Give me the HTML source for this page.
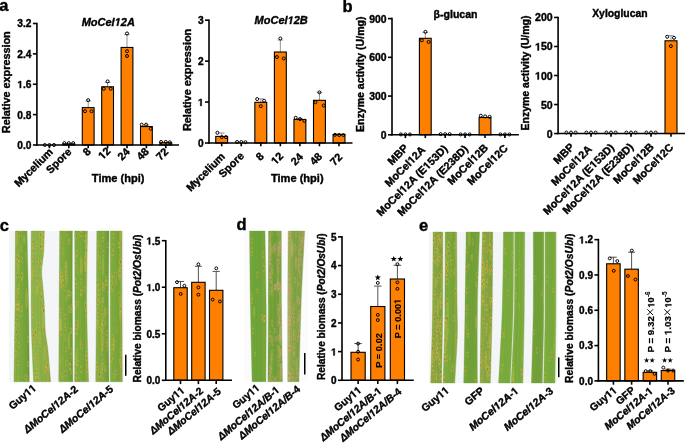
<!DOCTYPE html>
<html><head><meta charset="utf-8"><style>
html,body{margin:0;padding:0;background:#fff;}
svg{display:block;font-family:"Liberation Sans", sans-serif;filter:blur(0.45px);}
text{stroke:#000;stroke-width:0.38px;}
</style></head><body>
<svg width="685" height="443" viewBox="0 0 685 443">
<defs><filter id="pblur" x="-5%" y="-5%" width="110%" height="110%"><feGaussianBlur stdDeviation="0.55"/></filter><linearGradient id="lg1" x1="0" y1="0" x2="1" y2="0"><stop offset="0" stop-color="#a1a949"/><stop offset="0.15" stop-color="#86ad42"/><stop offset="0.5" stop-color="#7eab3f"/><stop offset="0.85" stop-color="#75a13a"/><stop offset="1" stop-color="#658d33"/></linearGradient><clipPath id="clg1"><path d="M15.40,231.10 C15.37,237.58 15.27,257.18 15.20,270.00 C15.13,282.82 15.12,295.50 15.00,308.00 C14.88,320.50 14.67,332.70 14.50,345.00 C14.33,357.30 14.08,375.67 14.00,381.80 L29.30,381.80 C29.25,375.67 29.12,357.30 29.00,345.00 C28.88,332.70 28.80,320.50 28.60,308.00 C28.40,295.50 28.07,282.82 27.80,270.00 C27.53,257.18 27.13,237.58 27.00,231.10 Z"/></clipPath><linearGradient id="lg2" x1="0" y1="0" x2="1" y2="0"><stop offset="0" stop-color="#8fb249"/><stop offset="0.3" stop-color="#96b64f"/><stop offset="0.7" stop-color="#8bae45"/><stop offset="0.9" stop-color="#9aa949"/><stop offset="1" stop-color="#7e8d3e"/></linearGradient><clipPath id="clg2"><path d="M31.30,231.10 C31.28,234.25 31.22,244.85 31.20,250.00 C31.18,255.15 31.20,258.33 31.20,262.00 C31.20,265.67 31.20,268.33 31.20,272.00 C31.20,275.67 31.20,278.50 31.20,284.00 C31.20,289.50 31.15,297.33 31.20,305.00 C31.25,312.67 31.33,322.50 31.50,330.00 C31.67,337.50 31.85,341.37 32.20,350.00 C32.55,358.63 33.37,376.50 33.60,381.80 L50.60,381.80 C50.15,376.50 48.80,358.63 47.90,350.00 C47.00,341.37 45.80,337.50 45.20,330.00 C44.60,322.50 44.73,312.67 44.30,305.00 C43.87,297.33 43.05,289.50 42.60,284.00 C42.15,278.50 41.60,275.67 41.60,272.00 C41.60,268.33 42.23,265.67 42.60,262.00 C42.97,258.33 43.52,255.15 43.80,250.00 C44.08,244.85 44.22,234.25 44.30,231.10 Z"/></clipPath><linearGradient id="lg3" x1="0" y1="0" x2="1" y2="0"><stop offset="0" stop-color="#a1a949"/><stop offset="0.15" stop-color="#86ad42"/><stop offset="0.5" stop-color="#7eab3f"/><stop offset="0.85" stop-color="#75a13a"/><stop offset="1" stop-color="#658d33"/></linearGradient><clipPath id="clg3"><path d="M59.70,231.10 C59.62,243.92 59.35,282.88 59.20,308.00 C59.05,333.12 58.87,369.50 58.80,381.80 L72.90,381.80 C72.82,369.50 72.48,333.12 72.40,308.00 C72.32,282.88 72.40,243.92 72.40,231.10 Z"/></clipPath><linearGradient id="lg4" x1="0" y1="0" x2="1" y2="0"><stop offset="0" stop-color="#80ab3e"/><stop offset="0.3" stop-color="#80ac3f"/><stop offset="0.7" stop-color="#79a63a"/><stop offset="0.9" stop-color="#95a944"/><stop offset="1" stop-color="#8d8f42"/></linearGradient><clipPath id="clg4"><path d="M74.70,231.10 C74.75,243.92 75.00,282.88 75.00,308.00 C75.00,333.12 74.75,369.50 74.70,381.80 L88.60,381.80 C88.30,369.50 87.00,333.12 86.80,308.00 C86.60,282.88 87.30,243.92 87.40,231.10 Z"/></clipPath><linearGradient id="lg5" x1="0" y1="0" x2="1" y2="0"><stop offset="0" stop-color="#a1a949"/><stop offset="0.15" stop-color="#86ad42"/><stop offset="0.5" stop-color="#7eab3f"/><stop offset="0.85" stop-color="#75a13a"/><stop offset="1" stop-color="#658d33"/></linearGradient><clipPath id="clg5"><path d="M96.80,231.10 C96.73,243.92 96.57,282.88 96.40,308.00 C96.23,333.12 95.90,369.50 95.80,381.80 L109.00,381.80 C108.92,369.50 108.50,333.12 108.50,308.00 C108.50,282.88 108.92,243.92 109.00,231.10 Z"/></clipPath><linearGradient id="lg6" x1="0" y1="0" x2="1" y2="0"><stop offset="0" stop-color="#80ab3e"/><stop offset="0.3" stop-color="#80ac3f"/><stop offset="0.7" stop-color="#79a63a"/><stop offset="0.9" stop-color="#95a944"/><stop offset="1" stop-color="#8d8f42"/></linearGradient><clipPath id="clg6"><path d="M110.30,231.10 C110.30,243.92 110.30,282.88 110.30,308.00 C110.30,333.12 110.30,369.50 110.30,381.80 L122.40,381.80 C122.33,369.50 122.07,333.12 122.00,308.00 C121.93,282.88 122.00,243.92 122.00,231.10 Z"/></clipPath><linearGradient id="lg7" x1="0" y1="0" x2="1" y2="0"><stop offset="0" stop-color="#74a83c"/><stop offset="0.5" stop-color="#6ea438"/><stop offset="1" stop-color="#7aa63e"/></linearGradient><clipPath id="clg7"><path d="M249.60,231.10 C249.75,243.75 250.07,281.90 250.50,307.00 C250.93,332.10 251.92,369.25 252.20,381.70 L266.00,381.70 C266.03,369.25 266.37,332.10 266.20,307.00 C266.03,281.90 265.20,243.75 265.00,231.10 Z"/></clipPath><linearGradient id="lg8" x1="0" y1="0" x2="1" y2="0"><stop offset="0" stop-color="#75a53a"/><stop offset="0.5" stop-color="#72a139"/><stop offset="1" stop-color="#79a33c"/></linearGradient><clipPath id="clg8"><path d="M268.60,231.10 C268.55,243.75 268.40,281.90 268.30,307.00 C268.20,332.10 268.05,369.25 268.00,381.70 L282.50,381.70 C282.33,369.25 281.70,332.10 281.50,307.00 C281.30,281.90 281.33,243.75 281.30,231.10 Z"/></clipPath><linearGradient id="lg9" x1="0" y1="0" x2="1" y2="0"><stop offset="0" stop-color="#b8b067"/><stop offset="0.12" stop-color="#9aae52"/><stop offset="0.4" stop-color="#80a544"/><stop offset="1" stop-color="#88a147"/></linearGradient><clipPath id="clg9"><path d="M288.20,231.10 C288.13,243.75 287.87,281.90 287.80,307.00 C287.73,332.10 287.80,369.25 287.80,381.70 L299.00,381.70 C299.33,369.25 300.07,332.10 301.00,307.00 C301.93,281.90 304.00,243.75 304.60,231.10 Z"/></clipPath><linearGradient id="lg10" x1="0" y1="0" x2="1" y2="0"><stop offset="0" stop-color="#9ca949"/><stop offset="0.3" stop-color="#8ba944"/><stop offset="0.7" stop-color="#88a542"/><stop offset="1" stop-color="#7d9a3e"/></linearGradient><clipPath id="clg10"><path d="M433.10,232.00 C433.02,244.67 432.98,282.83 432.60,308.00 C432.22,333.17 431.10,370.50 430.80,383.00 L441.60,383.00 C441.78,370.50 442.52,333.17 442.70,308.00 C442.88,282.83 442.70,244.67 442.70,232.00 Z"/></clipPath><linearGradient id="lg11" x1="0" y1="0" x2="1" y2="0"><stop offset="0" stop-color="#80ab3e"/><stop offset="0.3" stop-color="#80ac3f"/><stop offset="0.7" stop-color="#79a63a"/><stop offset="0.9" stop-color="#95a944"/><stop offset="1" stop-color="#8d8f42"/></linearGradient><clipPath id="clg11"><path d="M445.20,232.00 C445.15,244.67 445.02,290.83 444.90,308.00 C444.78,325.17 444.80,322.50 444.50,335.00 C444.20,347.50 443.33,375.00 443.10,383.00 L454.80,383.00 C455.22,375.00 456.92,347.50 457.30,335.00 C457.68,322.50 457.22,325.17 457.10,308.00 C456.98,290.83 456.68,244.67 456.60,232.00 Z"/></clipPath><linearGradient id="lg12" x1="0" y1="0" x2="1" y2="0"><stop offset="0" stop-color="#75a53a"/><stop offset="0.5" stop-color="#72a139"/><stop offset="1" stop-color="#79a33c"/></linearGradient><clipPath id="clg12"><path d="M466.20,232.00 C466.02,244.67 465.50,282.83 465.10,308.00 C464.70,333.17 464.02,370.50 463.80,383.00 L477.40,383.00 C477.40,370.50 477.05,333.17 477.40,308.00 C477.75,282.83 479.15,244.67 479.50,232.00 Z"/></clipPath><linearGradient id="lg13" x1="0" y1="0" x2="1" y2="0"><stop offset="0" stop-color="#9ca949"/><stop offset="0.3" stop-color="#8ba944"/><stop offset="0.7" stop-color="#88a542"/><stop offset="1" stop-color="#7d9a3e"/></linearGradient><clipPath id="clg13"><path d="M482.40,232.00 C482.17,244.67 481.38,282.83 481.00,308.00 C480.62,333.17 480.25,370.50 480.10,383.00 L490.40,383.00 C490.70,370.50 491.82,333.17 492.20,308.00 C492.58,282.83 492.62,244.67 492.70,232.00 Z"/></clipPath><linearGradient id="lg14" x1="0" y1="0" x2="1" y2="0"><stop offset="0" stop-color="#80b040"/><stop offset="0.5" stop-color="#7bac3c"/><stop offset="1" stop-color="#82ac42"/></linearGradient><clipPath id="clg14"><path d="M503.50,232.00 C503.30,244.67 503.10,282.83 502.30,308.00 C501.50,333.17 499.30,370.50 498.70,383.00 L510.20,383.00 C510.68,370.50 512.55,333.17 513.10,308.00 C513.65,282.83 513.43,244.67 513.50,232.00 Z"/></clipPath><linearGradient id="lg15" x1="0" y1="0" x2="1" y2="0"><stop offset="0" stop-color="#80b040"/><stop offset="0.5" stop-color="#7bac3c"/><stop offset="1" stop-color="#82ac42"/></linearGradient><clipPath id="clg15"><path d="M514.70,232.00 C514.65,244.67 514.97,282.83 514.40,308.00 C513.83,333.17 511.82,370.50 511.30,383.00 L522.90,383.00 C523.13,370.50 524.00,333.17 524.30,308.00 C524.60,282.83 524.63,244.67 524.70,232.00 Z"/></clipPath><linearGradient id="lg16" x1="0" y1="0" x2="1" y2="0"><stop offset="0" stop-color="#75a53a"/><stop offset="0.5" stop-color="#72a139"/><stop offset="1" stop-color="#79a33c"/></linearGradient><clipPath id="clg16"><path d="M533.30,232.00 C533.30,244.67 533.60,282.83 533.30,308.00 C533.00,333.17 531.80,370.50 531.50,383.00 L542.40,383.00 C542.63,370.50 543.57,333.17 543.80,308.00 C544.03,282.83 543.80,244.67 543.80,232.00 Z"/></clipPath><linearGradient id="lg17" x1="0" y1="0" x2="1" y2="0"><stop offset="0" stop-color="#80b040"/><stop offset="0.5" stop-color="#7bac3c"/><stop offset="1" stop-color="#82ac42"/></linearGradient><clipPath id="clg17"><path d="M545.10,232.00 C545.10,244.67 545.32,282.83 545.10,308.00 C544.88,333.17 544.02,370.50 543.80,383.00 L555.00,383.00 C555.15,370.50 555.75,333.17 555.90,308.00 C556.05,282.83 555.90,244.67 555.90,232.00 Z"/></clipPath></defs>
<g filter="url(#pblur)">
<rect x="9.1" y="231.1" width="114.5" height="150.7" fill="#f4f5f6"/>
<path d="M15.40,231.10 C15.37,237.58 15.27,257.18 15.20,270.00 C15.13,282.82 15.12,295.50 15.00,308.00 C14.88,320.50 14.67,332.70 14.50,345.00 C14.33,357.30 14.08,375.67 14.00,381.80 L29.30,381.80 C29.25,375.67 29.12,357.30 29.00,345.00 C28.88,332.70 28.80,320.50 28.60,308.00 C28.40,295.50 28.07,282.82 27.80,270.00 C27.53,257.18 27.13,237.58 27.00,231.10 Z" fill="url(#lg1)" stroke="#6e9c3c" stroke-width="0.6" stroke-opacity="0.6"/>
<g clip-path="url(#clg1)">
<path d="M17.53,231.10 L17.51,270.00 L17.49,308.00 L17.16,345.00 L16.81,381.80" fill="none" stroke="#5e8e2c" stroke-width="1.0" opacity="0.18"/>
<path d="M20.44,231.10 L20.68,270.00 L20.91,308.00 L20.80,345.00 L20.65,381.80" fill="none" stroke="#5e8e2c" stroke-width="1.0" opacity="0.18"/>
<path d="M22.43,231.10 L22.84,270.00 L23.25,308.00 L23.29,345.00 L23.28,381.80" fill="none" stroke="#5e8e2c" stroke-width="1.0" opacity="0.18"/>
<path d="M23.93,231.10 L24.47,270.00 L25.00,308.00 L25.16,345.00 L25.25,381.80" fill="none" stroke="#5e8e2c" stroke-width="1.0" opacity="0.18"/>
<ellipse cx="18.55" cy="305.80" rx="1.37" ry="5.56" fill="#cbbd48" opacity="0.35"/>
<ellipse cx="24.15" cy="239.15" rx="1.36" ry="5.01" fill="#cbbd48" opacity="0.35"/>
<ellipse cx="26.53" cy="298.66" rx="1.47" ry="10.41" fill="#cbbd48" opacity="0.35"/>
<ellipse cx="16.82" cy="239.47" rx="1.46" ry="7.29" fill="#cbbd48" opacity="0.35"/>
<ellipse cx="17.87" cy="266.01" rx="1.03" ry="7.63" fill="#cbbd48" opacity="0.35"/>
<ellipse cx="16.26" cy="305.83" rx="1.00" ry="3.26" fill="#cbbd48" opacity="0.38"/>
<ellipse cx="16.26" cy="305.83" rx="0.30" ry="1.26" fill="#7a582a" opacity="0.55"/>
<ellipse cx="17.17" cy="275.19" rx="1.09" ry="3.44" fill="#cbbd48" opacity="0.38"/>
<ellipse cx="17.17" cy="275.19" rx="0.39" ry="1.44" fill="#7a582a" opacity="0.55"/>
<ellipse cx="21.92" cy="259.74" rx="0.98" ry="3.13" fill="#cbbd48" opacity="0.38"/>
<ellipse cx="21.92" cy="259.74" rx="0.28" ry="1.13" fill="#7a582a" opacity="0.55"/>
<ellipse cx="27.83" cy="339.38" rx="1.06" ry="3.63" fill="#cbbd48" opacity="0.38"/>
<ellipse cx="27.83" cy="339.38" rx="0.36" ry="1.63" fill="#7a582a" opacity="0.55"/>
<ellipse cx="16.50" cy="331.77" rx="1.17" ry="3.65" fill="#cbbd48" opacity="0.38"/>
<ellipse cx="16.50" cy="331.77" rx="0.47" ry="1.65" fill="#7a582a" opacity="0.55"/>
<ellipse cx="17.75" cy="307.24" rx="1.01" ry="3.60" fill="#cbbd48" opacity="0.38"/>
<ellipse cx="17.75" cy="307.24" rx="0.31" ry="1.60" fill="#7a582a" opacity="0.55"/>
<ellipse cx="16.73" cy="293.71" rx="1.13" ry="3.47" fill="#cbbd48" opacity="0.38"/>
<ellipse cx="16.73" cy="293.71" rx="0.43" ry="1.47" fill="#7a582a" opacity="0.55"/>
<ellipse cx="18.39" cy="287.82" rx="1.14" ry="3.32" fill="#cbbd48" opacity="0.38"/>
<ellipse cx="18.39" cy="287.82" rx="0.44" ry="1.32" fill="#7a582a" opacity="0.55"/>
<ellipse cx="17.72" cy="290.58" rx="0.96" ry="3.50" fill="#cbbd48" opacity="0.38"/>
<ellipse cx="17.72" cy="290.58" rx="0.26" ry="1.50" fill="#7a582a" opacity="0.55"/>
<ellipse cx="17.70" cy="378.30" rx="0.99" ry="3.30" fill="#cbbd48" opacity="0.38"/>
<ellipse cx="17.70" cy="378.30" rx="0.29" ry="1.30" fill="#7a582a" opacity="0.55"/>
<ellipse cx="27.50" cy="378.13" rx="1.17" ry="3.03" fill="#cbbd48" opacity="0.38"/>
<ellipse cx="27.50" cy="378.13" rx="0.47" ry="1.03" fill="#7a582a" opacity="0.55"/>
<ellipse cx="21.91" cy="308.50" rx="1.06" ry="3.07" fill="#cbbd48" opacity="0.38"/>
<ellipse cx="21.91" cy="308.50" rx="0.36" ry="1.07" fill="#7a582a" opacity="0.55"/>
<ellipse cx="21.10" cy="313.59" rx="1.15" ry="3.62" fill="#cbbd48" opacity="0.38"/>
<ellipse cx="21.10" cy="313.59" rx="0.45" ry="1.62" fill="#7a582a" opacity="0.55"/>
<ellipse cx="27.80" cy="363.87" rx="1.08" ry="3.36" fill="#cbbd48" opacity="0.38"/>
<ellipse cx="27.80" cy="363.87" rx="0.38" ry="1.36" fill="#7a582a" opacity="0.55"/>
<ellipse cx="17.18" cy="295.46" rx="1.09" ry="3.00" fill="#cbbd48" opacity="0.38"/>
<ellipse cx="17.18" cy="295.46" rx="0.39" ry="1.00" fill="#7a582a" opacity="0.55"/>
<ellipse cx="18.20" cy="307.15" rx="1.04" ry="3.34" fill="#cbbd48" opacity="0.38"/>
<ellipse cx="18.20" cy="307.15" rx="0.34" ry="1.34" fill="#7a582a" opacity="0.55"/>
<ellipse cx="18.22" cy="324.81" rx="0.96" ry="3.03" fill="#cbbd48" opacity="0.38"/>
<ellipse cx="18.22" cy="324.81" rx="0.26" ry="1.03" fill="#7a582a" opacity="0.55"/>
<ellipse cx="18.84" cy="258.45" rx="1.15" ry="3.60" fill="#cbbd48" opacity="0.38"/>
<ellipse cx="18.84" cy="258.45" rx="0.45" ry="1.60" fill="#7a582a" opacity="0.55"/>
<ellipse cx="16.63" cy="353.50" rx="1.12" ry="2.88" fill="#cbbd48" opacity="0.38"/>
<ellipse cx="16.63" cy="353.50" rx="0.42" ry="0.88" fill="#7a582a" opacity="0.55"/>
<ellipse cx="17.14" cy="234.58" rx="1.01" ry="2.91" fill="#cbbd48" opacity="0.38"/>
<ellipse cx="17.14" cy="234.58" rx="0.31" ry="0.91" fill="#7a582a" opacity="0.55"/>
<ellipse cx="15.85" cy="325.01" rx="0.99" ry="3.33" fill="#cbbd48" opacity="0.38"/>
<ellipse cx="15.85" cy="325.01" rx="0.29" ry="1.33" fill="#7a582a" opacity="0.55"/>
<ellipse cx="17.03" cy="257.10" rx="1.06" ry="3.12" fill="#cbbd48" opacity="0.38"/>
<ellipse cx="17.03" cy="257.10" rx="0.36" ry="1.12" fill="#7a582a" opacity="0.55"/>
<ellipse cx="16.48" cy="302.55" rx="1.06" ry="2.99" fill="#cbbd48" opacity="0.38"/>
<ellipse cx="16.48" cy="302.55" rx="0.36" ry="0.99" fill="#7a582a" opacity="0.55"/>
<ellipse cx="21.35" cy="248.27" rx="1.00" ry="3.41" fill="#cbbd48" opacity="0.38"/>
<ellipse cx="21.35" cy="248.27" rx="0.30" ry="1.41" fill="#7a582a" opacity="0.55"/>
<ellipse cx="15.47" cy="353.59" rx="0.99" ry="3.52" fill="#cbbd48" opacity="0.38"/>
<ellipse cx="15.47" cy="353.59" rx="0.29" ry="1.52" fill="#7a582a" opacity="0.55"/>
<ellipse cx="26.29" cy="255.93" rx="1.09" ry="3.02" fill="#cbbd48" opacity="0.38"/>
<ellipse cx="26.29" cy="255.93" rx="0.39" ry="1.02" fill="#7a582a" opacity="0.55"/>
<ellipse cx="25.49" cy="377.17" rx="1.01" ry="3.45" fill="#cbbd48" opacity="0.38"/>
<ellipse cx="25.49" cy="377.17" rx="0.31" ry="1.45" fill="#7a582a" opacity="0.55"/>
<ellipse cx="18.13" cy="290.82" rx="1.11" ry="2.86" fill="#cbbd48" opacity="0.38"/>
<ellipse cx="18.13" cy="290.82" rx="0.41" ry="0.86" fill="#7a582a" opacity="0.55"/>
<ellipse cx="22.08" cy="276.50" rx="1.03" ry="3.66" fill="#cbbd48" opacity="0.38"/>
<ellipse cx="22.08" cy="276.50" rx="0.33" ry="1.66" fill="#7a582a" opacity="0.55"/>
<ellipse cx="21.91" cy="278.25" rx="1.05" ry="3.05" fill="#cbbd48" opacity="0.38"/>
<ellipse cx="21.91" cy="278.25" rx="0.35" ry="1.05" fill="#7a582a" opacity="0.55"/>
<ellipse cx="20.57" cy="233.36" rx="1.15" ry="3.76" fill="#cbbd48" opacity="0.38"/>
<ellipse cx="20.57" cy="233.36" rx="0.45" ry="1.76" fill="#7a582a" opacity="0.55"/>
<ellipse cx="17.05" cy="316.90" rx="1.19" ry="3.50" fill="#cbbd48" opacity="0.38"/>
<ellipse cx="17.05" cy="316.90" rx="0.49" ry="1.50" fill="#7a582a" opacity="0.55"/>
<ellipse cx="16.42" cy="307.77" rx="1.00" ry="3.47" fill="#cbbd48" opacity="0.38"/>
<ellipse cx="16.42" cy="307.77" rx="0.30" ry="1.47" fill="#7a582a" opacity="0.55"/>
<ellipse cx="16.10" cy="296.48" rx="1.12" ry="3.10" fill="#cbbd48" opacity="0.38"/>
<ellipse cx="16.10" cy="296.48" rx="0.42" ry="1.10" fill="#7a582a" opacity="0.55"/>
<ellipse cx="17.16" cy="306.42" rx="1.17" ry="2.82" fill="#cbbd48" opacity="0.38"/>
<ellipse cx="17.16" cy="306.42" rx="0.47" ry="0.82" fill="#7a582a" opacity="0.55"/>
<ellipse cx="17.41" cy="261.97" rx="1.15" ry="3.14" fill="#cbbd48" opacity="0.38"/>
<ellipse cx="17.41" cy="261.97" rx="0.45" ry="1.14" fill="#7a582a" opacity="0.55"/>
<ellipse cx="18.81" cy="263.78" rx="1.18" ry="3.14" fill="#cbbd48" opacity="0.38"/>
<ellipse cx="18.81" cy="263.78" rx="0.48" ry="1.14" fill="#7a582a" opacity="0.55"/>
<ellipse cx="17.95" cy="363.31" rx="1.20" ry="3.03" fill="#cbbd48" opacity="0.38"/>
<ellipse cx="17.95" cy="363.31" rx="0.50" ry="1.03" fill="#7a582a" opacity="0.55"/>
<ellipse cx="15.83" cy="339.98" rx="1.18" ry="3.01" fill="#cbbd48" opacity="0.38"/>
<ellipse cx="15.83" cy="339.98" rx="0.48" ry="1.01" fill="#7a582a" opacity="0.55"/>
<ellipse cx="18.60" cy="344.98" rx="1.04" ry="3.14" fill="#cbbd48" opacity="0.38"/>
<ellipse cx="18.60" cy="344.98" rx="0.34" ry="1.14" fill="#7a582a" opacity="0.55"/>
<ellipse cx="21.69" cy="275.40" rx="1.19" ry="3.69" fill="#cbbd48" opacity="0.38"/>
<ellipse cx="21.69" cy="275.40" rx="0.49" ry="1.69" fill="#7a582a" opacity="0.55"/>
<ellipse cx="17.77" cy="252.23" rx="0.96" ry="2.87" fill="#cbbd48" opacity="0.38"/>
<ellipse cx="17.77" cy="252.23" rx="0.26" ry="0.87" fill="#7a582a" opacity="0.55"/>
</g>
<path d="M31.30,231.10 C31.28,234.25 31.22,244.85 31.20,250.00 C31.18,255.15 31.20,258.33 31.20,262.00 C31.20,265.67 31.20,268.33 31.20,272.00 C31.20,275.67 31.20,278.50 31.20,284.00 C31.20,289.50 31.15,297.33 31.20,305.00 C31.25,312.67 31.33,322.50 31.50,330.00 C31.67,337.50 31.85,341.37 32.20,350.00 C32.55,358.63 33.37,376.50 33.60,381.80 L50.60,381.80 C50.15,376.50 48.80,358.63 47.90,350.00 C47.00,341.37 45.80,337.50 45.20,330.00 C44.60,322.50 44.73,312.67 44.30,305.00 C43.87,297.33 43.05,289.50 42.60,284.00 C42.15,278.50 41.60,275.67 41.60,272.00 C41.60,268.33 42.23,265.67 42.60,262.00 C42.97,258.33 43.52,255.15 43.80,250.00 C44.08,244.85 44.22,234.25 44.30,231.10 Z" fill="url(#lg2)" stroke="#6e9c3c" stroke-width="0.6" stroke-opacity="0.6"/>
<g clip-path="url(#clg2)">
<path d="M34.75,231.10 L34.55,250.00 L34.23,262.00 L33.96,272.00 L34.23,284.00 L34.68,305.00 L35.14,330.00 L36.37,350.00 L38.12,381.80" fill="none" stroke="#5e8e2c" stroke-width="1.0" opacity="0.18"/>
<path d="M37.08,231.10 L36.80,250.00 L36.27,262.00 L35.83,272.00 L36.27,284.00 L37.03,305.00 L37.59,330.00 L39.18,350.00 L41.16,381.80" fill="none" stroke="#5e8e2c" stroke-width="1.0" opacity="0.18"/>
<path d="M38.26,231.10 L37.95,250.00 L37.31,262.00 L36.77,272.00 L37.31,284.00 L38.22,305.00 L38.84,330.00 L40.61,350.00 L42.71,381.80" fill="none" stroke="#5e8e2c" stroke-width="1.0" opacity="0.18"/>
<path d="M40.64,231.10 L40.25,250.00 L39.39,262.00 L38.67,272.00 L39.39,284.00 L40.61,305.00 L41.34,330.00 L43.48,350.00 L45.81,381.80" fill="none" stroke="#5e8e2c" stroke-width="1.0" opacity="0.18"/>
<ellipse cx="44.47" cy="354.33" rx="1.08" ry="8.64" fill="#cbbd48" opacity="0.35"/>
<ellipse cx="42.94" cy="321.69" rx="1.16" ry="7.36" fill="#cbbd48" opacity="0.35"/>
<ellipse cx="39.50" cy="338.27" rx="1.23" ry="7.67" fill="#cbbd48" opacity="0.35"/>
<ellipse cx="31.99" cy="273.38" rx="1.18" ry="6.91" fill="#cbbd48" opacity="0.35"/>
<ellipse cx="37.14" cy="289.33" rx="1.24" ry="6.42" fill="#cbbd48" opacity="0.35"/>
<ellipse cx="42.20" cy="238.50" rx="1.21" ry="10.99" fill="#cbbd48" opacity="0.35"/>
<ellipse cx="35.62" cy="332.40" rx="1.15" ry="3.53" fill="#cbbd48" opacity="0.38"/>
<ellipse cx="35.62" cy="332.40" rx="0.45" ry="1.53" fill="#7a582a" opacity="0.55"/>
<ellipse cx="45.64" cy="366.91" rx="1.04" ry="3.78" fill="#cbbd48" opacity="0.38"/>
<ellipse cx="45.64" cy="366.91" rx="0.34" ry="1.78" fill="#7a582a" opacity="0.55"/>
<ellipse cx="35.67" cy="375.13" rx="1.13" ry="3.26" fill="#cbbd48" opacity="0.38"/>
<ellipse cx="35.67" cy="375.13" rx="0.43" ry="1.26" fill="#7a582a" opacity="0.55"/>
<ellipse cx="43.52" cy="310.96" rx="1.08" ry="3.63" fill="#cbbd48" opacity="0.38"/>
<ellipse cx="43.52" cy="310.96" rx="0.38" ry="1.63" fill="#7a582a" opacity="0.55"/>
<ellipse cx="37.49" cy="284.73" rx="1.07" ry="3.37" fill="#cbbd48" opacity="0.38"/>
<ellipse cx="37.49" cy="284.73" rx="0.37" ry="1.37" fill="#7a582a" opacity="0.55"/>
<ellipse cx="45.37" cy="368.95" rx="1.01" ry="3.12" fill="#cbbd48" opacity="0.38"/>
<ellipse cx="45.37" cy="368.95" rx="0.31" ry="1.12" fill="#7a582a" opacity="0.55"/>
<ellipse cx="34.00" cy="336.13" rx="1.02" ry="3.71" fill="#cbbd48" opacity="0.38"/>
<ellipse cx="34.00" cy="336.13" rx="0.32" ry="1.71" fill="#7a582a" opacity="0.55"/>
<ellipse cx="36.94" cy="278.13" rx="1.08" ry="3.32" fill="#cbbd48" opacity="0.38"/>
<ellipse cx="36.94" cy="278.13" rx="0.38" ry="1.32" fill="#7a582a" opacity="0.55"/>
<ellipse cx="43.26" cy="328.97" rx="1.00" ry="3.31" fill="#cbbd48" opacity="0.38"/>
<ellipse cx="43.26" cy="328.97" rx="0.30" ry="1.31" fill="#7a582a" opacity="0.55"/>
<ellipse cx="44.95" cy="371.01" rx="1.16" ry="3.53" fill="#cbbd48" opacity="0.38"/>
<ellipse cx="44.95" cy="371.01" rx="0.46" ry="1.53" fill="#7a582a" opacity="0.55"/>
<ellipse cx="37.39" cy="367.07" rx="0.96" ry="3.45" fill="#cbbd48" opacity="0.38"/>
<ellipse cx="37.39" cy="367.07" rx="0.26" ry="1.45" fill="#7a582a" opacity="0.55"/>
<ellipse cx="34.34" cy="272.71" rx="0.98" ry="3.32" fill="#cbbd48" opacity="0.38"/>
<ellipse cx="34.34" cy="272.71" rx="0.28" ry="1.32" fill="#7a582a" opacity="0.55"/>
<ellipse cx="36.21" cy="359.08" rx="1.17" ry="3.22" fill="#cbbd48" opacity="0.38"/>
<ellipse cx="36.21" cy="359.08" rx="0.47" ry="1.22" fill="#7a582a" opacity="0.55"/>
<ellipse cx="33.36" cy="338.71" rx="0.99" ry="3.47" fill="#cbbd48" opacity="0.38"/>
<ellipse cx="33.36" cy="338.71" rx="0.29" ry="1.47" fill="#7a582a" opacity="0.55"/>
<ellipse cx="36.92" cy="244.43" rx="1.13" ry="2.82" fill="#cbbd48" opacity="0.38"/>
<ellipse cx="36.92" cy="244.43" rx="0.43" ry="0.82" fill="#7a582a" opacity="0.55"/>
<ellipse cx="36.01" cy="270.12" rx="1.00" ry="3.49" fill="#cbbd48" opacity="0.38"/>
<ellipse cx="36.01" cy="270.12" rx="0.30" ry="1.49" fill="#7a582a" opacity="0.55"/>
<ellipse cx="33.31" cy="289.43" rx="0.99" ry="2.84" fill="#cbbd48" opacity="0.38"/>
<ellipse cx="33.31" cy="289.43" rx="0.29" ry="0.84" fill="#7a582a" opacity="0.55"/>
<ellipse cx="40.04" cy="283.28" rx="0.98" ry="3.14" fill="#cbbd48" opacity="0.38"/>
<ellipse cx="40.04" cy="283.28" rx="0.28" ry="1.14" fill="#7a582a" opacity="0.55"/>
<ellipse cx="42.98" cy="236.68" rx="1.13" ry="3.70" fill="#cbbd48" opacity="0.38"/>
<ellipse cx="42.98" cy="236.68" rx="0.43" ry="1.70" fill="#7a582a" opacity="0.55"/>
<ellipse cx="39.87" cy="344.47" rx="1.07" ry="3.03" fill="#cbbd48" opacity="0.38"/>
<ellipse cx="39.87" cy="344.47" rx="0.37" ry="1.03" fill="#7a582a" opacity="0.55"/>
<ellipse cx="43.04" cy="330.37" rx="1.06" ry="3.67" fill="#cbbd48" opacity="0.38"/>
<ellipse cx="43.04" cy="330.37" rx="0.36" ry="1.67" fill="#7a582a" opacity="0.55"/>
<ellipse cx="42.04" cy="251.06" rx="1.08" ry="2.94" fill="#cbbd48" opacity="0.38"/>
<ellipse cx="42.04" cy="251.06" rx="0.38" ry="0.94" fill="#7a582a" opacity="0.55"/>
<ellipse cx="37.62" cy="374.81" rx="1.05" ry="2.82" fill="#cbbd48" opacity="0.38"/>
<ellipse cx="37.62" cy="374.81" rx="0.35" ry="0.82" fill="#7a582a" opacity="0.55"/>
<ellipse cx="32.30" cy="315.07" rx="0.96" ry="2.96" fill="#cbbd48" opacity="0.38"/>
<ellipse cx="32.30" cy="315.07" rx="0.26" ry="0.96" fill="#7a582a" opacity="0.55"/>
<ellipse cx="40.74" cy="246.36" rx="1.20" ry="3.73" fill="#cbbd48" opacity="0.38"/>
<ellipse cx="40.74" cy="246.36" rx="0.50" ry="1.73" fill="#7a582a" opacity="0.55"/>
<ellipse cx="37.67" cy="379.99" rx="1.01" ry="3.39" fill="#cbbd48" opacity="0.38"/>
<ellipse cx="37.67" cy="379.99" rx="0.31" ry="1.39" fill="#7a582a" opacity="0.55"/>
<ellipse cx="38.52" cy="324.91" rx="1.01" ry="3.22" fill="#cbbd48" opacity="0.38"/>
<ellipse cx="38.52" cy="324.91" rx="0.31" ry="1.22" fill="#7a582a" opacity="0.55"/>
<ellipse cx="32.20" cy="310.34" rx="1.05" ry="2.91" fill="#cbbd48" opacity="0.38"/>
<ellipse cx="32.20" cy="310.34" rx="0.35" ry="0.91" fill="#7a582a" opacity="0.55"/>
<ellipse cx="34.95" cy="339.72" rx="1.00" ry="3.03" fill="#cbbd48" opacity="0.38"/>
<ellipse cx="34.95" cy="339.72" rx="0.30" ry="1.03" fill="#7a582a" opacity="0.55"/>
<ellipse cx="40.97" cy="264.42" rx="1.03" ry="3.44" fill="#cbbd48" opacity="0.38"/>
<ellipse cx="40.97" cy="264.42" rx="0.33" ry="1.44" fill="#7a582a" opacity="0.55"/>
<ellipse cx="37.46" cy="263.69" rx="1.13" ry="3.23" fill="#cbbd48" opacity="0.38"/>
<ellipse cx="37.46" cy="263.69" rx="0.43" ry="1.23" fill="#7a582a" opacity="0.55"/>
<ellipse cx="42.20" cy="308.16" rx="1.05" ry="3.33" fill="#cbbd48" opacity="0.38"/>
<ellipse cx="42.20" cy="308.16" rx="0.35" ry="1.33" fill="#7a582a" opacity="0.55"/>
<ellipse cx="33.03" cy="259.05" rx="1.04" ry="3.32" fill="#cbbd48" opacity="0.38"/>
<ellipse cx="33.03" cy="259.05" rx="0.34" ry="1.32" fill="#7a582a" opacity="0.55"/>
<ellipse cx="45.11" cy="369.12" rx="1.20" ry="3.17" fill="#cbbd48" opacity="0.38"/>
<ellipse cx="45.11" cy="369.12" rx="0.50" ry="1.17" fill="#7a582a" opacity="0.55"/>
<ellipse cx="40.41" cy="234.93" rx="1.03" ry="3.64" fill="#cbbd48" opacity="0.38"/>
<ellipse cx="40.41" cy="234.93" rx="0.33" ry="1.64" fill="#7a582a" opacity="0.55"/>
<ellipse cx="33.18" cy="332.11" rx="1.05" ry="3.29" fill="#cbbd48" opacity="0.38"/>
<ellipse cx="33.18" cy="332.11" rx="0.35" ry="1.29" fill="#7a582a" opacity="0.55"/>
<ellipse cx="40.54" cy="263.07" rx="1.02" ry="3.17" fill="#cbbd48" opacity="0.38"/>
<ellipse cx="40.54" cy="263.07" rx="0.32" ry="1.17" fill="#7a582a" opacity="0.55"/>
<ellipse cx="35.48" cy="371.17" rx="1.00" ry="3.37" fill="#cbbd48" opacity="0.38"/>
<ellipse cx="35.48" cy="371.17" rx="0.30" ry="1.37" fill="#7a582a" opacity="0.55"/>
<ellipse cx="42.04" cy="290.36" rx="1.05" ry="2.92" fill="#cbbd48" opacity="0.38"/>
<ellipse cx="42.04" cy="290.36" rx="0.35" ry="0.92" fill="#7a582a" opacity="0.55"/>
<ellipse cx="33.20" cy="250.21" rx="1.11" ry="3.76" fill="#cbbd48" opacity="0.38"/>
<ellipse cx="33.20" cy="250.21" rx="0.41" ry="1.76" fill="#7a582a" opacity="0.55"/>
<ellipse cx="33.61" cy="335.10" rx="1.14" ry="3.52" fill="#cbbd48" opacity="0.38"/>
<ellipse cx="33.61" cy="335.10" rx="0.44" ry="1.52" fill="#7a582a" opacity="0.55"/>
<ellipse cx="42.71" cy="306.15" rx="1.15" ry="3.07" fill="#cbbd48" opacity="0.38"/>
<ellipse cx="42.71" cy="306.15" rx="0.45" ry="1.07" fill="#7a582a" opacity="0.55"/>
<ellipse cx="43.54" cy="310.36" rx="1.15" ry="3.73" fill="#cbbd48" opacity="0.38"/>
<ellipse cx="43.54" cy="310.36" rx="0.45" ry="1.73" fill="#7a582a" opacity="0.55"/>
<ellipse cx="36.10" cy="356.41" rx="1.07" ry="3.06" fill="#cbbd48" opacity="0.38"/>
<ellipse cx="36.10" cy="356.41" rx="0.37" ry="1.06" fill="#7a582a" opacity="0.55"/>
<ellipse cx="41.05" cy="295.69" rx="1.10" ry="3.62" fill="#cbbd48" opacity="0.38"/>
<ellipse cx="41.05" cy="295.69" rx="0.40" ry="1.62" fill="#7a582a" opacity="0.55"/>
<ellipse cx="43.07" cy="246.37" rx="0.99" ry="3.22" fill="#cbbd48" opacity="0.38"/>
<ellipse cx="43.07" cy="246.37" rx="0.29" ry="1.22" fill="#7a582a" opacity="0.55"/>
<ellipse cx="33.33" cy="242.04" rx="1.20" ry="3.45" fill="#cbbd48" opacity="0.38"/>
<ellipse cx="33.33" cy="242.04" rx="0.50" ry="1.45" fill="#7a582a" opacity="0.55"/>
<ellipse cx="33.94" cy="251.21" rx="1.12" ry="3.48" fill="#cbbd48" opacity="0.38"/>
<ellipse cx="33.94" cy="251.21" rx="0.42" ry="1.48" fill="#7a582a" opacity="0.55"/>
<ellipse cx="41.64" cy="297.36" rx="1.09" ry="3.75" fill="#cbbd48" opacity="0.38"/>
<ellipse cx="41.64" cy="297.36" rx="0.39" ry="1.75" fill="#7a582a" opacity="0.55"/>
<ellipse cx="33.85" cy="344.48" rx="1.13" ry="3.06" fill="#cbbd48" opacity="0.38"/>
<ellipse cx="33.85" cy="344.48" rx="0.43" ry="1.06" fill="#7a582a" opacity="0.55"/>
<ellipse cx="47.51" cy="365.17" rx="1.05" ry="3.80" fill="#cbbd48" opacity="0.38"/>
<ellipse cx="47.51" cy="365.17" rx="0.35" ry="1.80" fill="#7a582a" opacity="0.55"/>
<ellipse cx="45.33" cy="348.50" rx="1.06" ry="2.83" fill="#cbbd48" opacity="0.38"/>
<ellipse cx="45.33" cy="348.50" rx="0.36" ry="0.83" fill="#7a582a" opacity="0.55"/>
</g>
<path d="M59.70,231.10 C59.62,243.92 59.35,282.88 59.20,308.00 C59.05,333.12 58.87,369.50 58.80,381.80 L72.90,381.80 C72.82,369.50 72.48,333.12 72.40,308.00 C72.32,282.88 72.40,243.92 72.40,231.10 Z" fill="url(#lg3)" stroke="#6e9c3c" stroke-width="0.6" stroke-opacity="0.6"/>
<g clip-path="url(#clg3)">
<path d="M62.16,231.10 L61.76,308.00 L61.53,381.80" fill="none" stroke="#5e8e2c" stroke-width="1.0" opacity="0.18"/>
<path d="M64.84,231.10 L64.54,308.00 L64.50,381.80" fill="none" stroke="#5e8e2c" stroke-width="1.0" opacity="0.18"/>
<path d="M66.90,231.10 L66.68,308.00 L66.79,381.80" fill="none" stroke="#5e8e2c" stroke-width="1.0" opacity="0.18"/>
<path d="M69.48,231.10 L69.37,308.00 L69.66,381.80" fill="none" stroke="#5e8e2c" stroke-width="1.0" opacity="0.18"/>
<ellipse cx="60.23" cy="324.39" rx="1.40" ry="6.56" fill="#cbbd48" opacity="0.35"/>
<ellipse cx="65.90" cy="268.54" rx="1.40" ry="7.86" fill="#cbbd48" opacity="0.35"/>
<ellipse cx="60.85" cy="326.30" rx="1.42" ry="8.14" fill="#cbbd48" opacity="0.35"/>
<ellipse cx="68.79" cy="340.88" rx="1.35" ry="8.55" fill="#cbbd48" opacity="0.35"/>
<ellipse cx="61.32" cy="278.09" rx="1.18" ry="9.31" fill="#cbbd48" opacity="0.35"/>
<ellipse cx="66.43" cy="362.78" rx="1.05" ry="3.60" fill="#cbbd48" opacity="0.38"/>
<ellipse cx="66.43" cy="362.78" rx="0.35" ry="1.60" fill="#7a582a" opacity="0.55"/>
<ellipse cx="66.36" cy="298.22" rx="0.97" ry="2.94" fill="#cbbd48" opacity="0.38"/>
<ellipse cx="66.36" cy="298.22" rx="0.27" ry="0.94" fill="#7a582a" opacity="0.55"/>
<ellipse cx="65.85" cy="264.37" rx="1.11" ry="3.10" fill="#cbbd48" opacity="0.38"/>
<ellipse cx="65.85" cy="264.37" rx="0.41" ry="1.10" fill="#7a582a" opacity="0.55"/>
<ellipse cx="70.61" cy="307.53" rx="1.10" ry="3.38" fill="#cbbd48" opacity="0.38"/>
<ellipse cx="70.61" cy="307.53" rx="0.40" ry="1.38" fill="#7a582a" opacity="0.55"/>
<ellipse cx="69.92" cy="366.55" rx="1.16" ry="3.79" fill="#cbbd48" opacity="0.38"/>
<ellipse cx="69.92" cy="366.55" rx="0.46" ry="1.79" fill="#7a582a" opacity="0.55"/>
<ellipse cx="61.19" cy="331.92" rx="1.19" ry="3.70" fill="#cbbd48" opacity="0.38"/>
<ellipse cx="61.19" cy="331.92" rx="0.49" ry="1.70" fill="#7a582a" opacity="0.55"/>
<ellipse cx="65.40" cy="316.73" rx="1.16" ry="3.37" fill="#cbbd48" opacity="0.38"/>
<ellipse cx="65.40" cy="316.73" rx="0.46" ry="1.37" fill="#7a582a" opacity="0.55"/>
<ellipse cx="61.47" cy="274.47" rx="1.20" ry="2.89" fill="#cbbd48" opacity="0.38"/>
<ellipse cx="61.47" cy="274.47" rx="0.50" ry="0.89" fill="#7a582a" opacity="0.55"/>
<ellipse cx="70.56" cy="351.15" rx="1.02" ry="3.57" fill="#cbbd48" opacity="0.38"/>
<ellipse cx="70.56" cy="351.15" rx="0.32" ry="1.57" fill="#7a582a" opacity="0.55"/>
<ellipse cx="60.73" cy="361.88" rx="0.96" ry="3.52" fill="#cbbd48" opacity="0.38"/>
<ellipse cx="60.73" cy="361.88" rx="0.26" ry="1.52" fill="#7a582a" opacity="0.55"/>
<ellipse cx="66.56" cy="281.31" rx="1.08" ry="3.80" fill="#cbbd48" opacity="0.38"/>
<ellipse cx="66.56" cy="281.31" rx="0.38" ry="1.80" fill="#7a582a" opacity="0.55"/>
<ellipse cx="61.09" cy="278.15" rx="0.96" ry="3.00" fill="#cbbd48" opacity="0.38"/>
<ellipse cx="61.09" cy="278.15" rx="0.26" ry="1.00" fill="#7a582a" opacity="0.55"/>
<ellipse cx="68.64" cy="292.76" rx="0.96" ry="3.67" fill="#cbbd48" opacity="0.38"/>
<ellipse cx="68.64" cy="292.76" rx="0.26" ry="1.67" fill="#7a582a" opacity="0.55"/>
<ellipse cx="66.45" cy="278.77" rx="1.04" ry="3.26" fill="#cbbd48" opacity="0.38"/>
<ellipse cx="66.45" cy="278.77" rx="0.34" ry="1.26" fill="#7a582a" opacity="0.55"/>
<ellipse cx="69.24" cy="309.43" rx="1.09" ry="3.42" fill="#cbbd48" opacity="0.38"/>
<ellipse cx="69.24" cy="309.43" rx="0.39" ry="1.42" fill="#7a582a" opacity="0.55"/>
<ellipse cx="71.06" cy="371.97" rx="1.13" ry="3.04" fill="#cbbd48" opacity="0.38"/>
<ellipse cx="71.06" cy="371.97" rx="0.43" ry="1.04" fill="#7a582a" opacity="0.55"/>
<ellipse cx="65.93" cy="276.87" rx="1.09" ry="2.81" fill="#cbbd48" opacity="0.38"/>
<ellipse cx="65.93" cy="276.87" rx="0.39" ry="0.81" fill="#7a582a" opacity="0.55"/>
<ellipse cx="68.45" cy="293.84" rx="1.10" ry="3.43" fill="#cbbd48" opacity="0.38"/>
<ellipse cx="68.45" cy="293.84" rx="0.40" ry="1.43" fill="#7a582a" opacity="0.55"/>
<ellipse cx="69.16" cy="241.03" rx="1.12" ry="3.15" fill="#cbbd48" opacity="0.38"/>
<ellipse cx="69.16" cy="241.03" rx="0.42" ry="1.15" fill="#7a582a" opacity="0.55"/>
<ellipse cx="65.15" cy="337.22" rx="0.97" ry="3.48" fill="#cbbd48" opacity="0.38"/>
<ellipse cx="65.15" cy="337.22" rx="0.27" ry="1.48" fill="#7a582a" opacity="0.55"/>
<ellipse cx="62.28" cy="375.34" rx="1.10" ry="3.12" fill="#cbbd48" opacity="0.38"/>
<ellipse cx="62.28" cy="375.34" rx="0.40" ry="1.12" fill="#7a582a" opacity="0.55"/>
<ellipse cx="62.42" cy="286.22" rx="1.10" ry="3.10" fill="#cbbd48" opacity="0.38"/>
<ellipse cx="62.42" cy="286.22" rx="0.40" ry="1.10" fill="#7a582a" opacity="0.55"/>
<ellipse cx="65.20" cy="288.18" rx="1.09" ry="3.54" fill="#cbbd48" opacity="0.38"/>
<ellipse cx="65.20" cy="288.18" rx="0.39" ry="1.54" fill="#7a582a" opacity="0.55"/>
<ellipse cx="63.07" cy="278.20" rx="1.01" ry="2.99" fill="#cbbd48" opacity="0.38"/>
<ellipse cx="63.07" cy="278.20" rx="0.31" ry="0.99" fill="#7a582a" opacity="0.55"/>
<ellipse cx="68.56" cy="296.82" rx="1.03" ry="3.13" fill="#cbbd48" opacity="0.38"/>
<ellipse cx="68.56" cy="296.82" rx="0.33" ry="1.13" fill="#7a582a" opacity="0.55"/>
<ellipse cx="71.57" cy="356.05" rx="0.99" ry="3.14" fill="#cbbd48" opacity="0.38"/>
<ellipse cx="71.57" cy="356.05" rx="0.29" ry="1.14" fill="#7a582a" opacity="0.55"/>
<ellipse cx="65.75" cy="328.79" rx="1.01" ry="2.92" fill="#cbbd48" opacity="0.38"/>
<ellipse cx="65.75" cy="328.79" rx="0.31" ry="0.92" fill="#7a582a" opacity="0.55"/>
<ellipse cx="61.20" cy="310.86" rx="1.16" ry="2.98" fill="#cbbd48" opacity="0.38"/>
<ellipse cx="61.20" cy="310.86" rx="0.46" ry="0.98" fill="#7a582a" opacity="0.55"/>
<ellipse cx="66.11" cy="273.53" rx="1.15" ry="3.15" fill="#cbbd48" opacity="0.38"/>
<ellipse cx="66.11" cy="273.53" rx="0.45" ry="1.15" fill="#7a582a" opacity="0.55"/>
<ellipse cx="63.19" cy="251.38" rx="1.02" ry="3.15" fill="#cbbd48" opacity="0.38"/>
<ellipse cx="63.19" cy="251.38" rx="0.32" ry="1.15" fill="#7a582a" opacity="0.55"/>
<ellipse cx="70.70" cy="294.09" rx="1.18" ry="2.96" fill="#cbbd48" opacity="0.38"/>
<ellipse cx="70.70" cy="294.09" rx="0.48" ry="0.96" fill="#7a582a" opacity="0.55"/>
<ellipse cx="66.58" cy="232.79" rx="1.20" ry="3.23" fill="#cbbd48" opacity="0.38"/>
<ellipse cx="66.58" cy="232.79" rx="0.50" ry="1.23" fill="#7a582a" opacity="0.55"/>
<ellipse cx="65.46" cy="373.39" rx="1.14" ry="3.64" fill="#cbbd48" opacity="0.38"/>
<ellipse cx="65.46" cy="373.39" rx="0.44" ry="1.64" fill="#7a582a" opacity="0.55"/>
<ellipse cx="70.64" cy="330.69" rx="1.04" ry="3.03" fill="#cbbd48" opacity="0.38"/>
<ellipse cx="70.64" cy="330.69" rx="0.34" ry="1.03" fill="#7a582a" opacity="0.55"/>
<ellipse cx="68.91" cy="242.22" rx="1.15" ry="2.85" fill="#cbbd48" opacity="0.38"/>
<ellipse cx="68.91" cy="242.22" rx="0.45" ry="0.85" fill="#7a582a" opacity="0.55"/>
<ellipse cx="69.91" cy="366.47" rx="1.17" ry="3.70" fill="#cbbd48" opacity="0.38"/>
<ellipse cx="69.91" cy="366.47" rx="0.47" ry="1.70" fill="#7a582a" opacity="0.55"/>
<ellipse cx="61.09" cy="317.89" rx="0.99" ry="3.10" fill="#cbbd48" opacity="0.38"/>
<ellipse cx="61.09" cy="317.89" rx="0.29" ry="1.10" fill="#7a582a" opacity="0.55"/>
<ellipse cx="70.82" cy="330.67" rx="1.18" ry="3.41" fill="#cbbd48" opacity="0.38"/>
<ellipse cx="70.82" cy="330.67" rx="0.48" ry="1.41" fill="#7a582a" opacity="0.55"/>
<ellipse cx="63.13" cy="282.86" rx="1.07" ry="3.58" fill="#cbbd48" opacity="0.38"/>
<ellipse cx="63.13" cy="282.86" rx="0.37" ry="1.58" fill="#7a582a" opacity="0.55"/>
<ellipse cx="60.97" cy="284.42" rx="1.15" ry="2.97" fill="#cbbd48" opacity="0.38"/>
<ellipse cx="60.97" cy="284.42" rx="0.45" ry="0.97" fill="#7a582a" opacity="0.55"/>
<ellipse cx="66.26" cy="349.82" rx="1.16" ry="2.81" fill="#cbbd48" opacity="0.38"/>
<ellipse cx="66.26" cy="349.82" rx="0.46" ry="0.81" fill="#7a582a" opacity="0.55"/>
<ellipse cx="65.18" cy="325.57" rx="1.02" ry="3.07" fill="#cbbd48" opacity="0.38"/>
<ellipse cx="65.18" cy="325.57" rx="0.32" ry="1.07" fill="#7a582a" opacity="0.55"/>
<ellipse cx="70.79" cy="310.50" rx="1.14" ry="2.80" fill="#cbbd48" opacity="0.38"/>
<ellipse cx="70.79" cy="310.50" rx="0.44" ry="0.80" fill="#7a582a" opacity="0.55"/>
<ellipse cx="60.65" cy="240.25" rx="0.97" ry="3.77" fill="#cbbd48" opacity="0.38"/>
<ellipse cx="60.65" cy="240.25" rx="0.27" ry="1.77" fill="#7a582a" opacity="0.55"/>
<ellipse cx="60.58" cy="359.16" rx="1.03" ry="3.11" fill="#cbbd48" opacity="0.38"/>
<ellipse cx="60.58" cy="359.16" rx="0.33" ry="1.11" fill="#7a582a" opacity="0.55"/>
</g>
<path d="M74.70,231.10 C74.75,243.92 75.00,282.88 75.00,308.00 C75.00,333.12 74.75,369.50 74.70,381.80 L88.60,381.80 C88.30,369.50 87.00,333.12 86.80,308.00 C86.60,282.88 87.30,243.92 87.40,231.10 Z" fill="url(#lg4)" stroke="#6e9c3c" stroke-width="0.6" stroke-opacity="0.6"/>
<g clip-path="url(#clg4)">
<path d="M77.16,231.10 L77.28,308.00 L77.39,381.80" fill="none" stroke="#5e8e2c" stroke-width="1.0" opacity="0.18"/>
<path d="M79.28,231.10 L79.25,308.00 L79.71,381.80" fill="none" stroke="#5e8e2c" stroke-width="1.0" opacity="0.18"/>
<path d="M81.93,231.10 L81.72,308.00 L82.62,381.80" fill="none" stroke="#5e8e2c" stroke-width="1.0" opacity="0.18"/>
<path d="M83.91,231.10 L83.56,308.00 L84.78,381.80" fill="none" stroke="#5e8e2c" stroke-width="1.0" opacity="0.18"/>
<ellipse cx="86.21" cy="244.59" rx="1.38" ry="9.59" fill="#cbbd48" opacity="0.35"/>
<ellipse cx="85.42" cy="266.77" rx="1.00" ry="5.64" fill="#cbbd48" opacity="0.35"/>
<ellipse cx="81.31" cy="265.69" rx="1.38" ry="9.80" fill="#cbbd48" opacity="0.35"/>
<ellipse cx="85.80" cy="262.70" rx="1.34" ry="10.13" fill="#cbbd48" opacity="0.35"/>
<ellipse cx="76.49" cy="360.68" rx="1.30" ry="8.04" fill="#cbbd48" opacity="0.35"/>
<ellipse cx="85.13" cy="258.54" rx="1.18" ry="3.67" fill="#cbbd48" opacity="0.38"/>
<ellipse cx="85.13" cy="258.54" rx="0.48" ry="1.67" fill="#7a582a" opacity="0.55"/>
<ellipse cx="86.07" cy="313.53" rx="1.09" ry="3.68" fill="#cbbd48" opacity="0.38"/>
<ellipse cx="86.07" cy="313.53" rx="0.39" ry="1.68" fill="#7a582a" opacity="0.55"/>
<ellipse cx="86.32" cy="358.20" rx="1.10" ry="3.23" fill="#cbbd48" opacity="0.38"/>
<ellipse cx="86.32" cy="358.20" rx="0.40" ry="1.23" fill="#7a582a" opacity="0.55"/>
<ellipse cx="86.15" cy="256.09" rx="0.96" ry="2.85" fill="#cbbd48" opacity="0.38"/>
<ellipse cx="86.15" cy="256.09" rx="0.26" ry="0.85" fill="#7a582a" opacity="0.55"/>
<ellipse cx="78.05" cy="325.24" rx="1.07" ry="3.14" fill="#cbbd48" opacity="0.38"/>
<ellipse cx="78.05" cy="325.24" rx="0.37" ry="1.14" fill="#7a582a" opacity="0.55"/>
<ellipse cx="78.05" cy="380.40" rx="1.00" ry="3.43" fill="#cbbd48" opacity="0.38"/>
<ellipse cx="78.05" cy="380.40" rx="0.30" ry="1.43" fill="#7a582a" opacity="0.55"/>
<ellipse cx="85.95" cy="273.19" rx="1.03" ry="3.36" fill="#cbbd48" opacity="0.38"/>
<ellipse cx="85.95" cy="273.19" rx="0.33" ry="1.36" fill="#7a582a" opacity="0.55"/>
<ellipse cx="75.76" cy="366.57" rx="1.01" ry="3.57" fill="#cbbd48" opacity="0.38"/>
<ellipse cx="75.76" cy="366.57" rx="0.31" ry="1.57" fill="#7a582a" opacity="0.55"/>
<ellipse cx="77.76" cy="323.61" rx="0.99" ry="3.26" fill="#cbbd48" opacity="0.38"/>
<ellipse cx="77.76" cy="323.61" rx="0.29" ry="1.26" fill="#7a582a" opacity="0.55"/>
<ellipse cx="84.74" cy="238.47" rx="1.19" ry="3.53" fill="#cbbd48" opacity="0.38"/>
<ellipse cx="84.74" cy="238.47" rx="0.49" ry="1.53" fill="#7a582a" opacity="0.55"/>
<ellipse cx="76.08" cy="374.83" rx="1.19" ry="3.58" fill="#cbbd48" opacity="0.38"/>
<ellipse cx="76.08" cy="374.83" rx="0.49" ry="1.58" fill="#7a582a" opacity="0.55"/>
<ellipse cx="81.10" cy="293.13" rx="1.15" ry="3.09" fill="#cbbd48" opacity="0.38"/>
<ellipse cx="81.10" cy="293.13" rx="0.45" ry="1.09" fill="#7a582a" opacity="0.55"/>
<ellipse cx="85.18" cy="260.56" rx="1.05" ry="3.76" fill="#cbbd48" opacity="0.38"/>
<ellipse cx="85.18" cy="260.56" rx="0.35" ry="1.76" fill="#7a582a" opacity="0.55"/>
<ellipse cx="75.71" cy="281.37" rx="0.99" ry="3.58" fill="#cbbd48" opacity="0.38"/>
<ellipse cx="75.71" cy="281.37" rx="0.29" ry="1.58" fill="#7a582a" opacity="0.55"/>
<ellipse cx="77.36" cy="286.04" rx="1.20" ry="3.22" fill="#cbbd48" opacity="0.38"/>
<ellipse cx="77.36" cy="286.04" rx="0.50" ry="1.22" fill="#7a582a" opacity="0.55"/>
<ellipse cx="75.68" cy="263.02" rx="0.99" ry="3.48" fill="#cbbd48" opacity="0.38"/>
<ellipse cx="75.68" cy="263.02" rx="0.29" ry="1.48" fill="#7a582a" opacity="0.55"/>
<ellipse cx="76.27" cy="254.35" rx="1.01" ry="3.80" fill="#cbbd48" opacity="0.38"/>
<ellipse cx="76.27" cy="254.35" rx="0.31" ry="1.80" fill="#7a582a" opacity="0.55"/>
<ellipse cx="86.14" cy="250.28" rx="1.05" ry="3.79" fill="#cbbd48" opacity="0.38"/>
<ellipse cx="86.14" cy="250.28" rx="0.35" ry="1.79" fill="#7a582a" opacity="0.55"/>
<ellipse cx="77.82" cy="303.14" rx="0.96" ry="3.22" fill="#cbbd48" opacity="0.38"/>
<ellipse cx="77.82" cy="303.14" rx="0.26" ry="1.22" fill="#7a582a" opacity="0.55"/>
<ellipse cx="81.44" cy="269.06" rx="1.07" ry="2.83" fill="#cbbd48" opacity="0.38"/>
<ellipse cx="81.44" cy="269.06" rx="0.37" ry="0.83" fill="#7a582a" opacity="0.55"/>
<ellipse cx="77.50" cy="269.93" rx="1.01" ry="3.67" fill="#cbbd48" opacity="0.38"/>
<ellipse cx="77.50" cy="269.93" rx="0.31" ry="1.67" fill="#7a582a" opacity="0.55"/>
<ellipse cx="76.88" cy="253.17" rx="1.09" ry="3.79" fill="#cbbd48" opacity="0.38"/>
<ellipse cx="76.88" cy="253.17" rx="0.39" ry="1.79" fill="#7a582a" opacity="0.55"/>
<ellipse cx="81.15" cy="292.02" rx="1.15" ry="3.54" fill="#cbbd48" opacity="0.38"/>
<ellipse cx="81.15" cy="292.02" rx="0.45" ry="1.54" fill="#7a582a" opacity="0.55"/>
<ellipse cx="76.01" cy="305.60" rx="1.17" ry="3.70" fill="#cbbd48" opacity="0.38"/>
<ellipse cx="76.01" cy="305.60" rx="0.47" ry="1.70" fill="#7a582a" opacity="0.55"/>
<ellipse cx="86.90" cy="369.58" rx="1.15" ry="3.44" fill="#cbbd48" opacity="0.38"/>
<ellipse cx="86.90" cy="369.58" rx="0.45" ry="1.44" fill="#7a582a" opacity="0.55"/>
<ellipse cx="86.55" cy="353.26" rx="1.12" ry="3.07" fill="#cbbd48" opacity="0.38"/>
<ellipse cx="86.55" cy="353.26" rx="0.42" ry="1.07" fill="#7a582a" opacity="0.55"/>
<ellipse cx="80.93" cy="369.32" rx="1.19" ry="3.76" fill="#cbbd48" opacity="0.38"/>
<ellipse cx="80.93" cy="369.32" rx="0.49" ry="1.76" fill="#7a582a" opacity="0.55"/>
<ellipse cx="76.96" cy="331.48" rx="0.98" ry="3.77" fill="#cbbd48" opacity="0.38"/>
<ellipse cx="76.96" cy="331.48" rx="0.28" ry="1.77" fill="#7a582a" opacity="0.55"/>
<ellipse cx="75.94" cy="331.31" rx="1.11" ry="3.37" fill="#cbbd48" opacity="0.38"/>
<ellipse cx="75.94" cy="331.31" rx="0.41" ry="1.37" fill="#7a582a" opacity="0.55"/>
<ellipse cx="80.86" cy="343.10" rx="0.95" ry="3.72" fill="#cbbd48" opacity="0.38"/>
<ellipse cx="80.86" cy="343.10" rx="0.25" ry="1.72" fill="#7a582a" opacity="0.55"/>
<ellipse cx="80.51" cy="234.05" rx="1.15" ry="3.58" fill="#cbbd48" opacity="0.38"/>
<ellipse cx="80.51" cy="234.05" rx="0.45" ry="1.58" fill="#7a582a" opacity="0.55"/>
<ellipse cx="87.06" cy="362.64" rx="1.00" ry="3.47" fill="#cbbd48" opacity="0.38"/>
<ellipse cx="87.06" cy="362.64" rx="0.30" ry="1.47" fill="#7a582a" opacity="0.55"/>
<ellipse cx="81.34" cy="281.27" rx="1.07" ry="3.33" fill="#cbbd48" opacity="0.38"/>
<ellipse cx="81.34" cy="281.27" rx="0.37" ry="1.33" fill="#7a582a" opacity="0.55"/>
<ellipse cx="76.37" cy="236.02" rx="1.07" ry="3.66" fill="#cbbd48" opacity="0.38"/>
<ellipse cx="76.37" cy="236.02" rx="0.37" ry="1.66" fill="#7a582a" opacity="0.55"/>
<ellipse cx="76.21" cy="322.53" rx="1.14" ry="3.32" fill="#cbbd48" opacity="0.38"/>
<ellipse cx="76.21" cy="322.53" rx="0.44" ry="1.32" fill="#7a582a" opacity="0.55"/>
<ellipse cx="81.50" cy="233.67" rx="0.97" ry="3.34" fill="#cbbd48" opacity="0.38"/>
<ellipse cx="81.50" cy="233.67" rx="0.27" ry="1.34" fill="#7a582a" opacity="0.55"/>
<ellipse cx="83.68" cy="288.78" rx="1.01" ry="3.29" fill="#cbbd48" opacity="0.38"/>
<ellipse cx="83.68" cy="288.78" rx="0.31" ry="1.29" fill="#7a582a" opacity="0.55"/>
<ellipse cx="75.83" cy="375.79" rx="1.11" ry="3.69" fill="#cbbd48" opacity="0.38"/>
<ellipse cx="75.83" cy="375.79" rx="0.41" ry="1.69" fill="#7a582a" opacity="0.55"/>
<ellipse cx="85.89" cy="308.30" rx="1.14" ry="2.87" fill="#cbbd48" opacity="0.38"/>
<ellipse cx="85.89" cy="308.30" rx="0.44" ry="0.87" fill="#7a582a" opacity="0.55"/>
<ellipse cx="77.84" cy="363.15" rx="1.16" ry="3.22" fill="#cbbd48" opacity="0.38"/>
<ellipse cx="77.84" cy="363.15" rx="0.46" ry="1.22" fill="#7a582a" opacity="0.55"/>
<ellipse cx="76.91" cy="350.81" rx="0.99" ry="2.95" fill="#cbbd48" opacity="0.38"/>
<ellipse cx="76.91" cy="350.81" rx="0.29" ry="0.95" fill="#7a582a" opacity="0.55"/>
<ellipse cx="85.46" cy="305.60" rx="1.18" ry="3.51" fill="#cbbd48" opacity="0.38"/>
<ellipse cx="85.46" cy="305.60" rx="0.48" ry="1.51" fill="#7a582a" opacity="0.55"/>
<ellipse cx="85.93" cy="232.93" rx="1.07" ry="3.52" fill="#cbbd48" opacity="0.38"/>
<ellipse cx="85.93" cy="232.93" rx="0.37" ry="1.52" fill="#7a582a" opacity="0.55"/>
<ellipse cx="76.05" cy="304.11" rx="1.16" ry="3.16" fill="#cbbd48" opacity="0.38"/>
<ellipse cx="76.05" cy="304.11" rx="0.46" ry="1.16" fill="#7a582a" opacity="0.55"/>
<ellipse cx="81.46" cy="346.10" rx="1.12" ry="3.41" fill="#cbbd48" opacity="0.38"/>
<ellipse cx="81.46" cy="346.10" rx="0.42" ry="1.41" fill="#7a582a" opacity="0.55"/>
</g>
<path d="M96.80,231.10 C96.73,243.92 96.57,282.88 96.40,308.00 C96.23,333.12 95.90,369.50 95.80,381.80 L109.00,381.80 C108.92,369.50 108.50,333.12 108.50,308.00 C108.50,282.88 108.92,243.92 109.00,231.10 Z" fill="url(#lg5)" stroke="#6e9c3c" stroke-width="0.6" stroke-opacity="0.6"/>
<g clip-path="url(#clg5)">
<path d="M99.63,231.10 L99.21,308.00 L98.87,381.80" fill="none" stroke="#5e8e2c" stroke-width="1.0" opacity="0.18"/>
<path d="M101.97,231.10 L101.53,308.00 L101.40,381.80" fill="none" stroke="#5e8e2c" stroke-width="1.0" opacity="0.18"/>
<path d="M104.24,231.10 L103.78,308.00 L103.85,381.80" fill="none" stroke="#5e8e2c" stroke-width="1.0" opacity="0.18"/>
<path d="M106.61,231.10 L106.13,308.00 L106.42,381.80" fill="none" stroke="#5e8e2c" stroke-width="1.0" opacity="0.18"/>
<ellipse cx="101.96" cy="340.68" rx="1.18" ry="10.66" fill="#cbbd48" opacity="0.35"/>
<ellipse cx="102.05" cy="327.71" rx="1.18" ry="6.48" fill="#cbbd48" opacity="0.35"/>
<ellipse cx="105.00" cy="312.69" rx="1.03" ry="6.68" fill="#cbbd48" opacity="0.35"/>
<ellipse cx="102.07" cy="365.86" rx="1.38" ry="5.83" fill="#cbbd48" opacity="0.35"/>
<ellipse cx="97.26" cy="323.21" rx="1.42" ry="6.26" fill="#cbbd48" opacity="0.35"/>
<ellipse cx="103.07" cy="265.85" rx="1.07" ry="10.77" fill="#cbbd48" opacity="0.35"/>
<ellipse cx="102.03" cy="312.28" rx="1.19" ry="3.49" fill="#cbbd48" opacity="0.38"/>
<ellipse cx="102.03" cy="312.28" rx="0.49" ry="1.49" fill="#7a582a" opacity="0.55"/>
<ellipse cx="102.12" cy="375.83" rx="1.04" ry="2.97" fill="#cbbd48" opacity="0.38"/>
<ellipse cx="102.12" cy="375.83" rx="0.34" ry="0.97" fill="#7a582a" opacity="0.55"/>
<ellipse cx="97.86" cy="253.77" rx="1.10" ry="2.80" fill="#cbbd48" opacity="0.38"/>
<ellipse cx="97.86" cy="253.77" rx="0.40" ry="0.80" fill="#7a582a" opacity="0.55"/>
<ellipse cx="106.91" cy="332.91" rx="1.15" ry="3.28" fill="#cbbd48" opacity="0.38"/>
<ellipse cx="106.91" cy="332.91" rx="0.45" ry="1.28" fill="#7a582a" opacity="0.55"/>
<ellipse cx="105.94" cy="279.06" rx="0.96" ry="3.78" fill="#cbbd48" opacity="0.38"/>
<ellipse cx="105.94" cy="279.06" rx="0.26" ry="1.78" fill="#7a582a" opacity="0.55"/>
<ellipse cx="103.36" cy="235.50" rx="0.95" ry="3.59" fill="#cbbd48" opacity="0.38"/>
<ellipse cx="103.36" cy="235.50" rx="0.25" ry="1.59" fill="#7a582a" opacity="0.55"/>
<ellipse cx="104.92" cy="286.55" rx="0.96" ry="2.98" fill="#cbbd48" opacity="0.38"/>
<ellipse cx="104.92" cy="286.55" rx="0.26" ry="0.98" fill="#7a582a" opacity="0.55"/>
<ellipse cx="99.49" cy="374.14" rx="1.18" ry="3.74" fill="#cbbd48" opacity="0.38"/>
<ellipse cx="99.49" cy="374.14" rx="0.48" ry="1.74" fill="#7a582a" opacity="0.55"/>
<ellipse cx="107.24" cy="283.31" rx="1.14" ry="2.91" fill="#cbbd48" opacity="0.38"/>
<ellipse cx="107.24" cy="283.31" rx="0.44" ry="0.91" fill="#7a582a" opacity="0.55"/>
<ellipse cx="102.93" cy="343.39" rx="0.96" ry="3.75" fill="#cbbd48" opacity="0.38"/>
<ellipse cx="102.93" cy="343.39" rx="0.26" ry="1.75" fill="#7a582a" opacity="0.55"/>
<ellipse cx="107.60" cy="245.66" rx="1.18" ry="3.14" fill="#cbbd48" opacity="0.38"/>
<ellipse cx="107.60" cy="245.66" rx="0.48" ry="1.14" fill="#7a582a" opacity="0.55"/>
<ellipse cx="105.40" cy="369.53" rx="1.03" ry="2.98" fill="#cbbd48" opacity="0.38"/>
<ellipse cx="105.40" cy="369.53" rx="0.33" ry="0.98" fill="#7a582a" opacity="0.55"/>
<ellipse cx="98.46" cy="243.73" rx="1.20" ry="2.96" fill="#cbbd48" opacity="0.38"/>
<ellipse cx="98.46" cy="243.73" rx="0.50" ry="0.96" fill="#7a582a" opacity="0.55"/>
<ellipse cx="102.90" cy="239.32" rx="1.05" ry="3.04" fill="#cbbd48" opacity="0.38"/>
<ellipse cx="102.90" cy="239.32" rx="0.35" ry="1.04" fill="#7a582a" opacity="0.55"/>
<ellipse cx="102.38" cy="320.42" rx="1.06" ry="2.86" fill="#cbbd48" opacity="0.38"/>
<ellipse cx="102.38" cy="320.42" rx="0.36" ry="0.86" fill="#7a582a" opacity="0.55"/>
<ellipse cx="97.46" cy="368.32" rx="1.16" ry="2.93" fill="#cbbd48" opacity="0.38"/>
<ellipse cx="97.46" cy="368.32" rx="0.46" ry="0.93" fill="#7a582a" opacity="0.55"/>
<ellipse cx="102.61" cy="340.90" rx="1.15" ry="2.91" fill="#cbbd48" opacity="0.38"/>
<ellipse cx="102.61" cy="340.90" rx="0.45" ry="0.91" fill="#7a582a" opacity="0.55"/>
<ellipse cx="98.40" cy="296.72" rx="1.02" ry="3.25" fill="#cbbd48" opacity="0.38"/>
<ellipse cx="98.40" cy="296.72" rx="0.32" ry="1.25" fill="#7a582a" opacity="0.55"/>
<ellipse cx="103.07" cy="380.70" rx="1.06" ry="3.29" fill="#cbbd48" opacity="0.38"/>
<ellipse cx="103.07" cy="380.70" rx="0.36" ry="1.29" fill="#7a582a" opacity="0.55"/>
<ellipse cx="106.92" cy="340.58" rx="1.05" ry="2.95" fill="#cbbd48" opacity="0.38"/>
<ellipse cx="106.92" cy="340.58" rx="0.35" ry="0.95" fill="#7a582a" opacity="0.55"/>
<ellipse cx="103.21" cy="288.16" rx="1.11" ry="3.30" fill="#cbbd48" opacity="0.38"/>
<ellipse cx="103.21" cy="288.16" rx="0.41" ry="1.30" fill="#7a582a" opacity="0.55"/>
<ellipse cx="97.67" cy="282.43" rx="1.15" ry="3.67" fill="#cbbd48" opacity="0.38"/>
<ellipse cx="97.67" cy="282.43" rx="0.45" ry="1.67" fill="#7a582a" opacity="0.55"/>
<ellipse cx="102.96" cy="285.83" rx="1.12" ry="3.46" fill="#cbbd48" opacity="0.38"/>
<ellipse cx="102.96" cy="285.83" rx="0.42" ry="1.46" fill="#7a582a" opacity="0.55"/>
<ellipse cx="107.52" cy="345.06" rx="1.02" ry="3.29" fill="#cbbd48" opacity="0.38"/>
<ellipse cx="107.52" cy="345.06" rx="0.32" ry="1.29" fill="#7a582a" opacity="0.55"/>
<ellipse cx="102.14" cy="346.56" rx="1.19" ry="3.45" fill="#cbbd48" opacity="0.38"/>
<ellipse cx="102.14" cy="346.56" rx="0.49" ry="1.45" fill="#7a582a" opacity="0.55"/>
<ellipse cx="97.85" cy="318.44" rx="1.01" ry="3.47" fill="#cbbd48" opacity="0.38"/>
<ellipse cx="97.85" cy="318.44" rx="0.31" ry="1.47" fill="#7a582a" opacity="0.55"/>
<ellipse cx="102.70" cy="300.94" rx="1.15" ry="3.15" fill="#cbbd48" opacity="0.38"/>
<ellipse cx="102.70" cy="300.94" rx="0.45" ry="1.15" fill="#7a582a" opacity="0.55"/>
<ellipse cx="102.90" cy="327.87" rx="1.04" ry="3.64" fill="#cbbd48" opacity="0.38"/>
<ellipse cx="102.90" cy="327.87" rx="0.34" ry="1.64" fill="#7a582a" opacity="0.55"/>
<ellipse cx="103.08" cy="361.46" rx="1.19" ry="3.32" fill="#cbbd48" opacity="0.38"/>
<ellipse cx="103.08" cy="361.46" rx="0.49" ry="1.32" fill="#7a582a" opacity="0.55"/>
<ellipse cx="98.31" cy="310.81" rx="1.18" ry="3.28" fill="#cbbd48" opacity="0.38"/>
<ellipse cx="98.31" cy="310.81" rx="0.48" ry="1.28" fill="#7a582a" opacity="0.55"/>
<ellipse cx="102.75" cy="334.91" rx="0.99" ry="3.58" fill="#cbbd48" opacity="0.38"/>
<ellipse cx="102.75" cy="334.91" rx="0.29" ry="1.58" fill="#7a582a" opacity="0.55"/>
<ellipse cx="102.33" cy="318.47" rx="1.11" ry="3.57" fill="#cbbd48" opacity="0.38"/>
<ellipse cx="102.33" cy="318.47" rx="0.41" ry="1.57" fill="#7a582a" opacity="0.55"/>
<ellipse cx="101.78" cy="326.80" rx="0.99" ry="3.24" fill="#cbbd48" opacity="0.38"/>
<ellipse cx="101.78" cy="326.80" rx="0.29" ry="1.24" fill="#7a582a" opacity="0.55"/>
<ellipse cx="99.59" cy="328.77" rx="1.11" ry="2.84" fill="#cbbd48" opacity="0.38"/>
<ellipse cx="99.59" cy="328.77" rx="0.41" ry="0.84" fill="#7a582a" opacity="0.55"/>
<ellipse cx="98.83" cy="302.22" rx="0.98" ry="3.12" fill="#cbbd48" opacity="0.38"/>
<ellipse cx="98.83" cy="302.22" rx="0.28" ry="1.12" fill="#7a582a" opacity="0.55"/>
<ellipse cx="99.05" cy="259.10" rx="1.07" ry="3.18" fill="#cbbd48" opacity="0.38"/>
<ellipse cx="99.05" cy="259.10" rx="0.37" ry="1.18" fill="#7a582a" opacity="0.55"/>
<ellipse cx="105.15" cy="323.07" rx="1.18" ry="2.80" fill="#cbbd48" opacity="0.38"/>
<ellipse cx="105.15" cy="323.07" rx="0.48" ry="0.80" fill="#7a582a" opacity="0.55"/>
<ellipse cx="99.39" cy="292.38" rx="0.98" ry="3.63" fill="#cbbd48" opacity="0.38"/>
<ellipse cx="99.39" cy="292.38" rx="0.28" ry="1.63" fill="#7a582a" opacity="0.55"/>
<ellipse cx="98.12" cy="287.70" rx="0.97" ry="3.35" fill="#cbbd48" opacity="0.38"/>
<ellipse cx="98.12" cy="287.70" rx="0.27" ry="1.35" fill="#7a582a" opacity="0.55"/>
<ellipse cx="106.27" cy="282.56" rx="1.15" ry="3.22" fill="#cbbd48" opacity="0.38"/>
<ellipse cx="106.27" cy="282.56" rx="0.45" ry="1.22" fill="#7a582a" opacity="0.55"/>
<ellipse cx="102.24" cy="352.99" rx="0.99" ry="3.40" fill="#cbbd48" opacity="0.38"/>
<ellipse cx="102.24" cy="352.99" rx="0.29" ry="1.40" fill="#7a582a" opacity="0.55"/>
<ellipse cx="103.10" cy="315.95" rx="1.10" ry="3.15" fill="#cbbd48" opacity="0.38"/>
<ellipse cx="103.10" cy="315.95" rx="0.40" ry="1.15" fill="#7a582a" opacity="0.55"/>
<ellipse cx="96.94" cy="364.96" rx="1.09" ry="3.42" fill="#cbbd48" opacity="0.38"/>
<ellipse cx="96.94" cy="364.96" rx="0.39" ry="1.42" fill="#7a582a" opacity="0.55"/>
<ellipse cx="103.32" cy="253.02" rx="1.04" ry="3.23" fill="#cbbd48" opacity="0.38"/>
<ellipse cx="103.32" cy="253.02" rx="0.34" ry="1.23" fill="#7a582a" opacity="0.55"/>
<ellipse cx="100.32" cy="265.76" rx="1.04" ry="3.76" fill="#cbbd48" opacity="0.38"/>
<ellipse cx="100.32" cy="265.76" rx="0.34" ry="1.76" fill="#7a582a" opacity="0.55"/>
<ellipse cx="105.32" cy="367.97" rx="1.20" ry="3.30" fill="#cbbd48" opacity="0.38"/>
<ellipse cx="105.32" cy="367.97" rx="0.50" ry="1.30" fill="#7a582a" opacity="0.55"/>
<ellipse cx="107.82" cy="293.88" rx="1.07" ry="3.09" fill="#cbbd48" opacity="0.38"/>
<ellipse cx="107.82" cy="293.88" rx="0.37" ry="1.09" fill="#7a582a" opacity="0.55"/>
<ellipse cx="98.05" cy="303.02" rx="1.06" ry="3.09" fill="#cbbd48" opacity="0.38"/>
<ellipse cx="98.05" cy="303.02" rx="0.36" ry="1.09" fill="#7a582a" opacity="0.55"/>
<ellipse cx="101.74" cy="348.34" rx="1.08" ry="3.07" fill="#cbbd48" opacity="0.38"/>
<ellipse cx="101.74" cy="348.34" rx="0.38" ry="1.07" fill="#7a582a" opacity="0.55"/>
<ellipse cx="102.05" cy="371.17" rx="1.02" ry="2.95" fill="#cbbd48" opacity="0.38"/>
<ellipse cx="102.05" cy="371.17" rx="0.32" ry="0.95" fill="#7a582a" opacity="0.55"/>
<ellipse cx="99.26" cy="379.14" rx="1.07" ry="3.44" fill="#cbbd48" opacity="0.38"/>
<ellipse cx="99.26" cy="379.14" rx="0.37" ry="1.44" fill="#7a582a" opacity="0.55"/>
<ellipse cx="101.91" cy="321.89" rx="1.14" ry="3.10" fill="#cbbd48" opacity="0.38"/>
<ellipse cx="101.91" cy="321.89" rx="0.44" ry="1.10" fill="#7a582a" opacity="0.55"/>
<ellipse cx="106.78" cy="311.43" rx="1.08" ry="3.26" fill="#cbbd48" opacity="0.38"/>
<ellipse cx="106.78" cy="311.43" rx="0.38" ry="1.26" fill="#7a582a" opacity="0.55"/>
<ellipse cx="102.71" cy="285.79" rx="0.96" ry="3.05" fill="#cbbd48" opacity="0.38"/>
<ellipse cx="102.71" cy="285.79" rx="0.26" ry="1.05" fill="#7a582a" opacity="0.55"/>
<ellipse cx="103.04" cy="299.85" rx="1.09" ry="2.81" fill="#cbbd48" opacity="0.38"/>
<ellipse cx="103.04" cy="299.85" rx="0.39" ry="0.81" fill="#7a582a" opacity="0.55"/>
<ellipse cx="107.35" cy="347.85" rx="1.13" ry="3.43" fill="#cbbd48" opacity="0.38"/>
<ellipse cx="107.35" cy="347.85" rx="0.43" ry="1.43" fill="#7a582a" opacity="0.55"/>
<ellipse cx="102.31" cy="303.76" rx="1.05" ry="3.65" fill="#cbbd48" opacity="0.38"/>
<ellipse cx="102.31" cy="303.76" rx="0.35" ry="1.65" fill="#7a582a" opacity="0.55"/>
</g>
<path d="M110.30,231.10 C110.30,243.92 110.30,282.88 110.30,308.00 C110.30,333.12 110.30,369.50 110.30,381.80 L122.40,381.80 C122.33,369.50 122.07,333.12 122.00,308.00 C121.93,282.88 122.00,243.92 122.00,231.10 Z" fill="url(#lg6)" stroke="#6e9c3c" stroke-width="0.6" stroke-opacity="0.6"/>
<g clip-path="url(#clg6)">
<path d="M113.22,231.10 L113.22,308.00 L113.32,381.80" fill="none" stroke="#5e8e2c" stroke-width="1.0" opacity="0.18"/>
<path d="M115.36,231.10 L115.36,308.00 L115.53,381.80" fill="none" stroke="#5e8e2c" stroke-width="1.0" opacity="0.18"/>
<path d="M117.07,231.10 L117.07,308.00 L117.30,381.80" fill="none" stroke="#5e8e2c" stroke-width="1.0" opacity="0.18"/>
<path d="M118.91,231.10 L118.91,308.00 L119.21,381.80" fill="none" stroke="#5e8e2c" stroke-width="1.0" opacity="0.18"/>
<ellipse cx="120.57" cy="235.16" rx="1.36" ry="7.24" fill="#cbbd48" opacity="0.35"/>
<ellipse cx="113.58" cy="345.00" rx="1.34" ry="7.48" fill="#cbbd48" opacity="0.35"/>
<ellipse cx="120.31" cy="311.92" rx="1.23" ry="9.83" fill="#cbbd48" opacity="0.35"/>
<ellipse cx="119.26" cy="272.99" rx="1.41" ry="7.01" fill="#cbbd48" opacity="0.35"/>
<ellipse cx="119.50" cy="245.95" rx="1.06" ry="2.89" fill="#cbbd48" opacity="0.38"/>
<ellipse cx="119.50" cy="245.95" rx="0.36" ry="0.89" fill="#7a582a" opacity="0.55"/>
<ellipse cx="120.30" cy="261.42" rx="1.19" ry="3.39" fill="#cbbd48" opacity="0.38"/>
<ellipse cx="120.30" cy="261.42" rx="0.49" ry="1.39" fill="#7a582a" opacity="0.55"/>
<ellipse cx="120.40" cy="261.97" rx="1.18" ry="3.71" fill="#cbbd48" opacity="0.38"/>
<ellipse cx="120.40" cy="261.97" rx="0.48" ry="1.71" fill="#7a582a" opacity="0.55"/>
<ellipse cx="120.88" cy="308.63" rx="1.15" ry="3.78" fill="#cbbd48" opacity="0.38"/>
<ellipse cx="120.88" cy="308.63" rx="0.45" ry="1.78" fill="#7a582a" opacity="0.55"/>
<ellipse cx="113.37" cy="236.33" rx="1.03" ry="3.39" fill="#cbbd48" opacity="0.38"/>
<ellipse cx="113.37" cy="236.33" rx="0.33" ry="1.39" fill="#7a582a" opacity="0.55"/>
<ellipse cx="119.11" cy="245.44" rx="0.98" ry="3.46" fill="#cbbd48" opacity="0.38"/>
<ellipse cx="119.11" cy="245.44" rx="0.28" ry="1.46" fill="#7a582a" opacity="0.55"/>
<ellipse cx="111.68" cy="278.54" rx="0.98" ry="3.01" fill="#cbbd48" opacity="0.38"/>
<ellipse cx="111.68" cy="278.54" rx="0.28" ry="1.01" fill="#7a582a" opacity="0.55"/>
<ellipse cx="120.17" cy="360.81" rx="1.14" ry="2.82" fill="#cbbd48" opacity="0.38"/>
<ellipse cx="120.17" cy="360.81" rx="0.44" ry="0.82" fill="#7a582a" opacity="0.55"/>
<ellipse cx="116.32" cy="281.60" rx="1.03" ry="3.18" fill="#cbbd48" opacity="0.38"/>
<ellipse cx="116.32" cy="281.60" rx="0.33" ry="1.18" fill="#7a582a" opacity="0.55"/>
<ellipse cx="112.40" cy="289.97" rx="0.96" ry="3.22" fill="#cbbd48" opacity="0.38"/>
<ellipse cx="112.40" cy="289.97" rx="0.26" ry="1.22" fill="#7a582a" opacity="0.55"/>
<ellipse cx="113.95" cy="343.08" rx="1.01" ry="3.78" fill="#cbbd48" opacity="0.38"/>
<ellipse cx="113.95" cy="343.08" rx="0.31" ry="1.78" fill="#7a582a" opacity="0.55"/>
<ellipse cx="121.41" cy="364.78" rx="1.06" ry="3.63" fill="#cbbd48" opacity="0.38"/>
<ellipse cx="121.41" cy="364.78" rx="0.36" ry="1.63" fill="#7a582a" opacity="0.55"/>
<ellipse cx="120.76" cy="350.48" rx="1.13" ry="3.21" fill="#cbbd48" opacity="0.38"/>
<ellipse cx="120.76" cy="350.48" rx="0.43" ry="1.21" fill="#7a582a" opacity="0.55"/>
<ellipse cx="118.75" cy="244.88" rx="1.07" ry="3.58" fill="#cbbd48" opacity="0.38"/>
<ellipse cx="118.75" cy="244.88" rx="0.37" ry="1.58" fill="#7a582a" opacity="0.55"/>
<ellipse cx="111.18" cy="257.70" rx="1.10" ry="3.16" fill="#cbbd48" opacity="0.38"/>
<ellipse cx="111.18" cy="257.70" rx="0.40" ry="1.16" fill="#7a582a" opacity="0.55"/>
<ellipse cx="121.19" cy="270.21" rx="1.01" ry="3.21" fill="#cbbd48" opacity="0.38"/>
<ellipse cx="121.19" cy="270.21" rx="0.31" ry="1.21" fill="#7a582a" opacity="0.55"/>
<ellipse cx="120.53" cy="362.85" rx="1.07" ry="3.28" fill="#cbbd48" opacity="0.38"/>
<ellipse cx="120.53" cy="362.85" rx="0.37" ry="1.28" fill="#7a582a" opacity="0.55"/>
<ellipse cx="112.95" cy="253.24" rx="1.15" ry="3.12" fill="#cbbd48" opacity="0.38"/>
<ellipse cx="112.95" cy="253.24" rx="0.45" ry="1.12" fill="#7a582a" opacity="0.55"/>
<ellipse cx="116.80" cy="330.13" rx="1.04" ry="3.40" fill="#cbbd48" opacity="0.38"/>
<ellipse cx="116.80" cy="330.13" rx="0.34" ry="1.40" fill="#7a582a" opacity="0.55"/>
<ellipse cx="113.21" cy="279.70" rx="1.15" ry="3.74" fill="#cbbd48" opacity="0.38"/>
<ellipse cx="113.21" cy="279.70" rx="0.45" ry="1.74" fill="#7a582a" opacity="0.55"/>
<ellipse cx="111.63" cy="275.34" rx="0.96" ry="2.83" fill="#cbbd48" opacity="0.38"/>
<ellipse cx="111.63" cy="275.34" rx="0.26" ry="0.83" fill="#7a582a" opacity="0.55"/>
<ellipse cx="112.04" cy="347.13" rx="1.04" ry="3.74" fill="#cbbd48" opacity="0.38"/>
<ellipse cx="112.04" cy="347.13" rx="0.34" ry="1.74" fill="#7a582a" opacity="0.55"/>
<ellipse cx="111.31" cy="359.01" rx="1.19" ry="3.41" fill="#cbbd48" opacity="0.38"/>
<ellipse cx="111.31" cy="359.01" rx="0.49" ry="1.41" fill="#7a582a" opacity="0.55"/>
<ellipse cx="119.51" cy="294.87" rx="1.07" ry="3.27" fill="#cbbd48" opacity="0.38"/>
<ellipse cx="119.51" cy="294.87" rx="0.37" ry="1.27" fill="#7a582a" opacity="0.55"/>
<ellipse cx="112.73" cy="246.99" rx="1.11" ry="3.41" fill="#cbbd48" opacity="0.38"/>
<ellipse cx="112.73" cy="246.99" rx="0.41" ry="1.41" fill="#7a582a" opacity="0.55"/>
<ellipse cx="120.03" cy="253.55" rx="0.98" ry="3.45" fill="#cbbd48" opacity="0.38"/>
<ellipse cx="120.03" cy="253.55" rx="0.28" ry="1.45" fill="#7a582a" opacity="0.55"/>
<ellipse cx="119.26" cy="300.91" rx="1.13" ry="2.93" fill="#cbbd48" opacity="0.38"/>
<ellipse cx="119.26" cy="300.91" rx="0.43" ry="0.93" fill="#7a582a" opacity="0.55"/>
<ellipse cx="111.90" cy="355.92" rx="1.18" ry="3.71" fill="#cbbd48" opacity="0.38"/>
<ellipse cx="111.90" cy="355.92" rx="0.48" ry="1.71" fill="#7a582a" opacity="0.55"/>
<ellipse cx="121.14" cy="364.93" rx="1.15" ry="2.94" fill="#cbbd48" opacity="0.38"/>
<ellipse cx="121.14" cy="364.93" rx="0.45" ry="0.94" fill="#7a582a" opacity="0.55"/>
<ellipse cx="116.24" cy="372.38" rx="1.14" ry="3.25" fill="#cbbd48" opacity="0.38"/>
<ellipse cx="116.24" cy="372.38" rx="0.44" ry="1.25" fill="#7a582a" opacity="0.55"/>
<ellipse cx="119.99" cy="273.20" rx="1.15" ry="3.78" fill="#cbbd48" opacity="0.38"/>
<ellipse cx="119.99" cy="273.20" rx="0.45" ry="1.78" fill="#7a582a" opacity="0.55"/>
<ellipse cx="115.57" cy="274.64" rx="1.16" ry="3.08" fill="#cbbd48" opacity="0.38"/>
<ellipse cx="115.57" cy="274.64" rx="0.46" ry="1.08" fill="#7a582a" opacity="0.55"/>
<ellipse cx="113.91" cy="375.78" rx="0.96" ry="2.89" fill="#cbbd48" opacity="0.38"/>
<ellipse cx="113.91" cy="375.78" rx="0.26" ry="0.89" fill="#7a582a" opacity="0.55"/>
<ellipse cx="120.86" cy="353.49" rx="0.96" ry="2.97" fill="#cbbd48" opacity="0.38"/>
<ellipse cx="120.86" cy="353.49" rx="0.26" ry="0.97" fill="#7a582a" opacity="0.55"/>
<ellipse cx="112.39" cy="287.19" rx="1.14" ry="3.75" fill="#cbbd48" opacity="0.38"/>
<ellipse cx="112.39" cy="287.19" rx="0.44" ry="1.75" fill="#7a582a" opacity="0.55"/>
<ellipse cx="112.67" cy="336.29" rx="1.13" ry="2.91" fill="#cbbd48" opacity="0.38"/>
<ellipse cx="112.67" cy="336.29" rx="0.43" ry="0.91" fill="#7a582a" opacity="0.55"/>
<ellipse cx="120.61" cy="313.46" rx="0.97" ry="2.87" fill="#cbbd48" opacity="0.38"/>
<ellipse cx="120.61" cy="313.46" rx="0.27" ry="0.87" fill="#7a582a" opacity="0.55"/>
</g>
<rect x="244" y="231.1" width="64" height="150.6" fill="#fbfbfb"/>
<path d="M249.60,231.10 C249.75,243.75 250.07,281.90 250.50,307.00 C250.93,332.10 251.92,369.25 252.20,381.70 L266.00,381.70 C266.03,369.25 266.37,332.10 266.20,307.00 C266.03,281.90 265.20,243.75 265.00,231.10 Z" fill="url(#lg7)" stroke="#6e9c3c" stroke-width="0.6" stroke-opacity="0.6"/>
<g clip-path="url(#clg7)">
<path d="M252.72,231.10 L253.68,307.00 L254.99,381.70" fill="none" stroke="#5e8e2c" stroke-width="1.0" opacity="0.18"/>
<path d="M255.22,231.10 L256.23,307.00 L257.24,381.70" fill="none" stroke="#5e8e2c" stroke-width="1.0" opacity="0.18"/>
<path d="M258.76,231.10 L259.84,307.00 L260.41,381.70" fill="none" stroke="#5e8e2c" stroke-width="1.0" opacity="0.18"/>
<path d="M260.65,231.10 L261.76,307.00 L262.10,381.70" fill="none" stroke="#5e8e2c" stroke-width="1.0" opacity="0.18"/>
<ellipse cx="254.06" cy="311.52" rx="1.20" ry="5.22" fill="#cbbd48" opacity="0.35"/>
<ellipse cx="251.68" cy="296.54" rx="1.06" ry="3.63" fill="#cbbd48" opacity="0.38"/>
<ellipse cx="251.68" cy="296.54" rx="0.36" ry="1.63" fill="#7a582a" opacity="0.55"/>
<ellipse cx="251.87" cy="250.50" rx="1.19" ry="3.38" fill="#cbbd48" opacity="0.38"/>
<ellipse cx="251.87" cy="250.50" rx="0.49" ry="1.38" fill="#7a582a" opacity="0.55"/>
<ellipse cx="257.49" cy="291.05" rx="1.16" ry="3.09" fill="#cbbd48" opacity="0.38"/>
<ellipse cx="257.49" cy="291.05" rx="0.46" ry="1.09" fill="#7a582a" opacity="0.55"/>
<ellipse cx="251.46" cy="253.54" rx="1.15" ry="2.98" fill="#cbbd48" opacity="0.38"/>
<ellipse cx="251.46" cy="253.54" rx="0.45" ry="0.98" fill="#7a582a" opacity="0.55"/>
<ellipse cx="264.14" cy="318.53" rx="1.09" ry="2.86" fill="#cbbd48" opacity="0.38"/>
<ellipse cx="264.14" cy="318.53" rx="0.39" ry="0.86" fill="#7a582a" opacity="0.55"/>
<ellipse cx="251.82" cy="240.96" rx="1.06" ry="3.11" fill="#cbbd48" opacity="0.38"/>
<ellipse cx="251.82" cy="240.96" rx="0.36" ry="1.11" fill="#7a582a" opacity="0.55"/>
<ellipse cx="264.04" cy="319.11" rx="1.15" ry="3.50" fill="#cbbd48" opacity="0.38"/>
<ellipse cx="264.04" cy="319.11" rx="0.45" ry="1.50" fill="#7a582a" opacity="0.55"/>
<ellipse cx="263.76" cy="268.37" rx="1.17" ry="3.53" fill="#cbbd48" opacity="0.38"/>
<ellipse cx="263.76" cy="268.37" rx="0.47" ry="1.53" fill="#7a582a" opacity="0.55"/>
<ellipse cx="257.37" cy="274.89" rx="1.05" ry="3.56" fill="#cbbd48" opacity="0.38"/>
<ellipse cx="257.37" cy="274.89" rx="0.35" ry="1.56" fill="#7a582a" opacity="0.55"/>
<ellipse cx="262.87" cy="254.68" rx="1.12" ry="3.56" fill="#cbbd48" opacity="0.38"/>
<ellipse cx="262.87" cy="254.68" rx="0.42" ry="1.56" fill="#7a582a" opacity="0.55"/>
<ellipse cx="262.05" cy="317.25" rx="1.12" ry="3.39" fill="#cbbd48" opacity="0.38"/>
<ellipse cx="262.05" cy="317.25" rx="0.42" ry="1.39" fill="#7a582a" opacity="0.55"/>
<ellipse cx="264.80" cy="318.27" rx="1.19" ry="3.27" fill="#cbbd48" opacity="0.38"/>
<ellipse cx="264.80" cy="318.27" rx="0.49" ry="1.27" fill="#7a582a" opacity="0.55"/>
<ellipse cx="253.13" cy="330.79" rx="1.11" ry="3.79" fill="#cbbd48" opacity="0.38"/>
<ellipse cx="253.13" cy="330.79" rx="0.41" ry="1.79" fill="#7a582a" opacity="0.55"/>
<ellipse cx="255.04" cy="354.24" rx="1.12" ry="2.82" fill="#cbbd48" opacity="0.38"/>
<ellipse cx="255.04" cy="354.24" rx="0.42" ry="0.82" fill="#7a582a" opacity="0.55"/>
<ellipse cx="251.77" cy="300.71" rx="0.96" ry="3.57" fill="#cbbd48" opacity="0.38"/>
<ellipse cx="251.77" cy="300.71" rx="0.26" ry="1.57" fill="#7a582a" opacity="0.55"/>
</g>
<path d="M268.60,231.10 C268.55,243.75 268.40,281.90 268.30,307.00 C268.20,332.10 268.05,369.25 268.00,381.70 L282.50,381.70 C282.33,369.25 281.70,332.10 281.50,307.00 C281.30,281.90 281.33,243.75 281.30,231.10 Z" fill="url(#lg8)" stroke="#6e9c3c" stroke-width="0.6" stroke-opacity="0.6"/>
<g clip-path="url(#clg8)">
<path d="M271.05,231.10 L270.84,307.00 L270.79,381.70" fill="none" stroke="#5e8e2c" stroke-width="1.0" opacity="0.18"/>
<path d="M274.27,231.10 L274.19,307.00 L274.47,381.70" fill="none" stroke="#5e8e2c" stroke-width="1.0" opacity="0.18"/>
<path d="M275.49,231.10 L275.46,307.00 L275.87,381.70" fill="none" stroke="#5e8e2c" stroke-width="1.0" opacity="0.18"/>
<path d="M278.51,231.10 L278.60,307.00 L279.32,381.70" fill="none" stroke="#5e8e2c" stroke-width="1.0" opacity="0.18"/>
<ellipse cx="270.57" cy="247.25" rx="1.03" ry="8.85" fill="#d0b07a" opacity="0.35"/>
<ellipse cx="279.90" cy="300.57" rx="1.02" ry="9.98" fill="#d0b07a" opacity="0.35"/>
<ellipse cx="269.59" cy="247.87" rx="1.06" ry="7.45" fill="#d0b07a" opacity="0.35"/>
<ellipse cx="271.23" cy="363.73" rx="1.06" ry="10.95" fill="#d0b07a" opacity="0.35"/>
<ellipse cx="279.68" cy="244.10" rx="1.30" ry="7.03" fill="#d0b07a" opacity="0.35"/>
<ellipse cx="280.37" cy="333.68" rx="1.44" ry="8.49" fill="#d0b07a" opacity="0.35"/>
<ellipse cx="270.49" cy="255.37" rx="1.19" ry="6.16" fill="#d0b07a" opacity="0.35"/>
<ellipse cx="280.86" cy="370.01" rx="1.43" ry="6.71" fill="#d0b07a" opacity="0.35"/>
<ellipse cx="277.81" cy="285.96" rx="1.36" ry="5.59" fill="#d0b07a" opacity="0.35"/>
<ellipse cx="280.67" cy="333.52" rx="1.41" ry="8.02" fill="#d0b07a" opacity="0.35"/>
<ellipse cx="270.07" cy="261.47" rx="1.08" ry="2.87" fill="#d0b07a" opacity="0.38"/>
<ellipse cx="270.07" cy="261.47" rx="0.38" ry="0.87" fill="#9c6a44" opacity="0.55"/>
<ellipse cx="280.87" cy="366.32" rx="1.00" ry="3.04" fill="#d0b07a" opacity="0.38"/>
<ellipse cx="280.87" cy="366.32" rx="0.30" ry="1.04" fill="#9c6a44" opacity="0.55"/>
<ellipse cx="271.44" cy="233.87" rx="1.06" ry="3.18" fill="#d0b07a" opacity="0.38"/>
<ellipse cx="271.44" cy="233.87" rx="0.36" ry="1.18" fill="#9c6a44" opacity="0.55"/>
<ellipse cx="278.19" cy="356.08" rx="1.05" ry="2.97" fill="#d0b07a" opacity="0.38"/>
<ellipse cx="278.19" cy="356.08" rx="0.35" ry="0.97" fill="#9c6a44" opacity="0.55"/>
<ellipse cx="274.59" cy="330.65" rx="1.14" ry="3.10" fill="#d0b07a" opacity="0.38"/>
<ellipse cx="274.59" cy="330.65" rx="0.44" ry="1.10" fill="#9c6a44" opacity="0.55"/>
<ellipse cx="277.91" cy="234.06" rx="0.99" ry="3.24" fill="#d0b07a" opacity="0.38"/>
<ellipse cx="277.91" cy="234.06" rx="0.29" ry="1.24" fill="#9c6a44" opacity="0.55"/>
<ellipse cx="271.62" cy="266.53" rx="1.05" ry="3.39" fill="#d0b07a" opacity="0.38"/>
<ellipse cx="271.62" cy="266.53" rx="0.35" ry="1.39" fill="#9c6a44" opacity="0.55"/>
<ellipse cx="269.40" cy="275.01" rx="0.98" ry="3.32" fill="#d0b07a" opacity="0.38"/>
<ellipse cx="269.40" cy="275.01" rx="0.28" ry="1.32" fill="#9c6a44" opacity="0.55"/>
<ellipse cx="278.19" cy="285.62" rx="1.13" ry="3.78" fill="#d0b07a" opacity="0.38"/>
<ellipse cx="278.19" cy="285.62" rx="0.43" ry="1.78" fill="#9c6a44" opacity="0.55"/>
<ellipse cx="269.59" cy="241.46" rx="1.05" ry="3.37" fill="#d0b07a" opacity="0.38"/>
<ellipse cx="269.59" cy="241.46" rx="0.35" ry="1.37" fill="#9c6a44" opacity="0.55"/>
<ellipse cx="272.26" cy="342.62" rx="0.95" ry="3.64" fill="#d0b07a" opacity="0.38"/>
<ellipse cx="272.26" cy="342.62" rx="0.25" ry="1.64" fill="#9c6a44" opacity="0.55"/>
<ellipse cx="277.50" cy="263.32" rx="1.19" ry="3.56" fill="#d0b07a" opacity="0.38"/>
<ellipse cx="277.50" cy="263.32" rx="0.49" ry="1.56" fill="#9c6a44" opacity="0.55"/>
<ellipse cx="280.28" cy="379.28" rx="1.19" ry="3.24" fill="#d0b07a" opacity="0.38"/>
<ellipse cx="280.28" cy="379.28" rx="0.49" ry="1.24" fill="#9c6a44" opacity="0.55"/>
<ellipse cx="279.80" cy="244.49" rx="1.07" ry="2.95" fill="#d0b07a" opacity="0.38"/>
<ellipse cx="279.80" cy="244.49" rx="0.37" ry="0.95" fill="#9c6a44" opacity="0.55"/>
<ellipse cx="279.75" cy="250.23" rx="0.98" ry="3.24" fill="#d0b07a" opacity="0.38"/>
<ellipse cx="279.75" cy="250.23" rx="0.28" ry="1.24" fill="#9c6a44" opacity="0.55"/>
<ellipse cx="280.25" cy="339.91" rx="1.05" ry="3.16" fill="#d0b07a" opacity="0.38"/>
<ellipse cx="280.25" cy="339.91" rx="0.35" ry="1.16" fill="#9c6a44" opacity="0.55"/>
<ellipse cx="269.94" cy="265.61" rx="0.98" ry="3.53" fill="#d0b07a" opacity="0.38"/>
<ellipse cx="269.94" cy="265.61" rx="0.28" ry="1.53" fill="#9c6a44" opacity="0.55"/>
<ellipse cx="279.59" cy="337.36" rx="1.04" ry="3.23" fill="#d0b07a" opacity="0.38"/>
<ellipse cx="279.59" cy="337.36" rx="0.34" ry="1.23" fill="#9c6a44" opacity="0.55"/>
<ellipse cx="275.30" cy="245.97" rx="1.08" ry="3.51" fill="#d0b07a" opacity="0.38"/>
<ellipse cx="275.30" cy="245.97" rx="0.38" ry="1.51" fill="#9c6a44" opacity="0.55"/>
<ellipse cx="270.06" cy="261.92" rx="1.14" ry="3.45" fill="#d0b07a" opacity="0.38"/>
<ellipse cx="270.06" cy="261.92" rx="0.44" ry="1.45" fill="#9c6a44" opacity="0.55"/>
<ellipse cx="280.35" cy="233.09" rx="1.14" ry="3.73" fill="#d0b07a" opacity="0.38"/>
<ellipse cx="280.35" cy="233.09" rx="0.44" ry="1.73" fill="#9c6a44" opacity="0.55"/>
<ellipse cx="269.46" cy="377.99" rx="1.09" ry="3.78" fill="#d0b07a" opacity="0.38"/>
<ellipse cx="269.46" cy="377.99" rx="0.39" ry="1.78" fill="#9c6a44" opacity="0.55"/>
<ellipse cx="275.40" cy="286.97" rx="1.08" ry="3.43" fill="#d0b07a" opacity="0.38"/>
<ellipse cx="275.40" cy="286.97" rx="0.38" ry="1.43" fill="#9c6a44" opacity="0.55"/>
<ellipse cx="278.52" cy="374.32" rx="1.16" ry="3.00" fill="#d0b07a" opacity="0.38"/>
<ellipse cx="278.52" cy="374.32" rx="0.46" ry="1.00" fill="#9c6a44" opacity="0.55"/>
<ellipse cx="275.40" cy="287.08" rx="1.03" ry="3.09" fill="#d0b07a" opacity="0.38"/>
<ellipse cx="275.40" cy="287.08" rx="0.33" ry="1.09" fill="#9c6a44" opacity="0.55"/>
<ellipse cx="278.60" cy="323.20" rx="1.18" ry="3.53" fill="#d0b07a" opacity="0.38"/>
<ellipse cx="278.60" cy="323.20" rx="0.48" ry="1.53" fill="#9c6a44" opacity="0.55"/>
<ellipse cx="280.26" cy="354.09" rx="1.06" ry="3.29" fill="#d0b07a" opacity="0.38"/>
<ellipse cx="280.26" cy="354.09" rx="0.36" ry="1.29" fill="#9c6a44" opacity="0.55"/>
<ellipse cx="277.91" cy="310.70" rx="0.97" ry="3.53" fill="#d0b07a" opacity="0.38"/>
<ellipse cx="277.91" cy="310.70" rx="0.27" ry="1.53" fill="#9c6a44" opacity="0.55"/>
<ellipse cx="271.14" cy="272.35" rx="1.16" ry="3.07" fill="#d0b07a" opacity="0.38"/>
<ellipse cx="271.14" cy="272.35" rx="0.46" ry="1.07" fill="#9c6a44" opacity="0.55"/>
<ellipse cx="278.17" cy="275.44" rx="1.02" ry="3.69" fill="#d0b07a" opacity="0.38"/>
<ellipse cx="278.17" cy="275.44" rx="0.32" ry="1.69" fill="#9c6a44" opacity="0.55"/>
<ellipse cx="272.28" cy="293.29" rx="1.15" ry="3.55" fill="#d0b07a" opacity="0.38"/>
<ellipse cx="272.28" cy="293.29" rx="0.45" ry="1.55" fill="#9c6a44" opacity="0.55"/>
<ellipse cx="278.30" cy="269.23" rx="1.16" ry="3.17" fill="#d0b07a" opacity="0.38"/>
<ellipse cx="278.30" cy="269.23" rx="0.46" ry="1.17" fill="#9c6a44" opacity="0.55"/>
<ellipse cx="278.41" cy="348.12" rx="1.11" ry="3.58" fill="#d0b07a" opacity="0.38"/>
<ellipse cx="278.41" cy="348.12" rx="0.41" ry="1.58" fill="#9c6a44" opacity="0.55"/>
<ellipse cx="275.64" cy="379.67" rx="0.98" ry="3.41" fill="#d0b07a" opacity="0.38"/>
<ellipse cx="275.64" cy="379.67" rx="0.28" ry="1.41" fill="#9c6a44" opacity="0.55"/>
<ellipse cx="269.78" cy="333.90" rx="1.17" ry="3.71" fill="#d0b07a" opacity="0.38"/>
<ellipse cx="269.78" cy="333.90" rx="0.47" ry="1.71" fill="#9c6a44" opacity="0.55"/>
<ellipse cx="269.91" cy="369.60" rx="1.17" ry="3.45" fill="#d0b07a" opacity="0.38"/>
<ellipse cx="269.91" cy="369.60" rx="0.47" ry="1.45" fill="#9c6a44" opacity="0.55"/>
<ellipse cx="270.56" cy="279.64" rx="1.16" ry="3.45" fill="#d0b07a" opacity="0.38"/>
<ellipse cx="270.56" cy="279.64" rx="0.46" ry="1.45" fill="#9c6a44" opacity="0.55"/>
<ellipse cx="278.62" cy="286.52" rx="1.13" ry="3.40" fill="#d0b07a" opacity="0.38"/>
<ellipse cx="278.62" cy="286.52" rx="0.43" ry="1.40" fill="#9c6a44" opacity="0.55"/>
<ellipse cx="271.46" cy="279.55" rx="1.03" ry="3.32" fill="#d0b07a" opacity="0.38"/>
<ellipse cx="271.46" cy="279.55" rx="0.33" ry="1.32" fill="#9c6a44" opacity="0.55"/>
<ellipse cx="277.93" cy="249.04" rx="0.99" ry="3.05" fill="#d0b07a" opacity="0.38"/>
<ellipse cx="277.93" cy="249.04" rx="0.29" ry="1.05" fill="#9c6a44" opacity="0.55"/>
<ellipse cx="272.03" cy="289.95" rx="0.97" ry="3.02" fill="#d0b07a" opacity="0.38"/>
<ellipse cx="272.03" cy="289.95" rx="0.27" ry="1.02" fill="#9c6a44" opacity="0.55"/>
<ellipse cx="270.33" cy="275.66" rx="0.98" ry="2.85" fill="#d0b07a" opacity="0.38"/>
<ellipse cx="270.33" cy="275.66" rx="0.28" ry="0.85" fill="#9c6a44" opacity="0.55"/>
<ellipse cx="278.72" cy="314.70" rx="1.09" ry="3.13" fill="#d0b07a" opacity="0.38"/>
<ellipse cx="278.72" cy="314.70" rx="0.39" ry="1.13" fill="#9c6a44" opacity="0.55"/>
<ellipse cx="278.68" cy="363.15" rx="1.09" ry="3.74" fill="#d0b07a" opacity="0.38"/>
<ellipse cx="278.68" cy="363.15" rx="0.39" ry="1.74" fill="#9c6a44" opacity="0.55"/>
<ellipse cx="274.73" cy="380.31" rx="1.03" ry="3.21" fill="#d0b07a" opacity="0.38"/>
<ellipse cx="274.73" cy="380.31" rx="0.33" ry="1.21" fill="#9c6a44" opacity="0.55"/>
<ellipse cx="277.54" cy="257.21" rx="1.17" ry="3.39" fill="#d0b07a" opacity="0.38"/>
<ellipse cx="277.54" cy="257.21" rx="0.47" ry="1.39" fill="#9c6a44" opacity="0.55"/>
<ellipse cx="272.22" cy="323.31" rx="1.09" ry="3.70" fill="#d0b07a" opacity="0.38"/>
<ellipse cx="272.22" cy="323.31" rx="0.39" ry="1.70" fill="#9c6a44" opacity="0.55"/>
<ellipse cx="281.30" cy="369.21" rx="1.07" ry="3.17" fill="#d0b07a" opacity="0.38"/>
<ellipse cx="281.30" cy="369.21" rx="0.37" ry="1.17" fill="#9c6a44" opacity="0.55"/>
<ellipse cx="280.22" cy="357.52" rx="1.12" ry="3.28" fill="#d0b07a" opacity="0.38"/>
<ellipse cx="280.22" cy="357.52" rx="0.42" ry="1.28" fill="#9c6a44" opacity="0.55"/>
<ellipse cx="278.14" cy="251.10" rx="1.19" ry="3.33" fill="#d0b07a" opacity="0.38"/>
<ellipse cx="278.14" cy="251.10" rx="0.49" ry="1.33" fill="#9c6a44" opacity="0.55"/>
<ellipse cx="271.23" cy="371.31" rx="1.08" ry="3.57" fill="#d0b07a" opacity="0.38"/>
<ellipse cx="271.23" cy="371.31" rx="0.38" ry="1.57" fill="#9c6a44" opacity="0.55"/>
<ellipse cx="279.93" cy="354.68" rx="1.05" ry="2.83" fill="#d0b07a" opacity="0.38"/>
<ellipse cx="279.93" cy="354.68" rx="0.35" ry="0.83" fill="#9c6a44" opacity="0.55"/>
<ellipse cx="274.70" cy="287.30" rx="1.12" ry="3.42" fill="#d0b07a" opacity="0.38"/>
<ellipse cx="274.70" cy="287.30" rx="0.42" ry="1.42" fill="#9c6a44" opacity="0.55"/>
<ellipse cx="279.23" cy="253.38" rx="1.00" ry="3.38" fill="#d0b07a" opacity="0.38"/>
<ellipse cx="279.23" cy="253.38" rx="0.30" ry="1.38" fill="#9c6a44" opacity="0.55"/>
<ellipse cx="274.83" cy="251.03" rx="1.11" ry="3.77" fill="#d0b07a" opacity="0.38"/>
<ellipse cx="274.83" cy="251.03" rx="0.41" ry="1.77" fill="#9c6a44" opacity="0.55"/>
<ellipse cx="274.29" cy="248.15" rx="1.10" ry="3.46" fill="#d0b07a" opacity="0.38"/>
<ellipse cx="274.29" cy="248.15" rx="0.40" ry="1.46" fill="#9c6a44" opacity="0.55"/>
<ellipse cx="272.25" cy="378.60" rx="1.11" ry="3.28" fill="#d0b07a" opacity="0.38"/>
<ellipse cx="272.25" cy="378.60" rx="0.41" ry="1.28" fill="#9c6a44" opacity="0.55"/>
<ellipse cx="269.85" cy="257.32" rx="1.04" ry="3.17" fill="#d0b07a" opacity="0.38"/>
<ellipse cx="269.85" cy="257.32" rx="0.34" ry="1.17" fill="#9c6a44" opacity="0.55"/>
<ellipse cx="271.80" cy="352.18" rx="0.96" ry="2.94" fill="#d0b07a" opacity="0.38"/>
<ellipse cx="271.80" cy="352.18" rx="0.26" ry="0.94" fill="#9c6a44" opacity="0.55"/>
<ellipse cx="278.21" cy="337.59" rx="0.96" ry="3.03" fill="#d0b07a" opacity="0.38"/>
<ellipse cx="278.21" cy="337.59" rx="0.26" ry="1.03" fill="#9c6a44" opacity="0.55"/>
<ellipse cx="271.74" cy="285.67" rx="1.03" ry="3.45" fill="#d0b07a" opacity="0.38"/>
<ellipse cx="271.74" cy="285.67" rx="0.33" ry="1.45" fill="#9c6a44" opacity="0.55"/>
<ellipse cx="278.92" cy="348.89" rx="1.10" ry="3.06" fill="#d0b07a" opacity="0.38"/>
<ellipse cx="278.92" cy="348.89" rx="0.40" ry="1.06" fill="#9c6a44" opacity="0.55"/>
<ellipse cx="272.12" cy="357.14" rx="1.06" ry="3.43" fill="#d0b07a" opacity="0.38"/>
<ellipse cx="272.12" cy="357.14" rx="0.36" ry="1.43" fill="#9c6a44" opacity="0.55"/>
<ellipse cx="279.69" cy="306.29" rx="1.09" ry="3.54" fill="#d0b07a" opacity="0.38"/>
<ellipse cx="279.69" cy="306.29" rx="0.39" ry="1.54" fill="#9c6a44" opacity="0.55"/>
<ellipse cx="279.82" cy="285.80" rx="1.07" ry="3.18" fill="#d0b07a" opacity="0.38"/>
<ellipse cx="279.82" cy="285.80" rx="0.37" ry="1.18" fill="#9c6a44" opacity="0.55"/>
<ellipse cx="279.53" cy="313.33" rx="0.99" ry="3.62" fill="#d0b07a" opacity="0.38"/>
<ellipse cx="279.53" cy="313.33" rx="0.29" ry="1.62" fill="#9c6a44" opacity="0.55"/>
<ellipse cx="278.50" cy="245.25" rx="1.00" ry="3.44" fill="#d0b07a" opacity="0.38"/>
<ellipse cx="278.50" cy="245.25" rx="0.30" ry="1.44" fill="#9c6a44" opacity="0.55"/>
<ellipse cx="277.74" cy="269.76" rx="0.98" ry="2.84" fill="#d0b07a" opacity="0.38"/>
<ellipse cx="277.74" cy="269.76" rx="0.28" ry="0.84" fill="#9c6a44" opacity="0.55"/>
<ellipse cx="269.56" cy="338.87" rx="1.19" ry="3.54" fill="#d0b07a" opacity="0.38"/>
<ellipse cx="269.56" cy="338.87" rx="0.49" ry="1.54" fill="#9c6a44" opacity="0.55"/>
<ellipse cx="280.50" cy="341.71" rx="0.95" ry="3.61" fill="#d0b07a" opacity="0.38"/>
<ellipse cx="280.50" cy="341.71" rx="0.25" ry="1.61" fill="#9c6a44" opacity="0.55"/>
<ellipse cx="278.05" cy="281.00" rx="1.18" ry="2.80" fill="#d0b07a" opacity="0.38"/>
<ellipse cx="278.05" cy="281.00" rx="0.48" ry="0.80" fill="#9c6a44" opacity="0.55"/>
<ellipse cx="269.76" cy="377.79" rx="1.07" ry="3.79" fill="#d0b07a" opacity="0.38"/>
<ellipse cx="269.76" cy="377.79" rx="0.37" ry="1.79" fill="#9c6a44" opacity="0.55"/>
<ellipse cx="275.62" cy="338.62" rx="1.06" ry="2.95" fill="#d0b07a" opacity="0.38"/>
<ellipse cx="275.62" cy="338.62" rx="0.36" ry="0.95" fill="#9c6a44" opacity="0.55"/>
<ellipse cx="280.45" cy="253.78" rx="1.12" ry="3.15" fill="#d0b07a" opacity="0.38"/>
<ellipse cx="280.45" cy="253.78" rx="0.42" ry="1.15" fill="#9c6a44" opacity="0.55"/>
<ellipse cx="279.73" cy="320.85" rx="1.12" ry="3.00" fill="#d0b07a" opacity="0.38"/>
<ellipse cx="279.73" cy="320.85" rx="0.42" ry="1.00" fill="#9c6a44" opacity="0.55"/>
<ellipse cx="270.09" cy="236.23" rx="1.12" ry="3.03" fill="#d0b07a" opacity="0.38"/>
<ellipse cx="270.09" cy="236.23" rx="0.42" ry="1.03" fill="#9c6a44" opacity="0.55"/>
<ellipse cx="279.55" cy="291.08" rx="1.08" ry="3.40" fill="#d0b07a" opacity="0.38"/>
<ellipse cx="279.55" cy="291.08" rx="0.38" ry="1.40" fill="#9c6a44" opacity="0.55"/>
<ellipse cx="270.20" cy="292.44" rx="1.13" ry="2.99" fill="#d0b07a" opacity="0.38"/>
<ellipse cx="270.20" cy="292.44" rx="0.43" ry="0.99" fill="#9c6a44" opacity="0.55"/>
<ellipse cx="280.94" cy="352.07" rx="1.15" ry="3.29" fill="#d0b07a" opacity="0.38"/>
<ellipse cx="280.94" cy="352.07" rx="0.45" ry="1.29" fill="#9c6a44" opacity="0.55"/>
<ellipse cx="271.83" cy="338.46" rx="0.97" ry="3.15" fill="#d0b07a" opacity="0.38"/>
<ellipse cx="271.83" cy="338.46" rx="0.27" ry="1.15" fill="#9c6a44" opacity="0.55"/>
<ellipse cx="278.46" cy="307.30" rx="1.18" ry="3.67" fill="#d0b07a" opacity="0.38"/>
<ellipse cx="278.46" cy="307.30" rx="0.48" ry="1.67" fill="#9c6a44" opacity="0.55"/>
<ellipse cx="280.86" cy="376.35" rx="1.07" ry="3.02" fill="#d0b07a" opacity="0.38"/>
<ellipse cx="280.86" cy="376.35" rx="0.37" ry="1.02" fill="#9c6a44" opacity="0.55"/>
<ellipse cx="279.93" cy="350.47" rx="1.01" ry="3.02" fill="#d0b07a" opacity="0.38"/>
<ellipse cx="279.93" cy="350.47" rx="0.31" ry="1.02" fill="#9c6a44" opacity="0.55"/>
<ellipse cx="279.86" cy="339.49" rx="1.12" ry="3.36" fill="#d0b07a" opacity="0.38"/>
<ellipse cx="279.86" cy="339.49" rx="0.42" ry="1.36" fill="#9c6a44" opacity="0.55"/>
<ellipse cx="272.37" cy="271.72" rx="0.99" ry="3.04" fill="#d0b07a" opacity="0.38"/>
<ellipse cx="272.37" cy="271.72" rx="0.29" ry="1.04" fill="#9c6a44" opacity="0.55"/>
<ellipse cx="278.91" cy="320.34" rx="1.05" ry="3.57" fill="#d0b07a" opacity="0.38"/>
<ellipse cx="278.91" cy="320.34" rx="0.35" ry="1.57" fill="#9c6a44" opacity="0.55"/>
<ellipse cx="272.23" cy="249.71" rx="1.12" ry="3.25" fill="#d0b07a" opacity="0.38"/>
<ellipse cx="272.23" cy="249.71" rx="0.42" ry="1.25" fill="#9c6a44" opacity="0.55"/>
<ellipse cx="280.14" cy="321.05" rx="1.17" ry="3.78" fill="#d0b07a" opacity="0.38"/>
<ellipse cx="280.14" cy="321.05" rx="0.47" ry="1.78" fill="#9c6a44" opacity="0.55"/>
<ellipse cx="278.78" cy="261.87" rx="1.10" ry="3.30" fill="#d0b07a" opacity="0.38"/>
<ellipse cx="278.78" cy="261.87" rx="0.40" ry="1.30" fill="#9c6a44" opacity="0.55"/>
<ellipse cx="279.99" cy="287.46" rx="1.10" ry="2.91" fill="#d0b07a" opacity="0.38"/>
<ellipse cx="279.99" cy="287.46" rx="0.40" ry="0.91" fill="#9c6a44" opacity="0.55"/>
</g>
<path d="M288.20,231.10 C288.13,243.75 287.87,281.90 287.80,307.00 C287.73,332.10 287.80,369.25 287.80,381.70 L299.00,381.70 C299.33,369.25 300.07,332.10 301.00,307.00 C301.93,281.90 304.00,243.75 304.60,231.10 Z" fill="url(#lg9)" stroke="#6e9c3c" stroke-width="0.6" stroke-opacity="0.6"/>
<g clip-path="url(#clg9)">
<path d="M291.75,231.10 L290.66,307.00 L290.22,381.70" fill="none" stroke="#5e8e2c" stroke-width="1.0" opacity="0.18"/>
<path d="M294.55,231.10 L292.91,307.00 L292.14,381.70" fill="none" stroke="#5e8e2c" stroke-width="1.0" opacity="0.18"/>
<path d="M297.12,231.10 L294.98,307.00 L293.89,381.70" fill="none" stroke="#5e8e2c" stroke-width="1.0" opacity="0.18"/>
<path d="M301.27,231.10 L298.32,307.00 L296.72,381.70" fill="none" stroke="#5e8e2c" stroke-width="1.0" opacity="0.18"/>
<ellipse cx="302.82" cy="236.02" rx="0.95" ry="8.33" fill="#d0b07a" opacity="0.35"/>
<ellipse cx="289.21" cy="323.03" rx="1.32" ry="7.71" fill="#d0b07a" opacity="0.35"/>
<ellipse cx="289.02" cy="338.49" rx="0.97" ry="8.04" fill="#d0b07a" opacity="0.35"/>
<ellipse cx="296.77" cy="366.84" rx="1.13" ry="9.48" fill="#d0b07a" opacity="0.35"/>
<ellipse cx="292.18" cy="249.60" rx="1.34" ry="7.53" fill="#d0b07a" opacity="0.35"/>
<ellipse cx="291.75" cy="247.61" rx="1.07" ry="9.86" fill="#d0b07a" opacity="0.35"/>
<ellipse cx="295.92" cy="263.55" rx="0.93" ry="7.27" fill="#d0b07a" opacity="0.35"/>
<ellipse cx="289.33" cy="305.22" rx="1.44" ry="5.67" fill="#d0b07a" opacity="0.35"/>
<ellipse cx="289.42" cy="320.21" rx="1.44" ry="6.22" fill="#d0b07a" opacity="0.35"/>
<ellipse cx="290.20" cy="233.33" rx="0.95" ry="2.88" fill="#d0b07a" opacity="0.38"/>
<ellipse cx="290.20" cy="233.33" rx="0.25" ry="0.88" fill="#9c6a44" opacity="0.55"/>
<ellipse cx="294.32" cy="305.92" rx="1.05" ry="3.44" fill="#d0b07a" opacity="0.38"/>
<ellipse cx="294.32" cy="305.92" rx="0.35" ry="1.44" fill="#9c6a44" opacity="0.55"/>
<ellipse cx="301.54" cy="245.98" rx="1.10" ry="3.76" fill="#d0b07a" opacity="0.38"/>
<ellipse cx="301.54" cy="245.98" rx="0.40" ry="1.76" fill="#9c6a44" opacity="0.55"/>
<ellipse cx="302.40" cy="240.15" rx="0.99" ry="3.07" fill="#d0b07a" opacity="0.38"/>
<ellipse cx="302.40" cy="240.15" rx="0.29" ry="1.07" fill="#9c6a44" opacity="0.55"/>
<ellipse cx="292.89" cy="379.94" rx="1.13" ry="3.75" fill="#d0b07a" opacity="0.38"/>
<ellipse cx="292.89" cy="379.94" rx="0.43" ry="1.75" fill="#9c6a44" opacity="0.55"/>
<ellipse cx="298.53" cy="267.29" rx="1.04" ry="3.47" fill="#d0b07a" opacity="0.38"/>
<ellipse cx="298.53" cy="267.29" rx="0.34" ry="1.47" fill="#9c6a44" opacity="0.55"/>
<ellipse cx="293.65" cy="319.81" rx="1.04" ry="3.66" fill="#d0b07a" opacity="0.38"/>
<ellipse cx="293.65" cy="319.81" rx="0.34" ry="1.66" fill="#9c6a44" opacity="0.55"/>
<ellipse cx="299.00" cy="318.90" rx="1.20" ry="3.37" fill="#d0b07a" opacity="0.38"/>
<ellipse cx="299.00" cy="318.90" rx="0.50" ry="1.37" fill="#9c6a44" opacity="0.55"/>
<ellipse cx="296.06" cy="234.83" rx="1.06" ry="3.01" fill="#d0b07a" opacity="0.38"/>
<ellipse cx="296.06" cy="234.83" rx="0.36" ry="1.01" fill="#9c6a44" opacity="0.55"/>
<ellipse cx="290.67" cy="298.08" rx="1.11" ry="2.90" fill="#d0b07a" opacity="0.38"/>
<ellipse cx="290.67" cy="298.08" rx="0.41" ry="0.90" fill="#9c6a44" opacity="0.55"/>
<ellipse cx="289.64" cy="348.62" rx="1.15" ry="3.30" fill="#d0b07a" opacity="0.38"/>
<ellipse cx="289.64" cy="348.62" rx="0.45" ry="1.30" fill="#9c6a44" opacity="0.55"/>
<ellipse cx="291.23" cy="337.52" rx="1.06" ry="3.03" fill="#d0b07a" opacity="0.38"/>
<ellipse cx="291.23" cy="337.52" rx="0.36" ry="1.03" fill="#9c6a44" opacity="0.55"/>
<ellipse cx="297.63" cy="375.36" rx="1.16" ry="3.17" fill="#d0b07a" opacity="0.38"/>
<ellipse cx="297.63" cy="375.36" rx="0.46" ry="1.17" fill="#9c6a44" opacity="0.55"/>
<ellipse cx="289.79" cy="331.29" rx="1.01" ry="2.85" fill="#d0b07a" opacity="0.38"/>
<ellipse cx="289.79" cy="331.29" rx="0.31" ry="0.85" fill="#9c6a44" opacity="0.55"/>
<ellipse cx="289.78" cy="377.02" rx="1.20" ry="3.41" fill="#d0b07a" opacity="0.38"/>
<ellipse cx="289.78" cy="377.02" rx="0.50" ry="1.41" fill="#9c6a44" opacity="0.55"/>
<ellipse cx="289.73" cy="233.86" rx="1.05" ry="3.41" fill="#d0b07a" opacity="0.38"/>
<ellipse cx="289.73" cy="233.86" rx="0.35" ry="1.41" fill="#9c6a44" opacity="0.55"/>
<ellipse cx="290.14" cy="375.71" rx="1.09" ry="2.94" fill="#d0b07a" opacity="0.38"/>
<ellipse cx="290.14" cy="375.71" rx="0.39" ry="0.94" fill="#9c6a44" opacity="0.55"/>
<ellipse cx="302.32" cy="244.97" rx="0.97" ry="3.25" fill="#d0b07a" opacity="0.38"/>
<ellipse cx="302.32" cy="244.97" rx="0.27" ry="1.25" fill="#9c6a44" opacity="0.55"/>
<ellipse cx="293.84" cy="336.69" rx="1.17" ry="2.97" fill="#d0b07a" opacity="0.38"/>
<ellipse cx="293.84" cy="336.69" rx="0.47" ry="0.97" fill="#9c6a44" opacity="0.55"/>
<ellipse cx="294.51" cy="338.42" rx="1.07" ry="2.90" fill="#d0b07a" opacity="0.38"/>
<ellipse cx="294.51" cy="338.42" rx="0.37" ry="0.90" fill="#9c6a44" opacity="0.55"/>
<ellipse cx="301.83" cy="239.30" rx="1.11" ry="2.88" fill="#d0b07a" opacity="0.38"/>
<ellipse cx="301.83" cy="239.30" rx="0.41" ry="0.88" fill="#9c6a44" opacity="0.55"/>
<ellipse cx="288.57" cy="348.03" rx="0.99" ry="3.26" fill="#d0b07a" opacity="0.38"/>
<ellipse cx="288.57" cy="348.03" rx="0.29" ry="1.26" fill="#9c6a44" opacity="0.55"/>
<ellipse cx="290.59" cy="315.20" rx="1.07" ry="3.75" fill="#d0b07a" opacity="0.38"/>
<ellipse cx="290.59" cy="315.20" rx="0.37" ry="1.75" fill="#9c6a44" opacity="0.55"/>
<ellipse cx="293.68" cy="311.66" rx="1.20" ry="3.69" fill="#d0b07a" opacity="0.38"/>
<ellipse cx="293.68" cy="311.66" rx="0.50" ry="1.69" fill="#9c6a44" opacity="0.55"/>
<ellipse cx="299.33" cy="312.99" rx="1.18" ry="2.87" fill="#d0b07a" opacity="0.38"/>
<ellipse cx="299.33" cy="312.99" rx="0.48" ry="0.87" fill="#9c6a44" opacity="0.55"/>
<ellipse cx="298.65" cy="327.62" rx="1.13" ry="3.52" fill="#d0b07a" opacity="0.38"/>
<ellipse cx="298.65" cy="327.62" rx="0.43" ry="1.52" fill="#9c6a44" opacity="0.55"/>
<ellipse cx="299.83" cy="247.44" rx="1.07" ry="3.44" fill="#d0b07a" opacity="0.38"/>
<ellipse cx="299.83" cy="247.44" rx="0.37" ry="1.44" fill="#9c6a44" opacity="0.55"/>
<ellipse cx="300.00" cy="239.97" rx="1.17" ry="3.03" fill="#d0b07a" opacity="0.38"/>
<ellipse cx="300.00" cy="239.97" rx="0.47" ry="1.03" fill="#9c6a44" opacity="0.55"/>
<ellipse cx="293.94" cy="354.42" rx="1.17" ry="2.84" fill="#d0b07a" opacity="0.38"/>
<ellipse cx="293.94" cy="354.42" rx="0.47" ry="0.84" fill="#9c6a44" opacity="0.55"/>
<ellipse cx="297.67" cy="320.81" rx="1.05" ry="2.87" fill="#d0b07a" opacity="0.38"/>
<ellipse cx="297.67" cy="320.81" rx="0.35" ry="0.87" fill="#9c6a44" opacity="0.55"/>
<ellipse cx="298.98" cy="260.20" rx="0.97" ry="3.15" fill="#d0b07a" opacity="0.38"/>
<ellipse cx="298.98" cy="260.20" rx="0.27" ry="1.15" fill="#9c6a44" opacity="0.55"/>
<ellipse cx="298.97" cy="301.98" rx="1.14" ry="3.13" fill="#d0b07a" opacity="0.38"/>
<ellipse cx="298.97" cy="301.98" rx="0.44" ry="1.13" fill="#9c6a44" opacity="0.55"/>
<ellipse cx="289.89" cy="348.43" rx="1.10" ry="3.78" fill="#d0b07a" opacity="0.38"/>
<ellipse cx="289.89" cy="348.43" rx="0.40" ry="1.78" fill="#9c6a44" opacity="0.55"/>
<ellipse cx="292.89" cy="378.67" rx="1.04" ry="3.03" fill="#d0b07a" opacity="0.38"/>
<ellipse cx="292.89" cy="378.67" rx="0.34" ry="1.03" fill="#9c6a44" opacity="0.55"/>
<ellipse cx="288.86" cy="348.01" rx="0.98" ry="2.92" fill="#d0b07a" opacity="0.38"/>
<ellipse cx="288.86" cy="348.01" rx="0.28" ry="0.92" fill="#9c6a44" opacity="0.55"/>
<ellipse cx="293.36" cy="371.51" rx="1.14" ry="3.27" fill="#d0b07a" opacity="0.38"/>
<ellipse cx="293.36" cy="371.51" rx="0.44" ry="1.27" fill="#9c6a44" opacity="0.55"/>
<ellipse cx="291.27" cy="309.67" rx="1.01" ry="3.06" fill="#d0b07a" opacity="0.38"/>
<ellipse cx="291.27" cy="309.67" rx="0.31" ry="1.06" fill="#9c6a44" opacity="0.55"/>
<ellipse cx="289.29" cy="309.05" rx="1.19" ry="2.82" fill="#d0b07a" opacity="0.38"/>
<ellipse cx="289.29" cy="309.05" rx="0.49" ry="0.82" fill="#9c6a44" opacity="0.55"/>
<ellipse cx="295.35" cy="247.44" rx="1.01" ry="3.65" fill="#d0b07a" opacity="0.38"/>
<ellipse cx="295.35" cy="247.44" rx="0.31" ry="1.65" fill="#9c6a44" opacity="0.55"/>
<ellipse cx="288.72" cy="322.04" rx="1.02" ry="3.10" fill="#d0b07a" opacity="0.38"/>
<ellipse cx="288.72" cy="322.04" rx="0.32" ry="1.10" fill="#9c6a44" opacity="0.55"/>
<ellipse cx="294.21" cy="351.02" rx="1.18" ry="3.73" fill="#d0b07a" opacity="0.38"/>
<ellipse cx="294.21" cy="351.02" rx="0.48" ry="1.73" fill="#9c6a44" opacity="0.55"/>
<ellipse cx="294.31" cy="362.36" rx="0.97" ry="3.12" fill="#d0b07a" opacity="0.38"/>
<ellipse cx="294.31" cy="362.36" rx="0.27" ry="1.12" fill="#9c6a44" opacity="0.55"/>
<ellipse cx="299.10" cy="268.83" rx="1.04" ry="3.64" fill="#d0b07a" opacity="0.38"/>
<ellipse cx="299.10" cy="268.83" rx="0.34" ry="1.64" fill="#9c6a44" opacity="0.55"/>
<ellipse cx="289.23" cy="291.41" rx="1.07" ry="3.41" fill="#d0b07a" opacity="0.38"/>
<ellipse cx="289.23" cy="291.41" rx="0.37" ry="1.41" fill="#9c6a44" opacity="0.55"/>
<ellipse cx="298.75" cy="316.57" rx="1.05" ry="3.13" fill="#d0b07a" opacity="0.38"/>
<ellipse cx="298.75" cy="316.57" rx="0.35" ry="1.13" fill="#9c6a44" opacity="0.55"/>
<ellipse cx="301.08" cy="257.45" rx="1.13" ry="3.46" fill="#d0b07a" opacity="0.38"/>
<ellipse cx="301.08" cy="257.45" rx="0.43" ry="1.46" fill="#9c6a44" opacity="0.55"/>
<ellipse cx="299.48" cy="252.56" rx="1.06" ry="3.41" fill="#d0b07a" opacity="0.38"/>
<ellipse cx="299.48" cy="252.56" rx="0.36" ry="1.41" fill="#9c6a44" opacity="0.55"/>
<ellipse cx="294.21" cy="345.27" rx="1.00" ry="3.34" fill="#d0b07a" opacity="0.38"/>
<ellipse cx="294.21" cy="345.27" rx="0.30" ry="1.34" fill="#9c6a44" opacity="0.55"/>
<ellipse cx="289.72" cy="281.94" rx="1.07" ry="3.67" fill="#d0b07a" opacity="0.38"/>
<ellipse cx="289.72" cy="281.94" rx="0.37" ry="1.67" fill="#9c6a44" opacity="0.55"/>
<ellipse cx="295.13" cy="280.20" rx="0.97" ry="3.52" fill="#d0b07a" opacity="0.38"/>
<ellipse cx="295.13" cy="280.20" rx="0.27" ry="1.52" fill="#9c6a44" opacity="0.55"/>
<ellipse cx="300.20" cy="274.40" rx="0.95" ry="3.72" fill="#d0b07a" opacity="0.38"/>
<ellipse cx="300.20" cy="274.40" rx="0.25" ry="1.72" fill="#9c6a44" opacity="0.55"/>
<ellipse cx="289.62" cy="238.34" rx="0.97" ry="3.62" fill="#d0b07a" opacity="0.38"/>
<ellipse cx="289.62" cy="238.34" rx="0.27" ry="1.62" fill="#9c6a44" opacity="0.55"/>
<ellipse cx="296.09" cy="379.99" rx="1.17" ry="3.31" fill="#d0b07a" opacity="0.38"/>
<ellipse cx="296.09" cy="379.99" rx="0.47" ry="1.31" fill="#9c6a44" opacity="0.55"/>
<ellipse cx="299.53" cy="252.14" rx="1.02" ry="3.12" fill="#d0b07a" opacity="0.38"/>
<ellipse cx="299.53" cy="252.14" rx="0.32" ry="1.12" fill="#9c6a44" opacity="0.55"/>
<ellipse cx="289.72" cy="289.32" rx="1.17" ry="3.37" fill="#d0b07a" opacity="0.38"/>
<ellipse cx="289.72" cy="289.32" rx="0.47" ry="1.37" fill="#9c6a44" opacity="0.55"/>
<ellipse cx="299.74" cy="233.50" rx="1.07" ry="3.67" fill="#d0b07a" opacity="0.38"/>
<ellipse cx="299.74" cy="233.50" rx="0.37" ry="1.67" fill="#9c6a44" opacity="0.55"/>
<ellipse cx="294.41" cy="332.72" rx="1.02" ry="2.94" fill="#d0b07a" opacity="0.38"/>
<ellipse cx="294.41" cy="332.72" rx="0.32" ry="0.94" fill="#9c6a44" opacity="0.55"/>
<ellipse cx="297.61" cy="299.19" rx="1.03" ry="3.55" fill="#d0b07a" opacity="0.38"/>
<ellipse cx="297.61" cy="299.19" rx="0.33" ry="1.55" fill="#9c6a44" opacity="0.55"/>
<ellipse cx="298.62" cy="283.76" rx="1.18" ry="2.83" fill="#d0b07a" opacity="0.38"/>
<ellipse cx="298.62" cy="283.76" rx="0.48" ry="0.83" fill="#9c6a44" opacity="0.55"/>
<ellipse cx="295.88" cy="259.80" rx="0.97" ry="2.93" fill="#d0b07a" opacity="0.38"/>
<ellipse cx="295.88" cy="259.80" rx="0.27" ry="0.93" fill="#9c6a44" opacity="0.55"/>
<ellipse cx="301.83" cy="263.42" rx="1.00" ry="3.00" fill="#d0b07a" opacity="0.38"/>
<ellipse cx="301.83" cy="263.42" rx="0.30" ry="1.00" fill="#9c6a44" opacity="0.55"/>
<ellipse cx="299.27" cy="334.01" rx="1.20" ry="3.74" fill="#d0b07a" opacity="0.38"/>
<ellipse cx="299.27" cy="334.01" rx="0.50" ry="1.74" fill="#9c6a44" opacity="0.55"/>
<ellipse cx="298.06" cy="338.45" rx="1.15" ry="3.20" fill="#d0b07a" opacity="0.38"/>
<ellipse cx="298.06" cy="338.45" rx="0.45" ry="1.20" fill="#9c6a44" opacity="0.55"/>
<ellipse cx="298.57" cy="300.99" rx="1.09" ry="3.72" fill="#d0b07a" opacity="0.38"/>
<ellipse cx="298.57" cy="300.99" rx="0.39" ry="1.72" fill="#9c6a44" opacity="0.55"/>
<ellipse cx="288.96" cy="375.37" rx="1.17" ry="3.57" fill="#d0b07a" opacity="0.38"/>
<ellipse cx="288.96" cy="375.37" rx="0.47" ry="1.57" fill="#9c6a44" opacity="0.55"/>
<ellipse cx="289.21" cy="376.11" rx="1.18" ry="3.34" fill="#d0b07a" opacity="0.38"/>
<ellipse cx="289.21" cy="376.11" rx="0.48" ry="1.34" fill="#9c6a44" opacity="0.55"/>
<ellipse cx="293.61" cy="331.72" rx="0.96" ry="3.65" fill="#d0b07a" opacity="0.38"/>
<ellipse cx="293.61" cy="331.72" rx="0.26" ry="1.65" fill="#9c6a44" opacity="0.55"/>
<ellipse cx="289.81" cy="318.45" rx="1.02" ry="2.93" fill="#d0b07a" opacity="0.38"/>
<ellipse cx="289.81" cy="318.45" rx="0.32" ry="0.93" fill="#9c6a44" opacity="0.55"/>
<ellipse cx="289.57" cy="276.33" rx="1.14" ry="3.25" fill="#d0b07a" opacity="0.38"/>
<ellipse cx="289.57" cy="276.33" rx="0.44" ry="1.25" fill="#9c6a44" opacity="0.55"/>
<ellipse cx="288.71" cy="375.44" rx="0.99" ry="3.37" fill="#d0b07a" opacity="0.38"/>
<ellipse cx="288.71" cy="375.44" rx="0.29" ry="1.37" fill="#9c6a44" opacity="0.55"/>
<ellipse cx="299.40" cy="261.77" rx="1.10" ry="3.64" fill="#d0b07a" opacity="0.38"/>
<ellipse cx="299.40" cy="261.77" rx="0.40" ry="1.64" fill="#9c6a44" opacity="0.55"/>
<ellipse cx="293.34" cy="349.47" rx="1.04" ry="3.76" fill="#d0b07a" opacity="0.38"/>
<ellipse cx="293.34" cy="349.47" rx="0.34" ry="1.76" fill="#9c6a44" opacity="0.55"/>
<ellipse cx="291.33" cy="291.07" rx="1.00" ry="3.65" fill="#d0b07a" opacity="0.38"/>
<ellipse cx="291.33" cy="291.07" rx="0.30" ry="1.65" fill="#9c6a44" opacity="0.55"/>
<ellipse cx="289.97" cy="326.61" rx="1.08" ry="3.05" fill="#d0b07a" opacity="0.38"/>
<ellipse cx="289.97" cy="326.61" rx="0.38" ry="1.05" fill="#9c6a44" opacity="0.55"/>
<ellipse cx="293.97" cy="323.14" rx="0.95" ry="3.00" fill="#d0b07a" opacity="0.38"/>
<ellipse cx="293.97" cy="323.14" rx="0.25" ry="1.00" fill="#9c6a44" opacity="0.55"/>
</g>
<rect x="429" y="232" width="128.7" height="151" fill="#f4f5f6"/>
<path d="M433.10,232.00 C433.02,244.67 432.98,282.83 432.60,308.00 C432.22,333.17 431.10,370.50 430.80,383.00 L441.60,383.00 C441.78,370.50 442.52,333.17 442.70,308.00 C442.88,282.83 442.70,244.67 442.70,232.00 Z" fill="url(#lg10)" stroke="#6e9c3c" stroke-width="0.6" stroke-opacity="0.6"/>
<g clip-path="url(#clg10)">
<path d="M435.28,232.00 L434.89,308.00 L433.25,383.00" fill="none" stroke="#5e8e2c" stroke-width="1.0" opacity="0.18"/>
<path d="M436.87,232.00 L436.57,308.00 L435.04,383.00" fill="none" stroke="#5e8e2c" stroke-width="1.0" opacity="0.18"/>
<path d="M438.74,232.00 L438.54,308.00 L437.15,383.00" fill="none" stroke="#5e8e2c" stroke-width="1.0" opacity="0.18"/>
<path d="M440.11,232.00 L439.98,308.00 L438.69,383.00" fill="none" stroke="#5e8e2c" stroke-width="1.0" opacity="0.18"/>
<ellipse cx="436.95" cy="352.30" rx="1.00" ry="8.12" fill="#cbbd48" opacity="0.35"/>
<ellipse cx="435.70" cy="282.87" rx="1.50" ry="5.27" fill="#cbbd48" opacity="0.35"/>
<ellipse cx="439.19" cy="359.00" rx="1.07" ry="9.05" fill="#cbbd48" opacity="0.35"/>
<ellipse cx="440.35" cy="301.33" rx="0.98" ry="9.61" fill="#cbbd48" opacity="0.35"/>
<ellipse cx="436.44" cy="376.49" rx="0.93" ry="5.02" fill="#cbbd48" opacity="0.35"/>
<ellipse cx="437.63" cy="255.16" rx="1.12" ry="10.39" fill="#cbbd48" opacity="0.35"/>
<ellipse cx="441.45" cy="280.95" rx="0.94" ry="8.51" fill="#cbbd48" opacity="0.35"/>
<ellipse cx="432.42" cy="356.70" rx="1.15" ry="5.22" fill="#cbbd48" opacity="0.35"/>
<ellipse cx="437.81" cy="307.01" rx="1.22" ry="10.13" fill="#cbbd48" opacity="0.35"/>
<ellipse cx="440.09" cy="255.30" rx="1.10" ry="2.91" fill="#cbbd48" opacity="0.38"/>
<ellipse cx="440.09" cy="255.30" rx="0.40" ry="0.91" fill="#7a582a" opacity="0.55"/>
<ellipse cx="432.42" cy="348.55" rx="1.15" ry="3.75" fill="#cbbd48" opacity="0.38"/>
<ellipse cx="432.42" cy="348.55" rx="0.45" ry="1.75" fill="#7a582a" opacity="0.55"/>
<ellipse cx="441.14" cy="297.55" rx="1.02" ry="3.42" fill="#cbbd48" opacity="0.38"/>
<ellipse cx="441.14" cy="297.55" rx="0.32" ry="1.42" fill="#7a582a" opacity="0.55"/>
<ellipse cx="434.03" cy="259.59" rx="0.99" ry="3.45" fill="#cbbd48" opacity="0.38"/>
<ellipse cx="434.03" cy="259.59" rx="0.29" ry="1.45" fill="#7a582a" opacity="0.55"/>
<ellipse cx="436.71" cy="355.34" rx="1.04" ry="3.23" fill="#cbbd48" opacity="0.38"/>
<ellipse cx="436.71" cy="355.34" rx="0.34" ry="1.23" fill="#7a582a" opacity="0.55"/>
<ellipse cx="437.66" cy="233.75" rx="1.03" ry="2.88" fill="#cbbd48" opacity="0.38"/>
<ellipse cx="437.66" cy="233.75" rx="0.33" ry="0.88" fill="#7a582a" opacity="0.55"/>
<ellipse cx="440.04" cy="299.76" rx="1.17" ry="3.47" fill="#cbbd48" opacity="0.38"/>
<ellipse cx="440.04" cy="299.76" rx="0.47" ry="1.47" fill="#7a582a" opacity="0.55"/>
<ellipse cx="442.09" cy="268.97" rx="1.08" ry="3.40" fill="#cbbd48" opacity="0.38"/>
<ellipse cx="442.09" cy="268.97" rx="0.38" ry="1.40" fill="#7a582a" opacity="0.55"/>
<ellipse cx="441.49" cy="242.35" rx="1.05" ry="3.22" fill="#cbbd48" opacity="0.38"/>
<ellipse cx="441.49" cy="242.35" rx="0.35" ry="1.22" fill="#7a582a" opacity="0.55"/>
<ellipse cx="441.28" cy="320.16" rx="0.99" ry="3.24" fill="#cbbd48" opacity="0.38"/>
<ellipse cx="441.28" cy="320.16" rx="0.29" ry="1.24" fill="#7a582a" opacity="0.55"/>
<ellipse cx="439.74" cy="377.33" rx="0.95" ry="3.34" fill="#cbbd48" opacity="0.38"/>
<ellipse cx="439.74" cy="377.33" rx="0.25" ry="1.34" fill="#7a582a" opacity="0.55"/>
<ellipse cx="433.65" cy="240.54" rx="1.06" ry="3.79" fill="#cbbd48" opacity="0.38"/>
<ellipse cx="433.65" cy="240.54" rx="0.36" ry="1.79" fill="#7a582a" opacity="0.55"/>
<ellipse cx="441.40" cy="305.27" rx="1.08" ry="3.25" fill="#cbbd48" opacity="0.38"/>
<ellipse cx="441.40" cy="305.27" rx="0.38" ry="1.25" fill="#7a582a" opacity="0.55"/>
<ellipse cx="437.29" cy="341.21" rx="1.06" ry="3.45" fill="#cbbd48" opacity="0.38"/>
<ellipse cx="437.29" cy="341.21" rx="0.36" ry="1.45" fill="#7a582a" opacity="0.55"/>
<ellipse cx="432.06" cy="368.52" rx="1.10" ry="3.49" fill="#cbbd48" opacity="0.38"/>
<ellipse cx="432.06" cy="368.52" rx="0.40" ry="1.49" fill="#7a582a" opacity="0.55"/>
<ellipse cx="440.28" cy="328.75" rx="1.07" ry="3.61" fill="#cbbd48" opacity="0.38"/>
<ellipse cx="440.28" cy="328.75" rx="0.37" ry="1.61" fill="#7a582a" opacity="0.55"/>
<ellipse cx="440.91" cy="376.39" rx="1.13" ry="3.69" fill="#cbbd48" opacity="0.38"/>
<ellipse cx="440.91" cy="376.39" rx="0.43" ry="1.69" fill="#7a582a" opacity="0.55"/>
<ellipse cx="438.25" cy="239.89" rx="1.19" ry="3.78" fill="#cbbd48" opacity="0.38"/>
<ellipse cx="438.25" cy="239.89" rx="0.49" ry="1.78" fill="#7a582a" opacity="0.55"/>
<ellipse cx="439.73" cy="275.54" rx="1.10" ry="3.72" fill="#cbbd48" opacity="0.38"/>
<ellipse cx="439.73" cy="275.54" rx="0.40" ry="1.72" fill="#7a582a" opacity="0.55"/>
<ellipse cx="434.77" cy="261.60" rx="1.00" ry="3.01" fill="#cbbd48" opacity="0.38"/>
<ellipse cx="434.77" cy="261.60" rx="0.30" ry="1.01" fill="#7a582a" opacity="0.55"/>
<ellipse cx="438.39" cy="247.30" rx="1.07" ry="3.54" fill="#cbbd48" opacity="0.38"/>
<ellipse cx="438.39" cy="247.30" rx="0.37" ry="1.54" fill="#7a582a" opacity="0.55"/>
<ellipse cx="440.93" cy="336.59" rx="1.12" ry="3.36" fill="#cbbd48" opacity="0.38"/>
<ellipse cx="440.93" cy="336.59" rx="0.42" ry="1.36" fill="#7a582a" opacity="0.55"/>
<ellipse cx="441.69" cy="272.62" rx="1.11" ry="3.01" fill="#cbbd48" opacity="0.38"/>
<ellipse cx="441.69" cy="272.62" rx="0.41" ry="1.01" fill="#7a582a" opacity="0.55"/>
<ellipse cx="437.86" cy="323.86" rx="1.11" ry="2.87" fill="#cbbd48" opacity="0.38"/>
<ellipse cx="437.86" cy="323.86" rx="0.41" ry="0.87" fill="#7a582a" opacity="0.55"/>
<ellipse cx="433.26" cy="296.10" rx="1.01" ry="3.26" fill="#cbbd48" opacity="0.38"/>
<ellipse cx="433.26" cy="296.10" rx="0.31" ry="1.26" fill="#7a582a" opacity="0.55"/>
<ellipse cx="439.22" cy="346.15" rx="1.12" ry="3.31" fill="#cbbd48" opacity="0.38"/>
<ellipse cx="439.22" cy="346.15" rx="0.42" ry="1.31" fill="#7a582a" opacity="0.55"/>
<ellipse cx="435.03" cy="308.62" rx="1.04" ry="3.53" fill="#cbbd48" opacity="0.38"/>
<ellipse cx="435.03" cy="308.62" rx="0.34" ry="1.53" fill="#7a582a" opacity="0.55"/>
<ellipse cx="441.46" cy="304.91" rx="1.07" ry="3.49" fill="#cbbd48" opacity="0.38"/>
<ellipse cx="441.46" cy="304.91" rx="0.37" ry="1.49" fill="#7a582a" opacity="0.55"/>
<ellipse cx="436.89" cy="340.26" rx="1.15" ry="3.76" fill="#cbbd48" opacity="0.38"/>
<ellipse cx="436.89" cy="340.26" rx="0.45" ry="1.76" fill="#7a582a" opacity="0.55"/>
<ellipse cx="435.63" cy="380.86" rx="1.16" ry="3.64" fill="#cbbd48" opacity="0.38"/>
<ellipse cx="435.63" cy="380.86" rx="0.46" ry="1.64" fill="#7a582a" opacity="0.55"/>
<ellipse cx="435.23" cy="235.43" rx="1.14" ry="3.41" fill="#cbbd48" opacity="0.38"/>
<ellipse cx="435.23" cy="235.43" rx="0.44" ry="1.41" fill="#7a582a" opacity="0.55"/>
<ellipse cx="433.54" cy="275.07" rx="0.97" ry="3.59" fill="#cbbd48" opacity="0.38"/>
<ellipse cx="433.54" cy="275.07" rx="0.27" ry="1.59" fill="#7a582a" opacity="0.55"/>
<ellipse cx="434.07" cy="372.42" rx="1.19" ry="2.99" fill="#cbbd48" opacity="0.38"/>
<ellipse cx="434.07" cy="372.42" rx="0.49" ry="0.99" fill="#7a582a" opacity="0.55"/>
<ellipse cx="441.99" cy="318.21" rx="1.17" ry="2.82" fill="#cbbd48" opacity="0.38"/>
<ellipse cx="441.99" cy="318.21" rx="0.47" ry="0.82" fill="#7a582a" opacity="0.55"/>
<ellipse cx="437.90" cy="263.00" rx="1.08" ry="3.61" fill="#cbbd48" opacity="0.38"/>
<ellipse cx="437.90" cy="263.00" rx="0.38" ry="1.61" fill="#7a582a" opacity="0.55"/>
<ellipse cx="436.66" cy="346.84" rx="0.96" ry="3.49" fill="#cbbd48" opacity="0.38"/>
<ellipse cx="436.66" cy="346.84" rx="0.26" ry="1.49" fill="#7a582a" opacity="0.55"/>
<ellipse cx="440.79" cy="240.47" rx="1.05" ry="3.40" fill="#cbbd48" opacity="0.38"/>
<ellipse cx="440.79" cy="240.47" rx="0.35" ry="1.40" fill="#7a582a" opacity="0.55"/>
<ellipse cx="434.25" cy="258.54" rx="1.17" ry="3.80" fill="#cbbd48" opacity="0.38"/>
<ellipse cx="434.25" cy="258.54" rx="0.47" ry="1.80" fill="#7a582a" opacity="0.55"/>
<ellipse cx="437.90" cy="237.64" rx="1.04" ry="3.20" fill="#cbbd48" opacity="0.38"/>
<ellipse cx="437.90" cy="237.64" rx="0.34" ry="1.20" fill="#7a582a" opacity="0.55"/>
<ellipse cx="434.39" cy="319.11" rx="1.17" ry="3.51" fill="#cbbd48" opacity="0.38"/>
<ellipse cx="434.39" cy="319.11" rx="0.47" ry="1.51" fill="#7a582a" opacity="0.55"/>
<ellipse cx="438.02" cy="323.87" rx="0.99" ry="3.62" fill="#cbbd48" opacity="0.38"/>
<ellipse cx="438.02" cy="323.87" rx="0.29" ry="1.62" fill="#7a582a" opacity="0.55"/>
<ellipse cx="434.18" cy="355.52" rx="1.06" ry="2.99" fill="#cbbd48" opacity="0.38"/>
<ellipse cx="434.18" cy="355.52" rx="0.36" ry="0.99" fill="#7a582a" opacity="0.55"/>
<ellipse cx="434.48" cy="297.50" rx="1.00" ry="3.43" fill="#cbbd48" opacity="0.38"/>
<ellipse cx="434.48" cy="297.50" rx="0.30" ry="1.43" fill="#7a582a" opacity="0.55"/>
<ellipse cx="437.87" cy="317.93" rx="1.04" ry="3.18" fill="#cbbd48" opacity="0.38"/>
<ellipse cx="437.87" cy="317.93" rx="0.34" ry="1.18" fill="#7a582a" opacity="0.55"/>
<ellipse cx="433.94" cy="240.43" rx="1.19" ry="2.85" fill="#cbbd48" opacity="0.38"/>
<ellipse cx="433.94" cy="240.43" rx="0.49" ry="0.85" fill="#7a582a" opacity="0.55"/>
<ellipse cx="440.06" cy="259.33" rx="1.00" ry="3.75" fill="#cbbd48" opacity="0.38"/>
<ellipse cx="440.06" cy="259.33" rx="0.30" ry="1.75" fill="#7a582a" opacity="0.55"/>
<ellipse cx="440.19" cy="239.37" rx="1.04" ry="2.99" fill="#cbbd48" opacity="0.38"/>
<ellipse cx="440.19" cy="239.37" rx="0.34" ry="0.99" fill="#7a582a" opacity="0.55"/>
<ellipse cx="441.88" cy="257.26" rx="1.07" ry="3.58" fill="#cbbd48" opacity="0.38"/>
<ellipse cx="441.88" cy="257.26" rx="0.37" ry="1.58" fill="#7a582a" opacity="0.55"/>
<ellipse cx="433.06" cy="363.92" rx="1.10" ry="3.22" fill="#cbbd48" opacity="0.38"/>
<ellipse cx="433.06" cy="363.92" rx="0.40" ry="1.22" fill="#7a582a" opacity="0.55"/>
<ellipse cx="437.47" cy="309.49" rx="0.97" ry="3.76" fill="#cbbd48" opacity="0.38"/>
<ellipse cx="437.47" cy="309.49" rx="0.27" ry="1.76" fill="#7a582a" opacity="0.55"/>
<ellipse cx="434.45" cy="250.64" rx="1.03" ry="3.09" fill="#cbbd48" opacity="0.38"/>
<ellipse cx="434.45" cy="250.64" rx="0.33" ry="1.09" fill="#7a582a" opacity="0.55"/>
<ellipse cx="437.01" cy="329.78" rx="1.18" ry="3.42" fill="#cbbd48" opacity="0.38"/>
<ellipse cx="437.01" cy="329.78" rx="0.48" ry="1.42" fill="#7a582a" opacity="0.55"/>
<ellipse cx="440.56" cy="323.57" rx="0.99" ry="3.48" fill="#cbbd48" opacity="0.38"/>
<ellipse cx="440.56" cy="323.57" rx="0.29" ry="1.48" fill="#7a582a" opacity="0.55"/>
<ellipse cx="433.36" cy="336.32" rx="1.07" ry="3.38" fill="#cbbd48" opacity="0.38"/>
<ellipse cx="433.36" cy="336.32" rx="0.37" ry="1.38" fill="#7a582a" opacity="0.55"/>
<ellipse cx="435.00" cy="292.47" rx="1.19" ry="2.99" fill="#cbbd48" opacity="0.38"/>
<ellipse cx="435.00" cy="292.47" rx="0.49" ry="0.99" fill="#7a582a" opacity="0.55"/>
<ellipse cx="440.05" cy="361.48" rx="1.15" ry="2.82" fill="#cbbd48" opacity="0.38"/>
<ellipse cx="440.05" cy="361.48" rx="0.45" ry="0.82" fill="#7a582a" opacity="0.55"/>
<ellipse cx="434.63" cy="357.74" rx="1.13" ry="3.16" fill="#cbbd48" opacity="0.38"/>
<ellipse cx="434.63" cy="357.74" rx="0.43" ry="1.16" fill="#7a582a" opacity="0.55"/>
<ellipse cx="436.84" cy="326.17" rx="1.00" ry="3.09" fill="#cbbd48" opacity="0.38"/>
<ellipse cx="436.84" cy="326.17" rx="0.30" ry="1.09" fill="#7a582a" opacity="0.55"/>
<ellipse cx="433.75" cy="355.28" rx="1.10" ry="3.38" fill="#cbbd48" opacity="0.38"/>
<ellipse cx="433.75" cy="355.28" rx="0.40" ry="1.38" fill="#7a582a" opacity="0.55"/>
<ellipse cx="440.84" cy="295.39" rx="0.95" ry="2.83" fill="#cbbd48" opacity="0.38"/>
<ellipse cx="440.84" cy="295.39" rx="0.25" ry="0.83" fill="#7a582a" opacity="0.55"/>
<ellipse cx="438.54" cy="241.20" rx="0.98" ry="3.19" fill="#cbbd48" opacity="0.38"/>
<ellipse cx="438.54" cy="241.20" rx="0.28" ry="1.19" fill="#7a582a" opacity="0.55"/>
<ellipse cx="441.77" cy="235.18" rx="1.11" ry="3.70" fill="#cbbd48" opacity="0.38"/>
<ellipse cx="441.77" cy="235.18" rx="0.41" ry="1.70" fill="#7a582a" opacity="0.55"/>
<ellipse cx="433.47" cy="315.20" rx="1.06" ry="3.14" fill="#cbbd48" opacity="0.38"/>
<ellipse cx="433.47" cy="315.20" rx="0.36" ry="1.14" fill="#7a582a" opacity="0.55"/>
<ellipse cx="440.27" cy="238.14" rx="1.13" ry="3.16" fill="#cbbd48" opacity="0.38"/>
<ellipse cx="440.27" cy="238.14" rx="0.43" ry="1.16" fill="#7a582a" opacity="0.55"/>
<ellipse cx="434.99" cy="243.51" rx="1.07" ry="2.95" fill="#cbbd48" opacity="0.38"/>
<ellipse cx="434.99" cy="243.51" rx="0.37" ry="0.95" fill="#7a582a" opacity="0.55"/>
<ellipse cx="441.04" cy="244.71" rx="0.98" ry="2.92" fill="#cbbd48" opacity="0.38"/>
<ellipse cx="441.04" cy="244.71" rx="0.28" ry="0.92" fill="#7a582a" opacity="0.55"/>
<ellipse cx="437.50" cy="338.10" rx="1.09" ry="3.44" fill="#cbbd48" opacity="0.38"/>
<ellipse cx="437.50" cy="338.10" rx="0.39" ry="1.44" fill="#7a582a" opacity="0.55"/>
<ellipse cx="440.91" cy="345.30" rx="1.13" ry="3.43" fill="#cbbd48" opacity="0.38"/>
<ellipse cx="440.91" cy="345.30" rx="0.43" ry="1.43" fill="#7a582a" opacity="0.55"/>
<ellipse cx="439.96" cy="323.71" rx="1.00" ry="3.11" fill="#cbbd48" opacity="0.38"/>
<ellipse cx="439.96" cy="323.71" rx="0.30" ry="1.11" fill="#7a582a" opacity="0.55"/>
<ellipse cx="441.55" cy="336.00" rx="1.04" ry="3.47" fill="#cbbd48" opacity="0.38"/>
<ellipse cx="441.55" cy="336.00" rx="0.34" ry="1.47" fill="#7a582a" opacity="0.55"/>
<ellipse cx="435.90" cy="250.22" rx="0.99" ry="3.43" fill="#cbbd48" opacity="0.38"/>
<ellipse cx="435.90" cy="250.22" rx="0.29" ry="1.43" fill="#7a582a" opacity="0.55"/>
<ellipse cx="440.22" cy="237.14" rx="1.17" ry="3.63" fill="#cbbd48" opacity="0.38"/>
<ellipse cx="440.22" cy="237.14" rx="0.47" ry="1.63" fill="#7a582a" opacity="0.55"/>
<ellipse cx="434.49" cy="348.21" rx="0.99" ry="3.29" fill="#cbbd48" opacity="0.38"/>
<ellipse cx="434.49" cy="348.21" rx="0.29" ry="1.29" fill="#7a582a" opacity="0.55"/>
<ellipse cx="441.19" cy="291.02" rx="1.00" ry="3.32" fill="#cbbd48" opacity="0.38"/>
<ellipse cx="441.19" cy="291.02" rx="0.30" ry="1.32" fill="#7a582a" opacity="0.55"/>
<ellipse cx="440.43" cy="330.39" rx="1.09" ry="2.95" fill="#cbbd48" opacity="0.38"/>
<ellipse cx="440.43" cy="330.39" rx="0.39" ry="0.95" fill="#7a582a" opacity="0.55"/>
<ellipse cx="435.29" cy="328.60" rx="0.98" ry="3.26" fill="#cbbd48" opacity="0.38"/>
<ellipse cx="435.29" cy="328.60" rx="0.28" ry="1.26" fill="#7a582a" opacity="0.55"/>
<ellipse cx="437.19" cy="333.39" rx="1.05" ry="3.58" fill="#cbbd48" opacity="0.38"/>
<ellipse cx="437.19" cy="333.39" rx="0.35" ry="1.58" fill="#7a582a" opacity="0.55"/>
<ellipse cx="437.14" cy="350.26" rx="0.98" ry="3.79" fill="#cbbd48" opacity="0.38"/>
<ellipse cx="437.14" cy="350.26" rx="0.28" ry="1.79" fill="#7a582a" opacity="0.55"/>
<ellipse cx="440.71" cy="371.67" rx="1.16" ry="3.72" fill="#cbbd48" opacity="0.38"/>
<ellipse cx="440.71" cy="371.67" rx="0.46" ry="1.72" fill="#7a582a" opacity="0.55"/>
<ellipse cx="432.46" cy="340.73" rx="1.04" ry="3.26" fill="#cbbd48" opacity="0.38"/>
<ellipse cx="432.46" cy="340.73" rx="0.34" ry="1.26" fill="#7a582a" opacity="0.55"/>
<ellipse cx="438.11" cy="279.39" rx="1.05" ry="3.50" fill="#cbbd48" opacity="0.38"/>
<ellipse cx="438.11" cy="279.39" rx="0.35" ry="1.50" fill="#7a582a" opacity="0.55"/>
<ellipse cx="437.44" cy="261.69" rx="0.99" ry="3.18" fill="#cbbd48" opacity="0.38"/>
<ellipse cx="437.44" cy="261.69" rx="0.29" ry="1.18" fill="#7a582a" opacity="0.55"/>
<ellipse cx="439.52" cy="361.59" rx="1.15" ry="3.19" fill="#cbbd48" opacity="0.38"/>
<ellipse cx="439.52" cy="361.59" rx="0.45" ry="1.19" fill="#7a582a" opacity="0.55"/>
</g>
<path d="M445.20,232.00 C445.15,244.67 445.02,290.83 444.90,308.00 C444.78,325.17 444.80,322.50 444.50,335.00 C444.20,347.50 443.33,375.00 443.10,383.00 L454.80,383.00 C455.22,375.00 456.92,347.50 457.30,335.00 C457.68,322.50 457.22,325.17 457.10,308.00 C456.98,290.83 456.68,244.67 456.60,232.00 Z" fill="url(#lg11)" stroke="#6e9c3c" stroke-width="0.6" stroke-opacity="0.6"/>
<g clip-path="url(#clg11)">
<path d="M447.65,232.00 L447.53,308.00 L447.26,335.00 L445.62,383.00" fill="none" stroke="#5e8e2c" stroke-width="1.0" opacity="0.18"/>
<path d="M449.83,232.00 L449.85,308.00 L449.70,335.00 L447.85,383.00" fill="none" stroke="#5e8e2c" stroke-width="1.0" opacity="0.18"/>
<path d="M452.30,232.00 L452.49,308.00 L452.47,335.00 L450.38,383.00" fill="none" stroke="#5e8e2c" stroke-width="1.0" opacity="0.18"/>
<path d="M453.82,232.00 L454.13,308.00 L454.18,335.00 L451.95,383.00" fill="none" stroke="#5e8e2c" stroke-width="1.0" opacity="0.18"/>
<ellipse cx="447.63" cy="308.62" rx="1.21" ry="8.78" fill="#cbbd48" opacity="0.35"/>
<ellipse cx="445.38" cy="349.40" rx="0.95" ry="9.86" fill="#cbbd48" opacity="0.35"/>
<ellipse cx="446.51" cy="335.16" rx="1.48" ry="8.92" fill="#cbbd48" opacity="0.35"/>
<ellipse cx="445.68" cy="324.03" rx="1.22" ry="5.36" fill="#cbbd48" opacity="0.35"/>
<ellipse cx="446.01" cy="263.20" rx="1.18" ry="7.64" fill="#cbbd48" opacity="0.35"/>
<ellipse cx="447.08" cy="358.52" rx="1.07" ry="3.46" fill="#cbbd48" opacity="0.38"/>
<ellipse cx="447.08" cy="358.52" rx="0.37" ry="1.46" fill="#7a582a" opacity="0.55"/>
<ellipse cx="447.08" cy="301.14" rx="1.20" ry="3.64" fill="#cbbd48" opacity="0.38"/>
<ellipse cx="447.08" cy="301.14" rx="0.50" ry="1.64" fill="#7a582a" opacity="0.55"/>
<ellipse cx="445.55" cy="338.46" rx="1.02" ry="2.87" fill="#cbbd48" opacity="0.38"/>
<ellipse cx="445.55" cy="338.46" rx="0.32" ry="0.87" fill="#7a582a" opacity="0.55"/>
<ellipse cx="446.13" cy="347.18" rx="1.05" ry="3.76" fill="#cbbd48" opacity="0.38"/>
<ellipse cx="446.13" cy="347.18" rx="0.35" ry="1.76" fill="#7a582a" opacity="0.55"/>
<ellipse cx="444.86" cy="359.25" rx="1.18" ry="3.27" fill="#cbbd48" opacity="0.38"/>
<ellipse cx="444.86" cy="359.25" rx="0.48" ry="1.27" fill="#7a582a" opacity="0.55"/>
<ellipse cx="444.03" cy="379.07" rx="1.11" ry="3.58" fill="#cbbd48" opacity="0.38"/>
<ellipse cx="444.03" cy="379.07" rx="0.41" ry="1.58" fill="#7a582a" opacity="0.55"/>
<ellipse cx="446.22" cy="273.20" rx="1.19" ry="3.56" fill="#cbbd48" opacity="0.38"/>
<ellipse cx="446.22" cy="273.20" rx="0.49" ry="1.56" fill="#7a582a" opacity="0.55"/>
<ellipse cx="445.96" cy="250.58" rx="0.96" ry="3.60" fill="#cbbd48" opacity="0.38"/>
<ellipse cx="445.96" cy="250.58" rx="0.26" ry="1.60" fill="#7a582a" opacity="0.55"/>
<ellipse cx="447.94" cy="259.47" rx="1.00" ry="3.53" fill="#cbbd48" opacity="0.38"/>
<ellipse cx="447.94" cy="259.47" rx="0.30" ry="1.53" fill="#7a582a" opacity="0.55"/>
<ellipse cx="447.49" cy="252.51" rx="1.06" ry="3.01" fill="#cbbd48" opacity="0.38"/>
<ellipse cx="447.49" cy="252.51" rx="0.36" ry="1.01" fill="#7a582a" opacity="0.55"/>
<ellipse cx="451.38" cy="273.20" rx="1.03" ry="3.68" fill="#cbbd48" opacity="0.38"/>
<ellipse cx="451.38" cy="273.20" rx="0.33" ry="1.68" fill="#7a582a" opacity="0.55"/>
<ellipse cx="446.98" cy="264.40" rx="1.11" ry="2.90" fill="#cbbd48" opacity="0.38"/>
<ellipse cx="446.98" cy="264.40" rx="0.41" ry="0.90" fill="#7a582a" opacity="0.55"/>
<ellipse cx="444.25" cy="380.41" rx="1.14" ry="3.13" fill="#cbbd48" opacity="0.38"/>
<ellipse cx="444.25" cy="380.41" rx="0.44" ry="1.13" fill="#7a582a" opacity="0.55"/>
<ellipse cx="445.87" cy="277.15" rx="1.10" ry="3.04" fill="#cbbd48" opacity="0.38"/>
<ellipse cx="445.87" cy="277.15" rx="0.40" ry="1.04" fill="#7a582a" opacity="0.55"/>
<ellipse cx="446.12" cy="322.59" rx="1.19" ry="3.28" fill="#cbbd48" opacity="0.38"/>
<ellipse cx="446.12" cy="322.59" rx="0.49" ry="1.28" fill="#7a582a" opacity="0.55"/>
<ellipse cx="453.63" cy="318.61" rx="0.99" ry="3.71" fill="#cbbd48" opacity="0.38"/>
<ellipse cx="453.63" cy="318.61" rx="0.29" ry="1.71" fill="#7a582a" opacity="0.55"/>
<ellipse cx="444.97" cy="354.85" rx="1.13" ry="3.74" fill="#cbbd48" opacity="0.38"/>
<ellipse cx="444.97" cy="354.85" rx="0.43" ry="1.74" fill="#7a582a" opacity="0.55"/>
<ellipse cx="451.47" cy="262.29" rx="1.10" ry="3.22" fill="#cbbd48" opacity="0.38"/>
<ellipse cx="451.47" cy="262.29" rx="0.40" ry="1.22" fill="#7a582a" opacity="0.55"/>
<ellipse cx="447.17" cy="248.47" rx="1.01" ry="3.50" fill="#cbbd48" opacity="0.38"/>
<ellipse cx="447.17" cy="248.47" rx="0.31" ry="1.50" fill="#7a582a" opacity="0.55"/>
<ellipse cx="454.04" cy="271.29" rx="1.02" ry="2.98" fill="#cbbd48" opacity="0.38"/>
<ellipse cx="454.04" cy="271.29" rx="0.32" ry="0.98" fill="#7a582a" opacity="0.55"/>
<ellipse cx="445.49" cy="340.33" rx="1.09" ry="3.65" fill="#cbbd48" opacity="0.38"/>
<ellipse cx="445.49" cy="340.33" rx="0.39" ry="1.65" fill="#7a582a" opacity="0.55"/>
<ellipse cx="446.75" cy="324.53" rx="1.00" ry="2.82" fill="#cbbd48" opacity="0.38"/>
<ellipse cx="446.75" cy="324.53" rx="0.30" ry="0.82" fill="#7a582a" opacity="0.55"/>
<ellipse cx="447.38" cy="273.11" rx="0.99" ry="3.17" fill="#cbbd48" opacity="0.38"/>
<ellipse cx="447.38" cy="273.11" rx="0.29" ry="1.17" fill="#7a582a" opacity="0.55"/>
<ellipse cx="446.05" cy="318.25" rx="1.17" ry="3.78" fill="#cbbd48" opacity="0.38"/>
<ellipse cx="446.05" cy="318.25" rx="0.47" ry="1.78" fill="#7a582a" opacity="0.55"/>
<ellipse cx="447.86" cy="330.88" rx="0.99" ry="2.84" fill="#cbbd48" opacity="0.38"/>
<ellipse cx="447.86" cy="330.88" rx="0.29" ry="0.84" fill="#7a582a" opacity="0.55"/>
<ellipse cx="451.19" cy="235.67" rx="1.19" ry="2.82" fill="#cbbd48" opacity="0.38"/>
<ellipse cx="451.19" cy="235.67" rx="0.49" ry="0.82" fill="#7a582a" opacity="0.55"/>
<ellipse cx="448.09" cy="327.79" rx="1.03" ry="3.80" fill="#cbbd48" opacity="0.38"/>
<ellipse cx="448.09" cy="327.79" rx="0.33" ry="1.80" fill="#7a582a" opacity="0.55"/>
<ellipse cx="448.37" cy="244.21" rx="1.18" ry="3.54" fill="#cbbd48" opacity="0.38"/>
<ellipse cx="448.37" cy="244.21" rx="0.48" ry="1.54" fill="#7a582a" opacity="0.55"/>
<ellipse cx="456.20" cy="337.85" rx="1.04" ry="3.49" fill="#cbbd48" opacity="0.38"/>
<ellipse cx="456.20" cy="337.85" rx="0.34" ry="1.49" fill="#7a582a" opacity="0.55"/>
<ellipse cx="452.49" cy="367.22" rx="1.15" ry="3.66" fill="#cbbd48" opacity="0.38"/>
<ellipse cx="452.49" cy="367.22" rx="0.45" ry="1.66" fill="#7a582a" opacity="0.55"/>
<ellipse cx="447.69" cy="318.35" rx="1.10" ry="3.41" fill="#cbbd48" opacity="0.38"/>
<ellipse cx="447.69" cy="318.35" rx="0.40" ry="1.41" fill="#7a582a" opacity="0.55"/>
<ellipse cx="448.72" cy="244.95" rx="1.17" ry="3.53" fill="#cbbd48" opacity="0.38"/>
<ellipse cx="448.72" cy="244.95" rx="0.47" ry="1.53" fill="#7a582a" opacity="0.55"/>
<ellipse cx="455.66" cy="290.88" rx="1.06" ry="3.64" fill="#cbbd48" opacity="0.38"/>
<ellipse cx="455.66" cy="290.88" rx="0.36" ry="1.64" fill="#7a582a" opacity="0.55"/>
<ellipse cx="454.65" cy="245.48" rx="1.10" ry="3.28" fill="#cbbd48" opacity="0.38"/>
<ellipse cx="454.65" cy="245.48" rx="0.40" ry="1.28" fill="#7a582a" opacity="0.55"/>
<ellipse cx="448.00" cy="267.30" rx="1.10" ry="3.72" fill="#cbbd48" opacity="0.38"/>
<ellipse cx="448.00" cy="267.30" rx="0.40" ry="1.72" fill="#7a582a" opacity="0.55"/>
<ellipse cx="446.18" cy="271.12" rx="1.12" ry="3.00" fill="#cbbd48" opacity="0.38"/>
<ellipse cx="446.18" cy="271.12" rx="0.42" ry="1.00" fill="#7a582a" opacity="0.55"/>
<ellipse cx="451.16" cy="258.27" rx="1.06" ry="3.69" fill="#cbbd48" opacity="0.38"/>
<ellipse cx="451.16" cy="258.27" rx="0.36" ry="1.69" fill="#7a582a" opacity="0.55"/>
<ellipse cx="447.56" cy="281.72" rx="1.06" ry="3.61" fill="#cbbd48" opacity="0.38"/>
<ellipse cx="447.56" cy="281.72" rx="0.36" ry="1.61" fill="#7a582a" opacity="0.55"/>
<ellipse cx="452.35" cy="369.22" rx="1.10" ry="3.12" fill="#cbbd48" opacity="0.38"/>
<ellipse cx="452.35" cy="369.22" rx="0.40" ry="1.12" fill="#7a582a" opacity="0.55"/>
<ellipse cx="448.49" cy="253.29" rx="1.16" ry="3.51" fill="#cbbd48" opacity="0.38"/>
<ellipse cx="448.49" cy="253.29" rx="0.46" ry="1.51" fill="#7a582a" opacity="0.55"/>
<ellipse cx="444.31" cy="374.55" rx="1.06" ry="3.08" fill="#cbbd48" opacity="0.38"/>
<ellipse cx="444.31" cy="374.55" rx="0.36" ry="1.08" fill="#7a582a" opacity="0.55"/>
<ellipse cx="446.66" cy="264.90" rx="1.07" ry="3.12" fill="#cbbd48" opacity="0.38"/>
<ellipse cx="446.66" cy="264.90" rx="0.37" ry="1.12" fill="#7a582a" opacity="0.55"/>
<ellipse cx="449.90" cy="358.03" rx="0.97" ry="2.83" fill="#cbbd48" opacity="0.38"/>
<ellipse cx="449.90" cy="358.03" rx="0.27" ry="0.83" fill="#7a582a" opacity="0.55"/>
<ellipse cx="445.43" cy="363.05" rx="1.09" ry="3.11" fill="#cbbd48" opacity="0.38"/>
<ellipse cx="445.43" cy="363.05" rx="0.39" ry="1.11" fill="#7a582a" opacity="0.55"/>
<ellipse cx="445.02" cy="350.94" rx="1.06" ry="2.82" fill="#cbbd48" opacity="0.38"/>
<ellipse cx="445.02" cy="350.94" rx="0.36" ry="0.82" fill="#7a582a" opacity="0.55"/>
</g>
<path d="M466.20,232.00 C466.02,244.67 465.50,282.83 465.10,308.00 C464.70,333.17 464.02,370.50 463.80,383.00 L477.40,383.00 C477.40,370.50 477.05,333.17 477.40,308.00 C477.75,282.83 479.15,244.67 479.50,232.00 Z" fill="url(#lg12)" stroke="#6e9c3c" stroke-width="0.6" stroke-opacity="0.6"/>
<g clip-path="url(#clg12)">
<path d="M469.09,232.00 L467.77,308.00 L466.76,383.00" fill="none" stroke="#5e8e2c" stroke-width="1.0" opacity="0.18"/>
<path d="M471.73,232.00 L470.21,308.00 L469.45,383.00" fill="none" stroke="#5e8e2c" stroke-width="1.0" opacity="0.18"/>
<path d="M474.14,232.00 L472.44,308.00 L471.91,383.00" fill="none" stroke="#5e8e2c" stroke-width="1.0" opacity="0.18"/>
<path d="M475.83,232.00 L474.01,308.00 L473.65,383.00" fill="none" stroke="#5e8e2c" stroke-width="1.0" opacity="0.18"/>
<ellipse cx="469.20" cy="237.55" rx="1.39" ry="9.14" fill="#cbbd48" opacity="0.35"/>
<ellipse cx="476.06" cy="322.01" rx="0.99" ry="7.64" fill="#cbbd48" opacity="0.35"/>
<ellipse cx="471.70" cy="257.18" rx="1.15" ry="2.87" fill="#cbbd48" opacity="0.38"/>
<ellipse cx="471.70" cy="257.18" rx="0.45" ry="0.87" fill="#7a582a" opacity="0.55"/>
<ellipse cx="467.69" cy="335.35" rx="1.16" ry="2.82" fill="#cbbd48" opacity="0.38"/>
<ellipse cx="467.69" cy="335.35" rx="0.46" ry="0.82" fill="#7a582a" opacity="0.55"/>
<ellipse cx="472.65" cy="242.06" rx="0.97" ry="3.79" fill="#cbbd48" opacity="0.38"/>
<ellipse cx="472.65" cy="242.06" rx="0.27" ry="1.79" fill="#7a582a" opacity="0.55"/>
<ellipse cx="465.46" cy="374.06" rx="0.98" ry="3.11" fill="#cbbd48" opacity="0.38"/>
<ellipse cx="465.46" cy="374.06" rx="0.28" ry="1.11" fill="#7a582a" opacity="0.55"/>
<ellipse cx="466.58" cy="325.60" rx="0.96" ry="2.97" fill="#cbbd48" opacity="0.38"/>
<ellipse cx="466.58" cy="325.60" rx="0.26" ry="0.97" fill="#7a582a" opacity="0.55"/>
<ellipse cx="467.46" cy="354.54" rx="1.10" ry="3.28" fill="#cbbd48" opacity="0.38"/>
<ellipse cx="467.46" cy="354.54" rx="0.40" ry="1.28" fill="#7a582a" opacity="0.55"/>
<ellipse cx="467.18" cy="290.30" rx="1.19" ry="3.78" fill="#cbbd48" opacity="0.38"/>
<ellipse cx="467.18" cy="290.30" rx="0.49" ry="1.78" fill="#7a582a" opacity="0.55"/>
<ellipse cx="467.67" cy="331.88" rx="1.12" ry="3.47" fill="#cbbd48" opacity="0.38"/>
<ellipse cx="467.67" cy="331.88" rx="0.42" ry="1.47" fill="#7a582a" opacity="0.55"/>
<ellipse cx="467.32" cy="249.96" rx="1.08" ry="3.61" fill="#cbbd48" opacity="0.38"/>
<ellipse cx="467.32" cy="249.96" rx="0.38" ry="1.61" fill="#7a582a" opacity="0.55"/>
<ellipse cx="467.04" cy="307.50" rx="1.06" ry="3.32" fill="#cbbd48" opacity="0.38"/>
<ellipse cx="467.04" cy="307.50" rx="0.36" ry="1.32" fill="#7a582a" opacity="0.55"/>
<ellipse cx="468.76" cy="266.10" rx="1.14" ry="2.90" fill="#cbbd48" opacity="0.38"/>
<ellipse cx="468.76" cy="266.10" rx="0.44" ry="0.90" fill="#7a582a" opacity="0.55"/>
<ellipse cx="466.74" cy="314.95" rx="0.96" ry="3.08" fill="#cbbd48" opacity="0.38"/>
<ellipse cx="466.74" cy="314.95" rx="0.26" ry="1.08" fill="#7a582a" opacity="0.55"/>
<ellipse cx="475.91" cy="284.28" rx="1.06" ry="3.01" fill="#cbbd48" opacity="0.38"/>
<ellipse cx="475.91" cy="284.28" rx="0.36" ry="1.01" fill="#7a582a" opacity="0.55"/>
<ellipse cx="477.43" cy="275.00" rx="1.07" ry="3.76" fill="#cbbd48" opacity="0.38"/>
<ellipse cx="477.43" cy="275.00" rx="0.37" ry="1.76" fill="#7a582a" opacity="0.55"/>
<ellipse cx="472.11" cy="257.97" rx="1.00" ry="3.55" fill="#cbbd48" opacity="0.38"/>
<ellipse cx="472.11" cy="257.97" rx="0.30" ry="1.55" fill="#7a582a" opacity="0.55"/>
<ellipse cx="465.32" cy="368.89" rx="1.14" ry="3.14" fill="#cbbd48" opacity="0.38"/>
<ellipse cx="465.32" cy="368.89" rx="0.44" ry="1.14" fill="#7a582a" opacity="0.55"/>
<ellipse cx="466.56" cy="269.00" rx="1.10" ry="3.78" fill="#cbbd48" opacity="0.38"/>
<ellipse cx="466.56" cy="269.00" rx="0.40" ry="1.78" fill="#7a582a" opacity="0.55"/>
<ellipse cx="475.10" cy="381.78" rx="1.03" ry="3.59" fill="#cbbd48" opacity="0.38"/>
<ellipse cx="475.10" cy="381.78" rx="0.33" ry="1.59" fill="#7a582a" opacity="0.55"/>
</g>
<path d="M482.40,232.00 C482.17,244.67 481.38,282.83 481.00,308.00 C480.62,333.17 480.25,370.50 480.10,383.00 L490.40,383.00 C490.70,370.50 491.82,333.17 492.20,308.00 C492.58,282.83 492.62,244.67 492.70,232.00 Z" fill="url(#lg13)" stroke="#6e9c3c" stroke-width="0.6" stroke-opacity="0.6"/>
<g clip-path="url(#clg13)">
<path d="M484.42,232.00 L483.19,308.00 L482.12,383.00" fill="none" stroke="#5e8e2c" stroke-width="1.0" opacity="0.18"/>
<path d="M486.71,232.00 L485.69,308.00 L484.41,383.00" fill="none" stroke="#5e8e2c" stroke-width="1.0" opacity="0.18"/>
<path d="M488.56,232.00 L487.70,308.00 L486.26,383.00" fill="none" stroke="#5e8e2c" stroke-width="1.0" opacity="0.18"/>
<path d="M490.59,232.00 L489.90,308.00 L488.29,383.00" fill="none" stroke="#5e8e2c" stroke-width="1.0" opacity="0.18"/>
<ellipse cx="482.76" cy="262.56" rx="1.04" ry="9.40" fill="#cbbd48" opacity="0.35"/>
<ellipse cx="491.00" cy="254.62" rx="1.08" ry="7.59" fill="#cbbd48" opacity="0.35"/>
<ellipse cx="489.29" cy="355.78" rx="1.07" ry="5.88" fill="#cbbd48" opacity="0.35"/>
<ellipse cx="485.96" cy="360.59" rx="1.40" ry="9.47" fill="#cbbd48" opacity="0.35"/>
<ellipse cx="487.82" cy="371.75" rx="1.41" ry="7.92" fill="#cbbd48" opacity="0.35"/>
<ellipse cx="489.97" cy="343.97" rx="1.12" ry="7.58" fill="#cbbd48" opacity="0.35"/>
<ellipse cx="483.12" cy="280.87" rx="1.38" ry="10.91" fill="#cbbd48" opacity="0.35"/>
<ellipse cx="490.50" cy="334.80" rx="0.98" ry="9.06" fill="#cbbd48" opacity="0.35"/>
<ellipse cx="482.19" cy="299.41" rx="1.21" ry="6.52" fill="#cbbd48" opacity="0.35"/>
<ellipse cx="490.76" cy="301.46" rx="0.98" ry="3.29" fill="#cbbd48" opacity="0.38"/>
<ellipse cx="490.76" cy="301.46" rx="0.28" ry="1.29" fill="#7a582a" opacity="0.55"/>
<ellipse cx="482.59" cy="268.08" rx="1.04" ry="2.87" fill="#cbbd48" opacity="0.38"/>
<ellipse cx="482.59" cy="268.08" rx="0.34" ry="0.87" fill="#7a582a" opacity="0.55"/>
<ellipse cx="486.05" cy="330.03" rx="1.13" ry="3.73" fill="#cbbd48" opacity="0.38"/>
<ellipse cx="486.05" cy="330.03" rx="0.43" ry="1.73" fill="#7a582a" opacity="0.55"/>
<ellipse cx="483.94" cy="239.44" rx="1.16" ry="3.44" fill="#cbbd48" opacity="0.38"/>
<ellipse cx="483.94" cy="239.44" rx="0.46" ry="1.44" fill="#7a582a" opacity="0.55"/>
<ellipse cx="491.78" cy="256.80" rx="1.17" ry="3.60" fill="#cbbd48" opacity="0.38"/>
<ellipse cx="491.78" cy="256.80" rx="0.47" ry="1.60" fill="#7a582a" opacity="0.55"/>
<ellipse cx="486.98" cy="263.26" rx="1.13" ry="2.94" fill="#cbbd48" opacity="0.38"/>
<ellipse cx="486.98" cy="263.26" rx="0.43" ry="0.94" fill="#7a582a" opacity="0.55"/>
<ellipse cx="489.59" cy="377.72" rx="1.00" ry="3.42" fill="#cbbd48" opacity="0.38"/>
<ellipse cx="489.59" cy="377.72" rx="0.30" ry="1.42" fill="#7a582a" opacity="0.55"/>
<ellipse cx="490.40" cy="319.55" rx="1.13" ry="3.14" fill="#cbbd48" opacity="0.38"/>
<ellipse cx="490.40" cy="319.55" rx="0.43" ry="1.14" fill="#7a582a" opacity="0.55"/>
<ellipse cx="483.13" cy="277.00" rx="0.98" ry="3.03" fill="#cbbd48" opacity="0.38"/>
<ellipse cx="483.13" cy="277.00" rx="0.28" ry="1.03" fill="#7a582a" opacity="0.55"/>
<ellipse cx="490.10" cy="243.30" rx="1.09" ry="2.84" fill="#cbbd48" opacity="0.38"/>
<ellipse cx="490.10" cy="243.30" rx="0.39" ry="0.84" fill="#7a582a" opacity="0.55"/>
<ellipse cx="483.38" cy="298.50" rx="0.95" ry="3.80" fill="#cbbd48" opacity="0.38"/>
<ellipse cx="483.38" cy="298.50" rx="0.25" ry="1.80" fill="#7a582a" opacity="0.55"/>
<ellipse cx="484.36" cy="251.11" rx="1.10" ry="2.88" fill="#cbbd48" opacity="0.38"/>
<ellipse cx="484.36" cy="251.11" rx="0.40" ry="0.88" fill="#7a582a" opacity="0.55"/>
<ellipse cx="484.35" cy="303.01" rx="0.95" ry="3.13" fill="#cbbd48" opacity="0.38"/>
<ellipse cx="484.35" cy="303.01" rx="0.25" ry="1.13" fill="#7a582a" opacity="0.55"/>
<ellipse cx="486.64" cy="306.99" rx="1.07" ry="3.47" fill="#cbbd48" opacity="0.38"/>
<ellipse cx="486.64" cy="306.99" rx="0.37" ry="1.47" fill="#7a582a" opacity="0.55"/>
<ellipse cx="482.87" cy="277.19" rx="1.18" ry="3.54" fill="#cbbd48" opacity="0.38"/>
<ellipse cx="482.87" cy="277.19" rx="0.48" ry="1.54" fill="#7a582a" opacity="0.55"/>
<ellipse cx="490.24" cy="271.49" rx="1.01" ry="3.39" fill="#cbbd48" opacity="0.38"/>
<ellipse cx="490.24" cy="271.49" rx="0.31" ry="1.39" fill="#7a582a" opacity="0.55"/>
<ellipse cx="483.84" cy="285.98" rx="1.00" ry="3.15" fill="#cbbd48" opacity="0.38"/>
<ellipse cx="483.84" cy="285.98" rx="0.30" ry="1.15" fill="#7a582a" opacity="0.55"/>
<ellipse cx="484.29" cy="238.68" rx="1.14" ry="3.40" fill="#cbbd48" opacity="0.38"/>
<ellipse cx="484.29" cy="238.68" rx="0.44" ry="1.40" fill="#7a582a" opacity="0.55"/>
<ellipse cx="489.68" cy="233.61" rx="1.07" ry="3.35" fill="#cbbd48" opacity="0.38"/>
<ellipse cx="489.68" cy="233.61" rx="0.37" ry="1.35" fill="#7a582a" opacity="0.55"/>
<ellipse cx="484.10" cy="282.60" rx="0.98" ry="3.66" fill="#cbbd48" opacity="0.38"/>
<ellipse cx="484.10" cy="282.60" rx="0.28" ry="1.66" fill="#7a582a" opacity="0.55"/>
<ellipse cx="486.93" cy="249.68" rx="1.03" ry="3.19" fill="#cbbd48" opacity="0.38"/>
<ellipse cx="486.93" cy="249.68" rx="0.33" ry="1.19" fill="#7a582a" opacity="0.55"/>
<ellipse cx="483.34" cy="237.97" rx="1.06" ry="3.68" fill="#cbbd48" opacity="0.38"/>
<ellipse cx="483.34" cy="237.97" rx="0.36" ry="1.68" fill="#7a582a" opacity="0.55"/>
<ellipse cx="481.42" cy="380.49" rx="0.98" ry="3.60" fill="#cbbd48" opacity="0.38"/>
<ellipse cx="481.42" cy="380.49" rx="0.28" ry="1.60" fill="#7a582a" opacity="0.55"/>
<ellipse cx="487.00" cy="281.08" rx="0.98" ry="2.80" fill="#cbbd48" opacity="0.38"/>
<ellipse cx="487.00" cy="281.08" rx="0.28" ry="0.80" fill="#7a582a" opacity="0.55"/>
<ellipse cx="486.59" cy="269.97" rx="1.07" ry="3.17" fill="#cbbd48" opacity="0.38"/>
<ellipse cx="486.59" cy="269.97" rx="0.37" ry="1.17" fill="#7a582a" opacity="0.55"/>
<ellipse cx="486.49" cy="284.40" rx="1.13" ry="3.47" fill="#cbbd48" opacity="0.38"/>
<ellipse cx="486.49" cy="284.40" rx="0.43" ry="1.47" fill="#7a582a" opacity="0.55"/>
<ellipse cx="489.99" cy="372.37" rx="1.06" ry="3.37" fill="#cbbd48" opacity="0.38"/>
<ellipse cx="489.99" cy="372.37" rx="0.36" ry="1.37" fill="#7a582a" opacity="0.55"/>
<ellipse cx="486.84" cy="325.47" rx="0.98" ry="2.94" fill="#cbbd48" opacity="0.38"/>
<ellipse cx="486.84" cy="325.47" rx="0.28" ry="0.94" fill="#7a582a" opacity="0.55"/>
<ellipse cx="486.57" cy="312.54" rx="1.02" ry="3.76" fill="#cbbd48" opacity="0.38"/>
<ellipse cx="486.57" cy="312.54" rx="0.32" ry="1.76" fill="#7a582a" opacity="0.55"/>
<ellipse cx="482.24" cy="277.38" rx="0.96" ry="3.53" fill="#cbbd48" opacity="0.38"/>
<ellipse cx="482.24" cy="277.38" rx="0.26" ry="1.53" fill="#7a582a" opacity="0.55"/>
<ellipse cx="490.48" cy="248.97" rx="1.20" ry="3.61" fill="#cbbd48" opacity="0.38"/>
<ellipse cx="490.48" cy="248.97" rx="0.50" ry="1.61" fill="#7a582a" opacity="0.55"/>
<ellipse cx="491.42" cy="296.23" rx="1.13" ry="3.09" fill="#cbbd48" opacity="0.38"/>
<ellipse cx="491.42" cy="296.23" rx="0.43" ry="1.09" fill="#7a582a" opacity="0.55"/>
<ellipse cx="481.56" cy="346.54" rx="1.20" ry="3.27" fill="#cbbd48" opacity="0.38"/>
<ellipse cx="481.56" cy="346.54" rx="0.50" ry="1.27" fill="#7a582a" opacity="0.55"/>
<ellipse cx="489.67" cy="272.90" rx="0.95" ry="2.83" fill="#cbbd48" opacity="0.38"/>
<ellipse cx="489.67" cy="272.90" rx="0.25" ry="0.83" fill="#7a582a" opacity="0.55"/>
<ellipse cx="484.98" cy="271.59" rx="1.01" ry="3.65" fill="#cbbd48" opacity="0.38"/>
<ellipse cx="484.98" cy="271.59" rx="0.31" ry="1.65" fill="#7a582a" opacity="0.55"/>
<ellipse cx="490.37" cy="360.18" rx="1.14" ry="3.28" fill="#cbbd48" opacity="0.38"/>
<ellipse cx="490.37" cy="360.18" rx="0.44" ry="1.28" fill="#7a582a" opacity="0.55"/>
<ellipse cx="491.71" cy="271.96" rx="1.08" ry="2.99" fill="#cbbd48" opacity="0.38"/>
<ellipse cx="491.71" cy="271.96" rx="0.38" ry="0.99" fill="#7a582a" opacity="0.55"/>
<ellipse cx="490.58" cy="288.96" rx="1.09" ry="2.83" fill="#cbbd48" opacity="0.38"/>
<ellipse cx="490.58" cy="288.96" rx="0.39" ry="0.83" fill="#7a582a" opacity="0.55"/>
<ellipse cx="481.15" cy="355.36" rx="1.10" ry="3.11" fill="#cbbd48" opacity="0.38"/>
<ellipse cx="481.15" cy="355.36" rx="0.40" ry="1.11" fill="#7a582a" opacity="0.55"/>
<ellipse cx="489.60" cy="364.89" rx="1.16" ry="3.01" fill="#cbbd48" opacity="0.38"/>
<ellipse cx="489.60" cy="364.89" rx="0.46" ry="1.01" fill="#7a582a" opacity="0.55"/>
<ellipse cx="488.54" cy="344.06" rx="1.19" ry="2.82" fill="#cbbd48" opacity="0.38"/>
<ellipse cx="488.54" cy="344.06" rx="0.49" ry="0.82" fill="#7a582a" opacity="0.55"/>
<ellipse cx="482.10" cy="361.48" rx="0.99" ry="2.85" fill="#cbbd48" opacity="0.38"/>
<ellipse cx="482.10" cy="361.48" rx="0.29" ry="0.85" fill="#7a582a" opacity="0.55"/>
<ellipse cx="486.27" cy="307.60" rx="1.07" ry="3.41" fill="#cbbd48" opacity="0.38"/>
<ellipse cx="486.27" cy="307.60" rx="0.37" ry="1.41" fill="#7a582a" opacity="0.55"/>
<ellipse cx="490.48" cy="269.31" rx="1.06" ry="3.56" fill="#cbbd48" opacity="0.38"/>
<ellipse cx="490.48" cy="269.31" rx="0.36" ry="1.56" fill="#7a582a" opacity="0.55"/>
<ellipse cx="482.13" cy="283.65" rx="1.13" ry="3.23" fill="#cbbd48" opacity="0.38"/>
<ellipse cx="482.13" cy="283.65" rx="0.43" ry="1.23" fill="#7a582a" opacity="0.55"/>
<ellipse cx="487.56" cy="369.20" rx="1.18" ry="3.73" fill="#cbbd48" opacity="0.38"/>
<ellipse cx="487.56" cy="369.20" rx="0.48" ry="1.73" fill="#7a582a" opacity="0.55"/>
<ellipse cx="486.01" cy="354.73" rx="1.13" ry="3.47" fill="#cbbd48" opacity="0.38"/>
<ellipse cx="486.01" cy="354.73" rx="0.43" ry="1.47" fill="#7a582a" opacity="0.55"/>
<ellipse cx="483.09" cy="321.02" rx="1.13" ry="3.40" fill="#cbbd48" opacity="0.38"/>
<ellipse cx="483.09" cy="321.02" rx="0.43" ry="1.40" fill="#7a582a" opacity="0.55"/>
<ellipse cx="490.19" cy="241.41" rx="1.08" ry="3.58" fill="#cbbd48" opacity="0.38"/>
<ellipse cx="490.19" cy="241.41" rx="0.38" ry="1.58" fill="#7a582a" opacity="0.55"/>
<ellipse cx="483.41" cy="363.57" rx="1.07" ry="3.37" fill="#cbbd48" opacity="0.38"/>
<ellipse cx="483.41" cy="363.57" rx="0.37" ry="1.37" fill="#7a582a" opacity="0.55"/>
<ellipse cx="486.69" cy="294.67" rx="1.19" ry="3.14" fill="#cbbd48" opacity="0.38"/>
<ellipse cx="486.69" cy="294.67" rx="0.49" ry="1.14" fill="#7a582a" opacity="0.55"/>
<ellipse cx="486.40" cy="333.17" rx="1.04" ry="2.88" fill="#cbbd48" opacity="0.38"/>
<ellipse cx="486.40" cy="333.17" rx="0.34" ry="0.88" fill="#7a582a" opacity="0.55"/>
<ellipse cx="491.33" cy="304.28" rx="1.15" ry="3.79" fill="#cbbd48" opacity="0.38"/>
<ellipse cx="491.33" cy="304.28" rx="0.45" ry="1.79" fill="#7a582a" opacity="0.55"/>
<ellipse cx="491.01" cy="299.71" rx="1.14" ry="2.88" fill="#cbbd48" opacity="0.38"/>
<ellipse cx="491.01" cy="299.71" rx="0.44" ry="0.88" fill="#7a582a" opacity="0.55"/>
<ellipse cx="482.83" cy="265.11" rx="1.02" ry="3.77" fill="#cbbd48" opacity="0.38"/>
<ellipse cx="482.83" cy="265.11" rx="0.32" ry="1.77" fill="#7a582a" opacity="0.55"/>
<ellipse cx="486.86" cy="263.95" rx="1.00" ry="3.77" fill="#cbbd48" opacity="0.38"/>
<ellipse cx="486.86" cy="263.95" rx="0.30" ry="1.77" fill="#7a582a" opacity="0.55"/>
<ellipse cx="482.87" cy="246.28" rx="0.97" ry="3.19" fill="#cbbd48" opacity="0.38"/>
<ellipse cx="482.87" cy="246.28" rx="0.27" ry="1.19" fill="#7a582a" opacity="0.55"/>
<ellipse cx="482.40" cy="264.65" rx="1.12" ry="2.85" fill="#cbbd48" opacity="0.38"/>
<ellipse cx="482.40" cy="264.65" rx="0.42" ry="0.85" fill="#7a582a" opacity="0.55"/>
<ellipse cx="491.72" cy="267.48" rx="1.11" ry="3.51" fill="#cbbd48" opacity="0.38"/>
<ellipse cx="491.72" cy="267.48" rx="0.41" ry="1.51" fill="#7a582a" opacity="0.55"/>
<ellipse cx="489.28" cy="337.38" rx="0.99" ry="2.85" fill="#cbbd48" opacity="0.38"/>
<ellipse cx="489.28" cy="337.38" rx="0.29" ry="0.85" fill="#7a582a" opacity="0.55"/>
<ellipse cx="490.49" cy="325.52" rx="1.15" ry="2.97" fill="#cbbd48" opacity="0.38"/>
<ellipse cx="490.49" cy="325.52" rx="0.45" ry="0.97" fill="#7a582a" opacity="0.55"/>
<ellipse cx="490.06" cy="338.21" rx="1.01" ry="3.08" fill="#cbbd48" opacity="0.38"/>
<ellipse cx="490.06" cy="338.21" rx="0.31" ry="1.08" fill="#7a582a" opacity="0.55"/>
<ellipse cx="491.17" cy="319.26" rx="1.02" ry="3.52" fill="#cbbd48" opacity="0.38"/>
<ellipse cx="491.17" cy="319.26" rx="0.32" ry="1.52" fill="#7a582a" opacity="0.55"/>
<ellipse cx="489.50" cy="247.45" rx="1.16" ry="3.77" fill="#cbbd48" opacity="0.38"/>
<ellipse cx="489.50" cy="247.45" rx="0.46" ry="1.77" fill="#7a582a" opacity="0.55"/>
<ellipse cx="486.67" cy="270.90" rx="1.03" ry="2.90" fill="#cbbd48" opacity="0.38"/>
<ellipse cx="486.67" cy="270.90" rx="0.33" ry="0.90" fill="#7a582a" opacity="0.55"/>
<ellipse cx="482.79" cy="298.79" rx="1.09" ry="3.22" fill="#cbbd48" opacity="0.38"/>
<ellipse cx="482.79" cy="298.79" rx="0.39" ry="1.22" fill="#7a582a" opacity="0.55"/>
<ellipse cx="481.69" cy="338.77" rx="1.04" ry="2.80" fill="#cbbd48" opacity="0.38"/>
<ellipse cx="481.69" cy="338.77" rx="0.34" ry="0.80" fill="#7a582a" opacity="0.55"/>
<ellipse cx="481.02" cy="365.15" rx="1.15" ry="3.62" fill="#cbbd48" opacity="0.38"/>
<ellipse cx="481.02" cy="365.15" rx="0.45" ry="1.62" fill="#7a582a" opacity="0.55"/>
<ellipse cx="490.42" cy="299.68" rx="0.95" ry="3.32" fill="#cbbd48" opacity="0.38"/>
<ellipse cx="490.42" cy="299.68" rx="0.25" ry="1.32" fill="#7a582a" opacity="0.55"/>
<ellipse cx="483.57" cy="269.33" rx="0.95" ry="3.16" fill="#cbbd48" opacity="0.38"/>
<ellipse cx="483.57" cy="269.33" rx="0.25" ry="1.16" fill="#7a582a" opacity="0.55"/>
<ellipse cx="488.07" cy="344.98" rx="1.14" ry="3.36" fill="#cbbd48" opacity="0.38"/>
<ellipse cx="488.07" cy="344.98" rx="0.44" ry="1.36" fill="#7a582a" opacity="0.55"/>
<ellipse cx="486.68" cy="326.86" rx="1.10" ry="3.57" fill="#cbbd48" opacity="0.38"/>
<ellipse cx="486.68" cy="326.86" rx="0.40" ry="1.57" fill="#7a582a" opacity="0.55"/>
<ellipse cx="491.31" cy="306.28" rx="1.10" ry="3.18" fill="#cbbd48" opacity="0.38"/>
<ellipse cx="491.31" cy="306.28" rx="0.40" ry="1.18" fill="#7a582a" opacity="0.55"/>
<ellipse cx="489.86" cy="236.04" rx="1.06" ry="3.09" fill="#cbbd48" opacity="0.38"/>
<ellipse cx="489.86" cy="236.04" rx="0.36" ry="1.09" fill="#7a582a" opacity="0.55"/>
<ellipse cx="491.15" cy="315.75" rx="1.10" ry="3.36" fill="#cbbd48" opacity="0.38"/>
<ellipse cx="491.15" cy="315.75" rx="0.40" ry="1.36" fill="#7a582a" opacity="0.55"/>
</g>
<path d="M503.50,232.00 C503.30,244.67 503.10,282.83 502.30,308.00 C501.50,333.17 499.30,370.50 498.70,383.00 L510.20,383.00 C510.68,370.50 512.55,333.17 513.10,308.00 C513.65,282.83 513.43,244.67 513.50,232.00 Z" fill="url(#lg14)" stroke="#6e9c3c" stroke-width="0.6" stroke-opacity="0.6"/>
<g clip-path="url(#clg14)">
<path d="M505.31,232.00 L504.25,308.00 L500.78,383.00" fill="none" stroke="#5e8e2c" stroke-width="1.0" opacity="0.18"/>
<path d="M507.70,232.00 L506.84,308.00 L503.53,383.00" fill="none" stroke="#5e8e2c" stroke-width="1.0" opacity="0.18"/>
<path d="M509.45,232.00 L508.73,308.00 L505.54,383.00" fill="none" stroke="#5e8e2c" stroke-width="1.0" opacity="0.18"/>
<path d="M511.54,232.00 L510.98,308.00 L507.95,383.00" fill="none" stroke="#5e8e2c" stroke-width="1.0" opacity="0.18"/>
<ellipse cx="504.43" cy="273.40" rx="1.11" ry="3.10" fill="#cbbd48" opacity="0.38"/>
<ellipse cx="504.43" cy="273.40" rx="0.41" ry="1.10" fill="#7a582a" opacity="0.55"/>
<ellipse cx="504.16" cy="334.95" rx="0.98" ry="3.02" fill="#cbbd48" opacity="0.38"/>
<ellipse cx="504.16" cy="334.95" rx="0.28" ry="1.02" fill="#7a582a" opacity="0.55"/>
<ellipse cx="501.96" cy="367.32" rx="1.15" ry="3.43" fill="#cbbd48" opacity="0.38"/>
<ellipse cx="501.96" cy="367.32" rx="0.45" ry="1.43" fill="#7a582a" opacity="0.55"/>
<ellipse cx="512.38" cy="255.31" rx="0.99" ry="3.45" fill="#cbbd48" opacity="0.38"/>
<ellipse cx="512.38" cy="255.31" rx="0.29" ry="1.45" fill="#7a582a" opacity="0.55"/>
<ellipse cx="505.16" cy="251.33" rx="1.00" ry="3.78" fill="#cbbd48" opacity="0.38"/>
<ellipse cx="505.16" cy="251.33" rx="0.30" ry="1.78" fill="#7a582a" opacity="0.55"/>
<ellipse cx="507.77" cy="293.15" rx="1.10" ry="3.67" fill="#cbbd48" opacity="0.38"/>
<ellipse cx="507.77" cy="293.15" rx="0.40" ry="1.67" fill="#7a582a" opacity="0.55"/>
<ellipse cx="502.44" cy="335.35" rx="1.11" ry="2.98" fill="#cbbd48" opacity="0.38"/>
<ellipse cx="502.44" cy="335.35" rx="0.41" ry="0.98" fill="#7a582a" opacity="0.55"/>
</g>
<path d="M514.70,232.00 C514.65,244.67 514.97,282.83 514.40,308.00 C513.83,333.17 511.82,370.50 511.30,383.00 L522.90,383.00 C523.13,370.50 524.00,333.17 524.30,308.00 C524.60,282.83 524.63,244.67 524.70,232.00 Z" fill="url(#lg15)" stroke="#6e9c3c" stroke-width="0.6" stroke-opacity="0.6"/>
<g clip-path="url(#clg15)">
<path d="M517.37,232.00 L517.04,308.00 L514.39,383.00" fill="none" stroke="#5e8e2c" stroke-width="1.0" opacity="0.18"/>
<path d="M518.21,232.00 L517.88,308.00 L515.37,383.00" fill="none" stroke="#5e8e2c" stroke-width="1.0" opacity="0.18"/>
<path d="M520.74,232.00 L520.38,308.00 L518.30,383.00" fill="none" stroke="#5e8e2c" stroke-width="1.0" opacity="0.18"/>
<path d="M521.96,232.00 L521.59,308.00 L519.72,383.00" fill="none" stroke="#5e8e2c" stroke-width="1.0" opacity="0.18"/>
<ellipse cx="513.30" cy="377.05" rx="1.31" ry="10.14" fill="#cbbd48" opacity="0.35"/>
<ellipse cx="512.50" cy="381.97" rx="1.13" ry="3.08" fill="#cbbd48" opacity="0.38"/>
<ellipse cx="512.50" cy="381.97" rx="0.43" ry="1.08" fill="#7a582a" opacity="0.55"/>
<ellipse cx="516.24" cy="272.23" rx="1.17" ry="3.60" fill="#cbbd48" opacity="0.38"/>
<ellipse cx="516.24" cy="272.23" rx="0.47" ry="1.60" fill="#7a582a" opacity="0.55"/>
<ellipse cx="519.56" cy="266.29" rx="1.01" ry="3.26" fill="#cbbd48" opacity="0.38"/>
<ellipse cx="519.56" cy="266.29" rx="0.31" ry="1.26" fill="#7a582a" opacity="0.55"/>
<ellipse cx="515.73" cy="295.56" rx="1.04" ry="3.37" fill="#cbbd48" opacity="0.38"/>
<ellipse cx="515.73" cy="295.56" rx="0.34" ry="1.37" fill="#7a582a" opacity="0.55"/>
<ellipse cx="521.62" cy="371.60" rx="1.17" ry="3.80" fill="#cbbd48" opacity="0.38"/>
<ellipse cx="521.62" cy="371.60" rx="0.47" ry="1.80" fill="#7a582a" opacity="0.55"/>
<ellipse cx="518.69" cy="306.05" rx="0.99" ry="2.97" fill="#cbbd48" opacity="0.38"/>
<ellipse cx="518.69" cy="306.05" rx="0.29" ry="0.97" fill="#7a582a" opacity="0.55"/>
<ellipse cx="522.03" cy="372.77" rx="1.02" ry="3.29" fill="#cbbd48" opacity="0.38"/>
<ellipse cx="522.03" cy="372.77" rx="0.32" ry="1.29" fill="#7a582a" opacity="0.55"/>
<ellipse cx="512.84" cy="365.17" rx="0.96" ry="3.27" fill="#cbbd48" opacity="0.38"/>
<ellipse cx="512.84" cy="365.17" rx="0.26" ry="1.27" fill="#7a582a" opacity="0.55"/>
<ellipse cx="521.90" cy="358.23" rx="1.08" ry="2.98" fill="#cbbd48" opacity="0.38"/>
<ellipse cx="521.90" cy="358.23" rx="0.38" ry="0.98" fill="#7a582a" opacity="0.55"/>
</g>
<path d="M533.30,232.00 C533.30,244.67 533.60,282.83 533.30,308.00 C533.00,333.17 531.80,370.50 531.50,383.00 L542.40,383.00 C542.63,370.50 543.57,333.17 543.80,308.00 C544.03,282.83 543.80,244.67 543.80,232.00 Z" fill="url(#lg16)" stroke="#6e9c3c" stroke-width="0.6" stroke-opacity="0.6"/>
<g clip-path="url(#clg16)">
<path d="M535.46,232.00 L535.46,308.00 L533.75,383.00" fill="none" stroke="#5e8e2c" stroke-width="1.0" opacity="0.18"/>
<path d="M537.48,232.00 L537.48,308.00 L535.84,383.00" fill="none" stroke="#5e8e2c" stroke-width="1.0" opacity="0.18"/>
<path d="M539.30,232.00 L539.30,308.00 L537.73,383.00" fill="none" stroke="#5e8e2c" stroke-width="1.0" opacity="0.18"/>
<path d="M541.22,232.00 L541.22,308.00 L539.73,383.00" fill="none" stroke="#5e8e2c" stroke-width="1.0" opacity="0.18"/>
<ellipse cx="542.20" cy="294.02" rx="1.11" ry="2.81" fill="#cbbd48" opacity="0.38"/>
<ellipse cx="542.20" cy="294.02" rx="0.41" ry="0.81" fill="#7a582a" opacity="0.55"/>
<ellipse cx="535.42" cy="278.00" rx="1.14" ry="3.11" fill="#cbbd48" opacity="0.38"/>
<ellipse cx="535.42" cy="278.00" rx="0.44" ry="1.11" fill="#7a582a" opacity="0.55"/>
<ellipse cx="537.30" cy="350.60" rx="1.17" ry="3.61" fill="#cbbd48" opacity="0.38"/>
<ellipse cx="537.30" cy="350.60" rx="0.47" ry="1.61" fill="#7a582a" opacity="0.55"/>
<ellipse cx="533.93" cy="332.45" rx="1.11" ry="3.10" fill="#cbbd48" opacity="0.38"/>
<ellipse cx="533.93" cy="332.45" rx="0.41" ry="1.10" fill="#7a582a" opacity="0.55"/>
</g>
<path d="M545.10,232.00 C545.10,244.67 545.32,282.83 545.10,308.00 C544.88,333.17 544.02,370.50 543.80,383.00 L555.00,383.00 C555.15,370.50 555.75,333.17 555.90,308.00 C556.05,282.83 555.90,244.67 555.90,232.00 Z" fill="url(#lg17)" stroke="#6e9c3c" stroke-width="0.6" stroke-opacity="0.6"/>
<g clip-path="url(#clg17)">
<path d="M547.50,232.00 L547.50,308.00 L546.29,383.00" fill="none" stroke="#5e8e2c" stroke-width="1.0" opacity="0.18"/>
<path d="M549.75,232.00 L549.75,308.00 L548.62,383.00" fill="none" stroke="#5e8e2c" stroke-width="1.0" opacity="0.18"/>
<path d="M551.86,232.00 L551.86,308.00 L550.81,383.00" fill="none" stroke="#5e8e2c" stroke-width="1.0" opacity="0.18"/>
<path d="M553.08,232.00 L553.08,308.00 L552.08,383.00" fill="none" stroke="#5e8e2c" stroke-width="1.0" opacity="0.18"/>
<ellipse cx="554.34" cy="347.15" rx="0.98" ry="2.83" fill="#cbbd48" opacity="0.38"/>
<ellipse cx="554.34" cy="347.15" rx="0.28" ry="0.83" fill="#7a582a" opacity="0.55"/>
<ellipse cx="552.85" cy="290.24" rx="1.08" ry="3.12" fill="#cbbd48" opacity="0.38"/>
<ellipse cx="552.85" cy="290.24" rx="0.38" ry="1.12" fill="#7a582a" opacity="0.55"/>
<ellipse cx="549.61" cy="359.10" rx="1.20" ry="2.86" fill="#cbbd48" opacity="0.38"/>
<ellipse cx="549.61" cy="359.10" rx="0.50" ry="0.86" fill="#7a582a" opacity="0.55"/>
<ellipse cx="552.10" cy="354.08" rx="1.13" ry="3.36" fill="#cbbd48" opacity="0.38"/>
<ellipse cx="552.10" cy="354.08" rx="0.43" ry="1.36" fill="#7a582a" opacity="0.55"/>
<ellipse cx="545.33" cy="375.32" rx="1.17" ry="3.44" fill="#cbbd48" opacity="0.38"/>
<ellipse cx="545.33" cy="375.32" rx="0.47" ry="1.44" fill="#7a582a" opacity="0.55"/>
<ellipse cx="547.01" cy="279.07" rx="1.07" ry="3.80" fill="#cbbd48" opacity="0.38"/>
<ellipse cx="547.01" cy="279.07" rx="0.37" ry="1.80" fill="#7a582a" opacity="0.55"/>
</g>
</g>
<rect x="125" y="354.7" width="1.5" height="21.1" fill="#000"/>
<rect x="304" y="353" width="1.5" height="21.5" fill="#000"/>
<rect x="558" y="357.4" width="1.5" height="19.8" fill="#000"/>
<text x="37.00" y="389.25" text-anchor="end" style="font-size:10.5px;font-weight:bold;" fill="#000" transform="rotate(-40 37.00 389.25)">Guy  </text>
<text x="78.80" y="390.45" text-anchor="end" style="font-size:10.5px;font-weight:bold;" fill="#000" transform="rotate(-40 78.80 390.45)"><tspan font-style="italic">ΔMoCel 2A</tspan>-2</text>
<text x="113.90" y="390.15" text-anchor="end" style="font-size:10.5px;font-weight:bold;" fill="#000" transform="rotate(-40 113.90 390.15)"><tspan font-style="italic">ΔMoCel 2A</tspan>-5</text>
<text x="260.45" y="388.95" text-anchor="end" style="font-size:10.4px;font-weight:bold;" fill="#000" transform="rotate(-40 260.45 388.95)">Guy  </text>
<text x="280.25" y="391.00" text-anchor="end" style="font-size:10.4px;font-weight:bold;" fill="#000" transform="rotate(-40 280.25 391.00)"><tspan font-style="italic">ΔMoCel 2A/B</tspan>- </text>
<text x="300.95" y="390.30" text-anchor="end" style="font-size:10.4px;font-weight:bold;" fill="#000" transform="rotate(-40 300.95 390.30)"><tspan font-style="italic">ΔMoCel 2A/B</tspan>-4</text>
<text x="449.80" y="391.50" text-anchor="end" style="font-size:10.6px;font-weight:bold;" fill="#000" transform="rotate(-40 449.80 391.50)">Guy  </text>
<text x="484.95" y="391.90" text-anchor="end" style="font-size:10.6px;font-weight:bold;" fill="#000" transform="rotate(-40 484.95 391.90)">GFP</text>
<text x="519.30" y="392.00" text-anchor="end" style="font-size:10.6px;font-weight:bold;" fill="#000" transform="rotate(-40 519.30 392.00)"><tspan font-style="italic">MoCel 2A</tspan>- </text>
<text x="553.90" y="392.30" text-anchor="end" style="font-size:10.6px;font-weight:bold;" fill="#000" transform="rotate(-40 553.90 392.30)"><tspan font-style="italic">MoCel 2A</tspan>-3</text>
<text x="-0.70" y="11.40" text-anchor="start" style="font-size:16.5px;font-weight:bold;" fill="#000">a</text>
<text x="342.50" y="11.60" text-anchor="start" style="font-size:16.5px;font-weight:bold;" fill="#000">b</text>
<text x="-0.20" y="230.50" text-anchor="start" style="font-size:16.5px;font-weight:bold;" fill="#000">c</text>
<text x="236.60" y="230.40" text-anchor="start" style="font-size:16.5px;font-weight:bold;" fill="#000">d</text>
<text x="419.00" y="230.80" text-anchor="start" style="font-size:16.5px;font-weight:bold;" fill="#000">e</text>
<circle cx="44.80" cy="145.00" r="1.5" fill="none" stroke="#000" stroke-width="1.0"/>
<circle cx="49.40" cy="145.00" r="1.5" fill="none" stroke="#000" stroke-width="1.0"/>
<circle cx="54.00" cy="145.00" r="1.5" fill="none" stroke="#000" stroke-width="1.0"/>
<line x1="49.40" y1="145.00" x2="49.40" y2="148.30" stroke="#000" stroke-width="1.6" stroke-linecap="butt"/>
<rect x="62.90" y="143.86" width="11.80" height="1.14" fill="#ff8000" stroke="#000" stroke-width="1.1"/>
<circle cx="64.40" cy="143.10" r="1.5" fill="none" stroke="#000" stroke-width="1.0"/>
<circle cx="68.80" cy="143.10" r="1.5" fill="none" stroke="#000" stroke-width="1.0"/>
<circle cx="73.20" cy="143.10" r="1.5" fill="none" stroke="#000" stroke-width="1.0"/>
<line x1="68.80" y1="145.00" x2="68.80" y2="148.30" stroke="#000" stroke-width="1.6" stroke-linecap="butt"/>
<line x1="88.20" y1="107.64" x2="88.20" y2="100.96" stroke="#888" stroke-width="0.9" stroke-linecap="butt"/>
<line x1="85.40" y1="100.96" x2="91.00" y2="100.96" stroke="#888" stroke-width="0.9" stroke-linecap="butt"/>
<rect x="82.30" y="107.64" width="11.80" height="37.36" fill="#ff8000" stroke="#000" stroke-width="1.1"/>
<circle cx="85.00" cy="111.21" r="1.5" fill="none" stroke="#000" stroke-width="1.0"/>
<circle cx="91.50" cy="111.21" r="1.5" fill="none" stroke="#000" stroke-width="1.0"/>
<circle cx="88.20" cy="100.20" r="1.5" fill="none" stroke="#000" stroke-width="1.0"/>
<line x1="88.20" y1="145.00" x2="88.20" y2="148.30" stroke="#000" stroke-width="1.6" stroke-linecap="butt"/>
<line x1="107.60" y1="86.79" x2="107.60" y2="82.50" stroke="#888" stroke-width="0.9" stroke-linecap="butt"/>
<line x1="104.80" y1="82.50" x2="110.40" y2="82.50" stroke="#888" stroke-width="0.9" stroke-linecap="butt"/>
<rect x="101.70" y="86.79" width="11.80" height="58.21" fill="#ff8000" stroke="#000" stroke-width="1.1"/>
<circle cx="103.80" cy="88.81" r="1.5" fill="none" stroke="#000" stroke-width="1.0"/>
<circle cx="110.70" cy="88.81" r="1.5" fill="none" stroke="#000" stroke-width="1.0"/>
<circle cx="107.60" cy="81.40" r="1.5" fill="none" stroke="#000" stroke-width="1.0"/>
<line x1="107.60" y1="145.00" x2="107.60" y2="148.30" stroke="#000" stroke-width="1.6" stroke-linecap="butt"/>
<line x1="127.00" y1="47.46" x2="127.00" y2="34.66" stroke="#888" stroke-width="0.9" stroke-linecap="butt"/>
<line x1="124.20" y1="34.66" x2="129.80" y2="34.66" stroke="#888" stroke-width="0.9" stroke-linecap="butt"/>
<rect x="121.10" y="47.46" width="11.80" height="97.54" fill="#ff8000" stroke="#000" stroke-width="1.1"/>
<circle cx="127.00" cy="51.22" r="1.5" fill="none" stroke="#000" stroke-width="1.0"/>
<circle cx="127.00" cy="56.00" r="1.5" fill="none" stroke="#000" stroke-width="1.0"/>
<circle cx="127.00" cy="33.45" r="1.5" fill="none" stroke="#000" stroke-width="1.0"/>
<line x1="127.00" y1="145.00" x2="127.00" y2="148.30" stroke="#000" stroke-width="1.6" stroke-linecap="butt"/>
<line x1="146.40" y1="126.55" x2="146.40" y2="124.88" stroke="#888" stroke-width="0.9" stroke-linecap="butt"/>
<line x1="143.60" y1="124.88" x2="149.20" y2="124.88" stroke="#888" stroke-width="0.9" stroke-linecap="butt"/>
<rect x="140.50" y="126.55" width="11.80" height="18.45" fill="#ff8000" stroke="#000" stroke-width="1.1"/>
<circle cx="141.70" cy="124.65" r="1.5" fill="none" stroke="#000" stroke-width="1.0"/>
<circle cx="146.10" cy="124.65" r="1.5" fill="none" stroke="#000" stroke-width="1.0"/>
<circle cx="150.70" cy="128.67" r="1.5" fill="none" stroke="#000" stroke-width="1.0"/>
<line x1="146.40" y1="145.00" x2="146.40" y2="148.30" stroke="#000" stroke-width="1.6" stroke-linecap="butt"/>
<rect x="159.90" y="142.72" width="11.80" height="2.28" fill="#ff8000" stroke="#000" stroke-width="1.1"/>
<circle cx="161.10" cy="141.96" r="1.5" fill="none" stroke="#000" stroke-width="1.0"/>
<circle cx="165.80" cy="141.96" r="1.5" fill="none" stroke="#000" stroke-width="1.0"/>
<circle cx="169.80" cy="142.34" r="1.5" fill="none" stroke="#000" stroke-width="1.0"/>
<line x1="165.80" y1="145.00" x2="165.80" y2="148.30" stroke="#000" stroke-width="1.6" stroke-linecap="butt"/>
<line x1="36.90" y1="22.70" x2="36.90" y2="145.80" stroke="#000" stroke-width="1.6" stroke-linecap="butt"/>
<line x1="36.10" y1="145.00" x2="179.00" y2="145.00" stroke="#000" stroke-width="1.6" stroke-linecap="butt"/>
<line x1="32.90" y1="145.00" x2="36.90" y2="145.00" stroke="#000" stroke-width="1.6" stroke-linecap="butt"/>
<text x="31.50" y="148.87" text-anchor="end" style="font-size:10.2px;font-weight:bold;" fill="#000">0.0</text>
<line x1="32.90" y1="114.62" x2="36.90" y2="114.62" stroke="#000" stroke-width="1.6" stroke-linecap="butt"/>
<text x="31.50" y="118.50" text-anchor="end" style="font-size:10.2px;font-weight:bold;" fill="#000">0.8</text>
<line x1="32.90" y1="84.25" x2="36.90" y2="84.25" stroke="#000" stroke-width="1.6" stroke-linecap="butt"/>
<text x="31.50" y="88.12" text-anchor="end" style="font-size:10.2px;font-weight:bold;" fill="#000"> .6</text>
<line x1="32.90" y1="53.88" x2="36.90" y2="53.88" stroke="#000" stroke-width="1.6" stroke-linecap="butt"/>
<text x="31.50" y="57.75" text-anchor="end" style="font-size:10.2px;font-weight:bold;" fill="#000">2.4</text>
<line x1="32.90" y1="23.50" x2="36.90" y2="23.50" stroke="#000" stroke-width="1.6" stroke-linecap="butt"/>
<text x="31.50" y="27.37" text-anchor="end" style="font-size:10.2px;font-weight:bold;" fill="#000">3.2</text>
<text x="53.65" y="152.65" text-anchor="end" style="font-size:10.85px;font-weight:bold;" fill="#000" transform="rotate(-45 53.65 152.65)">Mycelium</text>
<text x="72.20" y="152.40" text-anchor="end" style="font-size:10.85px;font-weight:bold;" fill="#000" transform="rotate(-45 72.20 152.40)">Spore</text>
<text x="91.50" y="152.30" text-anchor="end" style="font-size:10.85px;font-weight:bold;" fill="#000" transform="rotate(-45 91.50 152.30)">8</text>
<text x="111.20" y="151.65" text-anchor="end" style="font-size:10.85px;font-weight:bold;" fill="#000" transform="rotate(-45 111.20 151.65)"> 2</text>
<text x="130.45" y="152.50" text-anchor="end" style="font-size:10.85px;font-weight:bold;" fill="#000" transform="rotate(-45 130.45 152.50)">24</text>
<text x="149.55" y="152.15" text-anchor="end" style="font-size:10.85px;font-weight:bold;" fill="#000" transform="rotate(-45 149.55 152.15)">48</text>
<text x="169.05" y="152.55" text-anchor="end" style="font-size:10.85px;font-weight:bold;" fill="#000" transform="rotate(-45 169.05 152.55)">72</text>
<text x="108.25" y="25.85" text-anchor="middle" style="font-size:11.0px;font-weight:bold;font-style:italic;" fill="#000">MoCel 2A</text>
<text x="10.15" y="82.20" text-anchor="middle" style="font-size:10.85px;font-weight:bold;" fill="#000" transform="rotate(-90 10.15 82.20)">Relative expression</text>
<text x="118.15" y="181.80" text-anchor="middle" style="font-size:11.05px;font-weight:bold;" fill="#000">Time (hpi)</text>
<line x1="221.70" y1="136.41" x2="221.70" y2="133.01" stroke="#888" stroke-width="0.9" stroke-linecap="butt"/>
<line x1="218.90" y1="133.01" x2="224.50" y2="133.01" stroke="#888" stroke-width="0.9" stroke-linecap="butt"/>
<rect x="215.75" y="136.41" width="11.90" height="6.59" fill="#ff8000" stroke="#000" stroke-width="1.1"/>
<circle cx="217.40" cy="132.81" r="1.5" fill="none" stroke="#000" stroke-width="1.0"/>
<circle cx="221.70" cy="137.11" r="1.5" fill="none" stroke="#000" stroke-width="1.0"/>
<circle cx="225.90" cy="137.11" r="1.5" fill="none" stroke="#000" stroke-width="1.0"/>
<line x1="221.70" y1="143.00" x2="221.70" y2="146.30" stroke="#000" stroke-width="1.6" stroke-linecap="butt"/>
<circle cx="237.05" cy="142.02" r="1.5" fill="none" stroke="#000" stroke-width="1.0"/>
<circle cx="241.25" cy="142.02" r="1.5" fill="none" stroke="#000" stroke-width="1.0"/>
<circle cx="245.45" cy="142.18" r="1.5" fill="none" stroke="#000" stroke-width="1.0"/>
<line x1="241.25" y1="143.00" x2="241.25" y2="146.30" stroke="#000" stroke-width="1.6" stroke-linecap="butt"/>
<line x1="260.80" y1="102.31" x2="260.80" y2="98.79" stroke="#888" stroke-width="0.9" stroke-linecap="butt"/>
<line x1="258.00" y1="98.79" x2="263.60" y2="98.79" stroke="#888" stroke-width="0.9" stroke-linecap="butt"/>
<rect x="254.85" y="102.31" width="11.90" height="40.69" fill="#ff8000" stroke="#000" stroke-width="1.1"/>
<circle cx="257.20" cy="99.08" r="1.5" fill="none" stroke="#000" stroke-width="1.0"/>
<circle cx="264.10" cy="100.72" r="1.5" fill="none" stroke="#000" stroke-width="1.0"/>
<circle cx="260.80" cy="106.16" r="1.5" fill="none" stroke="#000" stroke-width="1.0"/>
<line x1="260.80" y1="143.00" x2="260.80" y2="146.30" stroke="#000" stroke-width="1.6" stroke-linecap="butt"/>
<line x1="280.35" y1="52.01" x2="280.35" y2="40.01" stroke="#888" stroke-width="0.9" stroke-linecap="butt"/>
<line x1="277.55" y1="40.01" x2="283.15" y2="40.01" stroke="#888" stroke-width="0.9" stroke-linecap="butt"/>
<rect x="274.40" y="52.01" width="11.90" height="90.99" fill="#ff8000" stroke="#000" stroke-width="1.1"/>
<circle cx="276.95" cy="57.04" r="1.5" fill="none" stroke="#000" stroke-width="1.0"/>
<circle cx="283.75" cy="58.51" r="1.5" fill="none" stroke="#000" stroke-width="1.0"/>
<circle cx="280.35" cy="38.50" r="1.5" fill="none" stroke="#000" stroke-width="1.0"/>
<line x1="280.35" y1="143.00" x2="280.35" y2="146.30" stroke="#000" stroke-width="1.6" stroke-linecap="butt"/>
<line x1="299.90" y1="119.50" x2="299.90" y2="118.44" stroke="#888" stroke-width="0.9" stroke-linecap="butt"/>
<line x1="297.10" y1="118.44" x2="302.70" y2="118.44" stroke="#888" stroke-width="0.9" stroke-linecap="butt"/>
<rect x="293.95" y="119.50" width="11.90" height="23.50" fill="#ff8000" stroke="#000" stroke-width="1.1"/>
<circle cx="295.70" cy="117.79" r="1.5" fill="none" stroke="#000" stroke-width="1.0"/>
<circle cx="300.00" cy="119.09" r="1.5" fill="none" stroke="#000" stroke-width="1.0"/>
<circle cx="304.30" cy="120.81" r="1.5" fill="none" stroke="#000" stroke-width="1.0"/>
<line x1="299.90" y1="143.00" x2="299.90" y2="146.30" stroke="#000" stroke-width="1.6" stroke-linecap="butt"/>
<line x1="319.45" y1="100.31" x2="319.45" y2="92.41" stroke="#888" stroke-width="0.9" stroke-linecap="butt"/>
<line x1="316.65" y1="92.41" x2="322.25" y2="92.41" stroke="#888" stroke-width="0.9" stroke-linecap="butt"/>
<rect x="313.50" y="100.31" width="11.90" height="42.69" fill="#ff8000" stroke="#000" stroke-width="1.1"/>
<circle cx="315.45" cy="102.31" r="1.5" fill="none" stroke="#000" stroke-width="1.0"/>
<circle cx="323.65" cy="105.51" r="1.5" fill="none" stroke="#000" stroke-width="1.0"/>
<circle cx="319.45" cy="92.41" r="1.5" fill="none" stroke="#000" stroke-width="1.0"/>
<line x1="319.45" y1="143.00" x2="319.45" y2="146.30" stroke="#000" stroke-width="1.6" stroke-linecap="butt"/>
<line x1="339.00" y1="134.49" x2="339.00" y2="133.99" stroke="#888" stroke-width="0.9" stroke-linecap="butt"/>
<line x1="336.20" y1="133.99" x2="341.80" y2="133.99" stroke="#888" stroke-width="0.9" stroke-linecap="butt"/>
<rect x="333.05" y="134.49" width="11.90" height="8.51" fill="#ff8000" stroke="#000" stroke-width="1.1"/>
<circle cx="335.00" cy="134.81" r="1.5" fill="none" stroke="#000" stroke-width="1.0"/>
<circle cx="339.20" cy="135.02" r="1.5" fill="none" stroke="#000" stroke-width="1.0"/>
<circle cx="343.40" cy="135.02" r="1.5" fill="none" stroke="#000" stroke-width="1.0"/>
<line x1="339.00" y1="143.00" x2="339.00" y2="146.30" stroke="#000" stroke-width="1.6" stroke-linecap="butt"/>
<line x1="209.00" y1="19.40" x2="209.00" y2="143.80" stroke="#000" stroke-width="1.6" stroke-linecap="butt"/>
<line x1="208.20" y1="143.00" x2="352.50" y2="143.00" stroke="#000" stroke-width="1.6" stroke-linecap="butt"/>
<line x1="205.00" y1="143.00" x2="209.00" y2="143.00" stroke="#000" stroke-width="1.6" stroke-linecap="butt"/>
<text x="203.60" y="146.87" text-anchor="end" style="font-size:10.2px;font-weight:bold;" fill="#000">0</text>
<line x1="205.00" y1="102.07" x2="209.00" y2="102.07" stroke="#000" stroke-width="1.6" stroke-linecap="butt"/>
<text x="203.60" y="105.94" text-anchor="end" style="font-size:10.2px;font-weight:bold;" fill="#000"> </text>
<line x1="205.00" y1="61.13" x2="209.00" y2="61.13" stroke="#000" stroke-width="1.6" stroke-linecap="butt"/>
<text x="203.60" y="65.01" text-anchor="end" style="font-size:10.2px;font-weight:bold;" fill="#000">2</text>
<line x1="205.00" y1="20.20" x2="209.00" y2="20.20" stroke="#000" stroke-width="1.6" stroke-linecap="butt"/>
<text x="203.60" y="24.07" text-anchor="end" style="font-size:10.2px;font-weight:bold;" fill="#000">3</text>
<text x="225.65" y="157.15" text-anchor="end" style="font-size:10.85px;font-weight:bold;" fill="#000" transform="rotate(-45 225.65 157.15)">Mycelium</text>
<text x="244.70" y="156.60" text-anchor="end" style="font-size:10.85px;font-weight:bold;" fill="#000" transform="rotate(-45 244.70 156.60)">Spore</text>
<text x="264.50" y="157.10" text-anchor="end" style="font-size:10.85px;font-weight:bold;" fill="#000" transform="rotate(-45 264.50 157.10)">8</text>
<text x="284.10" y="156.80" text-anchor="end" style="font-size:10.85px;font-weight:bold;" fill="#000" transform="rotate(-45 284.10 156.80)"> 2</text>
<text x="303.75" y="157.40" text-anchor="end" style="font-size:10.85px;font-weight:bold;" fill="#000" transform="rotate(-45 303.75 157.40)">24</text>
<text x="322.80" y="157.30" text-anchor="end" style="font-size:10.85px;font-weight:bold;" fill="#000" transform="rotate(-45 322.80 157.30)">48</text>
<text x="342.95" y="157.65" text-anchor="end" style="font-size:10.85px;font-weight:bold;" fill="#000" transform="rotate(-45 342.95 157.65)">72</text>
<text x="281.20" y="24.10" text-anchor="middle" style="font-size:11.0px;font-weight:bold;font-style:italic;" fill="#000">MoCel 2B</text>
<text x="191.05" y="79.90" text-anchor="middle" style="font-size:10.9px;font-weight:bold;" fill="#000" transform="rotate(-90 191.05 79.90)">Relative expression</text>
<text x="297.30" y="182.20" text-anchor="middle" style="font-size:11.05px;font-weight:bold;" fill="#000">Time (hpi)</text>
<circle cx="400.90" cy="134.41" r="1.5" fill="none" stroke="#000" stroke-width="1.0"/>
<circle cx="405.40" cy="134.41" r="1.5" fill="none" stroke="#000" stroke-width="1.0"/>
<circle cx="409.90" cy="134.41" r="1.5" fill="none" stroke="#000" stroke-width="1.0"/>
<line x1="405.40" y1="134.80" x2="405.40" y2="138.10" stroke="#000" stroke-width="1.6" stroke-linecap="butt"/>
<line x1="425.30" y1="38.30" x2="425.30" y2="32.41" stroke="#888" stroke-width="0.9" stroke-linecap="butt"/>
<line x1="422.50" y1="32.41" x2="428.10" y2="32.41" stroke="#888" stroke-width="0.9" stroke-linecap="butt"/>
<rect x="419.40" y="38.30" width="11.80" height="96.50" fill="#ff8000" stroke="#000" stroke-width="1.1"/>
<circle cx="421.80" cy="40.29" r="1.5" fill="none" stroke="#000" stroke-width="1.0"/>
<circle cx="428.60" cy="41.99" r="1.5" fill="none" stroke="#000" stroke-width="1.0"/>
<circle cx="425.40" cy="31.85" r="1.5" fill="none" stroke="#000" stroke-width="1.0"/>
<line x1="425.30" y1="134.80" x2="425.30" y2="138.10" stroke="#000" stroke-width="1.6" stroke-linecap="butt"/>
<circle cx="440.70" cy="134.15" r="1.5" fill="none" stroke="#000" stroke-width="1.0"/>
<circle cx="445.20" cy="134.15" r="1.5" fill="none" stroke="#000" stroke-width="1.0"/>
<circle cx="449.70" cy="134.15" r="1.5" fill="none" stroke="#000" stroke-width="1.0"/>
<line x1="445.20" y1="134.80" x2="445.20" y2="138.10" stroke="#000" stroke-width="1.6" stroke-linecap="butt"/>
<circle cx="460.60" cy="134.41" r="1.5" fill="none" stroke="#000" stroke-width="1.0"/>
<circle cx="465.10" cy="134.41" r="1.5" fill="none" stroke="#000" stroke-width="1.0"/>
<circle cx="469.60" cy="134.41" r="1.5" fill="none" stroke="#000" stroke-width="1.0"/>
<line x1="465.10" y1="134.80" x2="465.10" y2="138.10" stroke="#000" stroke-width="1.6" stroke-linecap="butt"/>
<rect x="479.10" y="117.50" width="11.80" height="17.30" fill="#ff8000" stroke="#000" stroke-width="1.1"/>
<circle cx="480.80" cy="115.70" r="1.5" fill="none" stroke="#000" stroke-width="1.0"/>
<circle cx="485.20" cy="116.40" r="1.5" fill="none" stroke="#000" stroke-width="1.0"/>
<circle cx="489.60" cy="116.80" r="1.5" fill="none" stroke="#000" stroke-width="1.0"/>
<line x1="485.00" y1="134.80" x2="485.00" y2="138.10" stroke="#000" stroke-width="1.6" stroke-linecap="butt"/>
<circle cx="500.40" cy="134.41" r="1.5" fill="none" stroke="#000" stroke-width="1.0"/>
<circle cx="504.90" cy="134.41" r="1.5" fill="none" stroke="#000" stroke-width="1.0"/>
<circle cx="509.40" cy="134.41" r="1.5" fill="none" stroke="#000" stroke-width="1.0"/>
<line x1="504.90" y1="134.80" x2="504.90" y2="138.10" stroke="#000" stroke-width="1.6" stroke-linecap="butt"/>
<line x1="392.00" y1="17.80" x2="392.00" y2="135.60" stroke="#000" stroke-width="1.6" stroke-linecap="butt"/>
<line x1="391.20" y1="134.80" x2="518.90" y2="134.80" stroke="#000" stroke-width="1.6" stroke-linecap="butt"/>
<line x1="388.00" y1="134.80" x2="392.00" y2="134.80" stroke="#000" stroke-width="1.6" stroke-linecap="butt"/>
<text x="386.60" y="138.74" text-anchor="end" style="font-size:10.4px;font-weight:bold;" fill="#000">0</text>
<line x1="388.00" y1="96.07" x2="392.00" y2="96.07" stroke="#000" stroke-width="1.6" stroke-linecap="butt"/>
<text x="386.60" y="100.01" text-anchor="end" style="font-size:10.4px;font-weight:bold;" fill="#000">300</text>
<line x1="388.00" y1="57.33" x2="392.00" y2="57.33" stroke="#000" stroke-width="1.6" stroke-linecap="butt"/>
<text x="386.60" y="61.28" text-anchor="end" style="font-size:10.4px;font-weight:bold;" fill="#000">600</text>
<line x1="388.00" y1="18.60" x2="392.00" y2="18.60" stroke="#000" stroke-width="1.6" stroke-linecap="butt"/>
<text x="386.60" y="22.54" text-anchor="end" style="font-size:10.4px;font-weight:bold;" fill="#000">900</text>
<text x="408.95" y="148.75" text-anchor="end" style="font-size:10.8px;font-weight:bold;" fill="#000" transform="rotate(-45 408.95 148.75)">MBP</text>
<text x="426.10" y="150.55" text-anchor="end" style="font-size:10.8px;font-weight:bold;" fill="#000" transform="rotate(-45 426.10 150.55)">MoCel 2A</text>
<text x="448.20" y="149.55" text-anchor="end" style="font-size:10.8px;font-weight:bold;" fill="#000" transform="rotate(-45 448.20 149.55)">MoCel 2A (E 53D)</text>
<text x="468.85" y="149.60" text-anchor="end" style="font-size:10.8px;font-weight:bold;" fill="#000" transform="rotate(-45 468.85 149.60)">MoCel 2A (E238D)</text>
<text x="488.75" y="148.55" text-anchor="end" style="font-size:10.8px;font-weight:bold;" fill="#000" transform="rotate(-45 488.75 148.55)">MoCel 2B</text>
<text x="508.50" y="148.90" text-anchor="end" style="font-size:10.8px;font-weight:bold;" fill="#000" transform="rotate(-45 508.50 148.90)">MoCel 2C</text>
<text x="455.55" y="17.75" text-anchor="middle" style="font-size:10.55px;font-weight:bold;" fill="#000">β-glucan</text>
<text x="363.50" y="74.25" text-anchor="middle" style="font-size:10.55px;font-weight:bold;" fill="#000" transform="rotate(-90 363.50 74.25)">Enzyme activity (U/mg)</text>
<circle cx="566.40" cy="132.56" r="1.5" fill="none" stroke="#000" stroke-width="1.0"/>
<circle cx="571.00" cy="132.56" r="1.5" fill="none" stroke="#000" stroke-width="1.0"/>
<circle cx="575.60" cy="132.56" r="1.5" fill="none" stroke="#000" stroke-width="1.0"/>
<line x1="571.00" y1="133.55" x2="571.00" y2="136.85" stroke="#000" stroke-width="1.6" stroke-linecap="butt"/>
<circle cx="586.40" cy="132.56" r="1.5" fill="none" stroke="#000" stroke-width="1.0"/>
<circle cx="591.00" cy="132.56" r="1.5" fill="none" stroke="#000" stroke-width="1.0"/>
<circle cx="595.60" cy="132.56" r="1.5" fill="none" stroke="#000" stroke-width="1.0"/>
<line x1="591.00" y1="133.55" x2="591.00" y2="136.85" stroke="#000" stroke-width="1.6" stroke-linecap="butt"/>
<circle cx="606.40" cy="132.56" r="1.5" fill="none" stroke="#000" stroke-width="1.0"/>
<circle cx="611.00" cy="132.56" r="1.5" fill="none" stroke="#000" stroke-width="1.0"/>
<circle cx="615.60" cy="132.56" r="1.5" fill="none" stroke="#000" stroke-width="1.0"/>
<line x1="611.00" y1="133.55" x2="611.00" y2="136.85" stroke="#000" stroke-width="1.6" stroke-linecap="butt"/>
<circle cx="626.40" cy="132.56" r="1.5" fill="none" stroke="#000" stroke-width="1.0"/>
<circle cx="631.00" cy="132.56" r="1.5" fill="none" stroke="#000" stroke-width="1.0"/>
<circle cx="635.60" cy="132.56" r="1.5" fill="none" stroke="#000" stroke-width="1.0"/>
<line x1="631.00" y1="133.55" x2="631.00" y2="136.85" stroke="#000" stroke-width="1.6" stroke-linecap="butt"/>
<circle cx="646.40" cy="132.56" r="1.5" fill="none" stroke="#000" stroke-width="1.0"/>
<circle cx="651.00" cy="132.56" r="1.5" fill="none" stroke="#000" stroke-width="1.0"/>
<circle cx="655.60" cy="132.56" r="1.5" fill="none" stroke="#000" stroke-width="1.0"/>
<line x1="651.00" y1="133.55" x2="651.00" y2="136.85" stroke="#000" stroke-width="1.6" stroke-linecap="butt"/>
<line x1="671.00" y1="40.79" x2="671.00" y2="35.62" stroke="#888" stroke-width="0.9" stroke-linecap="butt"/>
<line x1="668.20" y1="35.62" x2="673.80" y2="35.62" stroke="#888" stroke-width="0.9" stroke-linecap="butt"/>
<rect x="665.00" y="40.79" width="12.00" height="92.76" fill="#ff8000" stroke="#000" stroke-width="1.1"/>
<circle cx="667.20" cy="36.78" r="1.5" fill="none" stroke="#000" stroke-width="1.0"/>
<circle cx="674.00" cy="37.83" r="1.5" fill="none" stroke="#000" stroke-width="1.0"/>
<circle cx="670.90" cy="46.13" r="1.5" fill="none" stroke="#000" stroke-width="1.0"/>
<line x1="671.00" y1="133.55" x2="671.00" y2="136.85" stroke="#000" stroke-width="1.6" stroke-linecap="butt"/>
<line x1="558.10" y1="16.65" x2="558.10" y2="134.35" stroke="#000" stroke-width="1.6" stroke-linecap="butt"/>
<line x1="557.30" y1="133.55" x2="685.00" y2="133.55" stroke="#000" stroke-width="1.6" stroke-linecap="butt"/>
<line x1="554.10" y1="133.55" x2="558.10" y2="133.55" stroke="#000" stroke-width="1.6" stroke-linecap="butt"/>
<text x="552.70" y="137.57" text-anchor="end" style="font-size:10.6px;font-weight:bold;" fill="#000">0</text>
<line x1="554.10" y1="104.53" x2="558.10" y2="104.53" stroke="#000" stroke-width="1.6" stroke-linecap="butt"/>
<text x="552.70" y="108.54" text-anchor="end" style="font-size:10.6px;font-weight:bold;" fill="#000">50</text>
<line x1="554.10" y1="75.50" x2="558.10" y2="75.50" stroke="#000" stroke-width="1.6" stroke-linecap="butt"/>
<text x="552.70" y="79.52" text-anchor="end" style="font-size:10.6px;font-weight:bold;" fill="#000"> 00</text>
<line x1="554.10" y1="46.48" x2="558.10" y2="46.48" stroke="#000" stroke-width="1.6" stroke-linecap="butt"/>
<text x="552.70" y="50.49" text-anchor="end" style="font-size:10.6px;font-weight:bold;" fill="#000"> 50</text>
<line x1="554.10" y1="17.45" x2="558.10" y2="17.45" stroke="#000" stroke-width="1.6" stroke-linecap="butt"/>
<text x="552.70" y="21.47" text-anchor="end" style="font-size:10.6px;font-weight:bold;" fill="#000">200</text>
<text x="574.80" y="147.70" text-anchor="end" style="font-size:10.8px;font-weight:bold;" fill="#000" transform="rotate(-45 574.80 147.70)">MBP</text>
<text x="592.45" y="149.70" text-anchor="end" style="font-size:10.8px;font-weight:bold;" fill="#000" transform="rotate(-45 592.45 149.70)">MoCel 2A</text>
<text x="614.70" y="148.30" text-anchor="end" style="font-size:10.8px;font-weight:bold;" fill="#000" transform="rotate(-45 614.70 148.30)">MoCel 2A (E 53D)</text>
<text x="634.15" y="147.60" text-anchor="end" style="font-size:10.8px;font-weight:bold;" fill="#000" transform="rotate(-45 634.15 147.60)">MoCel 2A (E238D)</text>
<text x="654.45" y="147.55" text-anchor="end" style="font-size:10.8px;font-weight:bold;" fill="#000" transform="rotate(-45 654.45 147.55)">MoCel 2B</text>
<text x="674.15" y="147.90" text-anchor="end" style="font-size:10.8px;font-weight:bold;" fill="#000" transform="rotate(-45 674.15 147.90)">MoCel 2C</text>
<text x="619.90" y="17.05" text-anchor="middle" style="font-size:10.4px;font-weight:bold;" fill="#000">Xyloglucan</text>
<text x="529.10" y="73.05" text-anchor="middle" style="font-size:10.5px;font-weight:bold;" fill="#000" transform="rotate(-90 529.10 73.05)">Enzyme activity (U/mg)</text>
<line x1="180.50" y1="287.70" x2="180.50" y2="281.46" stroke="#404040" stroke-width="0.9" stroke-linecap="butt"/>
<line x1="176.90" y1="281.46" x2="184.10" y2="281.46" stroke="#404040" stroke-width="0.9" stroke-linecap="butt"/>
<rect x="173.80" y="287.70" width="13.40" height="92.60" fill="#ff8000" stroke="#000" stroke-width="1.1"/>
<circle cx="177.00" cy="282.11" r="1.45" fill="none" stroke="#000" stroke-width="1.0"/>
<circle cx="184.40" cy="285.74" r="1.45" fill="none" stroke="#000" stroke-width="1.0"/>
<circle cx="180.70" cy="293.93" r="1.45" fill="none" stroke="#000" stroke-width="1.0"/>
<line x1="180.50" y1="380.30" x2="180.50" y2="384.10" stroke="#000" stroke-width="1.6" stroke-linecap="butt"/>
<line x1="198.40" y1="282.30" x2="198.40" y2="266.29" stroke="#404040" stroke-width="0.9" stroke-linecap="butt"/>
<line x1="194.80" y1="266.29" x2="202.00" y2="266.29" stroke="#404040" stroke-width="0.9" stroke-linecap="butt"/>
<rect x="191.70" y="282.30" width="13.40" height="98.00" fill="#ff8000" stroke="#000" stroke-width="1.1"/>
<circle cx="198.40" cy="264.34" r="1.45" fill="none" stroke="#000" stroke-width="1.0"/>
<circle cx="198.40" cy="287.42" r="1.45" fill="none" stroke="#000" stroke-width="1.0"/>
<circle cx="198.40" cy="294.68" r="1.45" fill="none" stroke="#000" stroke-width="1.0"/>
<line x1="198.40" y1="380.30" x2="198.40" y2="384.10" stroke="#000" stroke-width="1.6" stroke-linecap="butt"/>
<line x1="216.20" y1="290.30" x2="216.20" y2="271.41" stroke="#404040" stroke-width="0.9" stroke-linecap="butt"/>
<line x1="212.60" y1="271.41" x2="219.80" y2="271.41" stroke="#404040" stroke-width="0.9" stroke-linecap="butt"/>
<rect x="209.50" y="290.30" width="13.40" height="90.00" fill="#ff8000" stroke="#000" stroke-width="1.1"/>
<circle cx="216.30" cy="268.34" r="1.45" fill="none" stroke="#000" stroke-width="1.0"/>
<circle cx="212.70" cy="299.61" r="1.45" fill="none" stroke="#000" stroke-width="1.0"/>
<circle cx="219.90" cy="301.47" r="1.45" fill="none" stroke="#000" stroke-width="1.0"/>
<line x1="216.20" y1="380.30" x2="216.20" y2="384.10" stroke="#000" stroke-width="1.6" stroke-linecap="butt"/>
<line x1="165.80" y1="239.90" x2="165.80" y2="381.10" stroke="#000" stroke-width="1.6" stroke-linecap="butt"/>
<line x1="165.00" y1="380.30" x2="232.00" y2="380.30" stroke="#000" stroke-width="1.6" stroke-linecap="butt"/>
<line x1="161.80" y1="380.30" x2="165.80" y2="380.30" stroke="#000" stroke-width="1.6" stroke-linecap="butt"/>
<text x="160.40" y="384.10" text-anchor="end" style="font-size:10.0px;font-weight:bold;" fill="#000">0.0</text>
<line x1="161.80" y1="333.77" x2="165.80" y2="333.77" stroke="#000" stroke-width="1.6" stroke-linecap="butt"/>
<text x="160.40" y="337.57" text-anchor="end" style="font-size:10.0px;font-weight:bold;" fill="#000">0.5</text>
<line x1="161.80" y1="287.23" x2="165.80" y2="287.23" stroke="#000" stroke-width="1.6" stroke-linecap="butt"/>
<text x="160.40" y="291.03" text-anchor="end" style="font-size:10.0px;font-weight:bold;" fill="#000"> .0</text>
<line x1="161.80" y1="240.70" x2="165.80" y2="240.70" stroke="#000" stroke-width="1.6" stroke-linecap="butt"/>
<text x="160.40" y="244.50" text-anchor="end" style="font-size:10.0px;font-weight:bold;" fill="#000"> .5</text>
<text x="185.40" y="391.50" text-anchor="end" style="font-size:10.4px;font-weight:bold;" fill="#000" transform="rotate(-40 185.40 391.50)">Guy  </text>
<text x="204.05" y="392.10" text-anchor="end" style="font-size:10.4px;font-weight:bold;" fill="#000" transform="rotate(-40 204.05 392.10)"><tspan font-style="italic">ΔMoCel 2A</tspan>-2</text>
<text x="221.80" y="392.65" text-anchor="end" style="font-size:10.4px;font-weight:bold;" fill="#000" transform="rotate(-40 221.80 392.65)"><tspan font-style="italic">ΔMoCel 2A</tspan>-5</text>
<text x="140.95" y="308.50" text-anchor="middle" style="font-size:10.2px;font-weight:bold;" fill="#000" transform="rotate(-90 140.95 308.50)">Relative biomass (<tspan font-style="italic">Pot2/OsUbi</tspan>)</text>
<line x1="358.10" y1="352.31" x2="358.10" y2="343.59" stroke="#404040" stroke-width="0.9" stroke-linecap="butt"/>
<line x1="354.30" y1="343.59" x2="361.90" y2="343.59" stroke="#404040" stroke-width="0.9" stroke-linecap="butt"/>
<rect x="351.00" y="352.31" width="14.20" height="27.99" fill="#ff8000" stroke="#000" stroke-width="1.1"/>
<circle cx="358.10" cy="343.59" r="1.45" fill="none" stroke="#000" stroke-width="1.0"/>
<circle cx="358.10" cy="351.71" r="1.45" fill="none" stroke="#000" stroke-width="1.0"/>
<circle cx="358.10" cy="359.59" r="1.45" fill="none" stroke="#000" stroke-width="1.0"/>
<line x1="358.10" y1="380.30" x2="358.10" y2="384.10" stroke="#000" stroke-width="1.6" stroke-linecap="butt"/>
<line x1="377.80" y1="306.51" x2="377.80" y2="286.09" stroke="#404040" stroke-width="0.9" stroke-linecap="butt"/>
<line x1="374.00" y1="286.09" x2="381.60" y2="286.09" stroke="#404040" stroke-width="0.9" stroke-linecap="butt"/>
<rect x="370.70" y="306.51" width="14.20" height="73.79" fill="#ff8000" stroke="#000" stroke-width="1.1"/>
<circle cx="377.80" cy="282.90" r="1.45" fill="none" stroke="#000" stroke-width="1.0"/>
<circle cx="377.80" cy="314.91" r="1.45" fill="none" stroke="#000" stroke-width="1.0"/>
<circle cx="377.80" cy="320.07" r="1.45" fill="none" stroke="#000" stroke-width="1.0"/>
<line x1="377.80" y1="380.30" x2="377.80" y2="384.10" stroke="#000" stroke-width="1.6" stroke-linecap="butt"/>
<line x1="397.40" y1="279.00" x2="397.40" y2="265.29" stroke="#404040" stroke-width="0.9" stroke-linecap="butt"/>
<line x1="393.60" y1="265.29" x2="401.20" y2="265.29" stroke="#404040" stroke-width="0.9" stroke-linecap="butt"/>
<rect x="390.30" y="279.00" width="14.20" height="101.30" fill="#ff8000" stroke="#000" stroke-width="1.1"/>
<circle cx="397.40" cy="264.20" r="1.45" fill="none" stroke="#000" stroke-width="1.0"/>
<circle cx="397.40" cy="282.39" r="1.45" fill="none" stroke="#000" stroke-width="1.0"/>
<circle cx="397.40" cy="288.81" r="1.45" fill="none" stroke="#000" stroke-width="1.0"/>
<line x1="397.40" y1="380.30" x2="397.40" y2="384.10" stroke="#000" stroke-width="1.6" stroke-linecap="butt"/>
<line x1="342.00" y1="236.10" x2="342.00" y2="381.10" stroke="#000" stroke-width="1.6" stroke-linecap="butt"/>
<line x1="341.20" y1="380.30" x2="413.80" y2="380.30" stroke="#000" stroke-width="1.6" stroke-linecap="butt"/>
<line x1="338.00" y1="380.30" x2="342.00" y2="380.30" stroke="#000" stroke-width="1.6" stroke-linecap="butt"/>
<text x="336.60" y="384.10" text-anchor="end" style="font-size:10.0px;font-weight:bold;" fill="#000">0</text>
<line x1="338.00" y1="351.62" x2="342.00" y2="351.62" stroke="#000" stroke-width="1.6" stroke-linecap="butt"/>
<text x="336.60" y="355.42" text-anchor="end" style="font-size:10.0px;font-weight:bold;" fill="#000"> </text>
<line x1="338.00" y1="322.94" x2="342.00" y2="322.94" stroke="#000" stroke-width="1.6" stroke-linecap="butt"/>
<text x="336.60" y="326.74" text-anchor="end" style="font-size:10.0px;font-weight:bold;" fill="#000">2</text>
<line x1="338.00" y1="294.26" x2="342.00" y2="294.26" stroke="#000" stroke-width="1.6" stroke-linecap="butt"/>
<text x="336.60" y="298.06" text-anchor="end" style="font-size:10.0px;font-weight:bold;" fill="#000">3</text>
<line x1="338.00" y1="265.58" x2="342.00" y2="265.58" stroke="#000" stroke-width="1.6" stroke-linecap="butt"/>
<text x="336.60" y="269.38" text-anchor="end" style="font-size:10.0px;font-weight:bold;" fill="#000">4</text>
<line x1="338.00" y1="236.90" x2="342.00" y2="236.90" stroke="#000" stroke-width="1.6" stroke-linecap="butt"/>
<text x="336.60" y="240.70" text-anchor="end" style="font-size:10.0px;font-weight:bold;" fill="#000">5</text>
<text x="362.20" y="391.35" text-anchor="end" style="font-size:10.4px;font-weight:bold;" fill="#000" transform="rotate(-40 362.20 391.35)">Guy  </text>
<text x="382.40" y="392.10" text-anchor="end" style="font-size:10.4px;font-weight:bold;" fill="#000" transform="rotate(-40 382.40 392.10)"><tspan font-style="italic">ΔMoCel 2A/B</tspan>- </text>
<text x="402.10" y="392.70" text-anchor="end" style="font-size:10.4px;font-weight:bold;" fill="#000" transform="rotate(-40 402.10 392.70)"><tspan font-style="italic">ΔMoCel 2A/B</tspan>-4</text>
<text x="325.00" y="306.70" text-anchor="middle" style="font-size:10.1px;font-weight:bold;" fill="#000" transform="rotate(-90 325.00 306.70)">Relative biomass (<tspan font-style="italic">Pot2/OsUbi</tspan>)</text>
<line x1="613.40" y1="263.78" x2="613.40" y2="257.19" stroke="#404040" stroke-width="0.9" stroke-linecap="butt"/>
<line x1="610.00" y1="257.19" x2="616.80" y2="257.19" stroke="#404040" stroke-width="0.9" stroke-linecap="butt"/>
<rect x="606.65" y="263.78" width="13.50" height="117.12" fill="#ff8000" stroke="#000" stroke-width="1.1"/>
<circle cx="609.70" cy="258.37" r="1.45" fill="none" stroke="#000" stroke-width="1.0"/>
<circle cx="617.30" cy="261.07" r="1.45" fill="none" stroke="#000" stroke-width="1.0"/>
<circle cx="613.70" cy="270.84" r="1.45" fill="none" stroke="#000" stroke-width="1.0"/>
<line x1="613.40" y1="380.90" x2="613.40" y2="384.70" stroke="#000" stroke-width="1.6" stroke-linecap="butt"/>
<line x1="631.60" y1="269.19" x2="631.60" y2="252.24" stroke="#404040" stroke-width="0.9" stroke-linecap="butt"/>
<line x1="628.20" y1="252.24" x2="635.00" y2="252.24" stroke="#404040" stroke-width="0.9" stroke-linecap="butt"/>
<rect x="624.85" y="269.19" width="13.50" height="111.71" fill="#ff8000" stroke="#000" stroke-width="1.1"/>
<circle cx="631.80" cy="250.60" r="1.45" fill="none" stroke="#000" stroke-width="1.0"/>
<circle cx="627.90" cy="276.02" r="1.45" fill="none" stroke="#000" stroke-width="1.0"/>
<circle cx="635.40" cy="279.55" r="1.45" fill="none" stroke="#000" stroke-width="1.0"/>
<line x1="631.60" y1="380.90" x2="631.60" y2="384.70" stroke="#000" stroke-width="1.6" stroke-linecap="butt"/>
<line x1="649.90" y1="372.31" x2="649.90" y2="370.89" stroke="#404040" stroke-width="0.9" stroke-linecap="butt"/>
<line x1="646.50" y1="370.89" x2="653.30" y2="370.89" stroke="#404040" stroke-width="0.9" stroke-linecap="butt"/>
<rect x="643.15" y="372.31" width="13.50" height="8.59" fill="#ff8000" stroke="#000" stroke-width="1.1"/>
<circle cx="645.70" cy="371.13" r="1.45" fill="none" stroke="#000" stroke-width="1.0"/>
<circle cx="650.20" cy="371.13" r="1.45" fill="none" stroke="#000" stroke-width="1.0"/>
<circle cx="654.60" cy="373.84" r="1.45" fill="none" stroke="#000" stroke-width="1.0"/>
<line x1="649.90" y1="380.90" x2="649.90" y2="384.70" stroke="#000" stroke-width="1.6" stroke-linecap="butt"/>
<line x1="668.00" y1="370.54" x2="668.00" y2="369.13" stroke="#404040" stroke-width="0.9" stroke-linecap="butt"/>
<line x1="664.60" y1="369.13" x2="671.40" y2="369.13" stroke="#404040" stroke-width="0.9" stroke-linecap="butt"/>
<rect x="661.25" y="370.54" width="13.50" height="10.36" fill="#ff8000" stroke="#000" stroke-width="1.1"/>
<circle cx="663.30" cy="367.60" r="1.45" fill="none" stroke="#000" stroke-width="1.0"/>
<circle cx="668.00" cy="370.54" r="1.45" fill="none" stroke="#000" stroke-width="1.0"/>
<circle cx="673.20" cy="370.54" r="1.45" fill="none" stroke="#000" stroke-width="1.0"/>
<line x1="668.00" y1="380.90" x2="668.00" y2="384.70" stroke="#000" stroke-width="1.6" stroke-linecap="butt"/>
<line x1="598.40" y1="238.85" x2="598.40" y2="381.70" stroke="#000" stroke-width="1.6" stroke-linecap="butt"/>
<line x1="597.60" y1="380.90" x2="683.80" y2="380.90" stroke="#000" stroke-width="1.6" stroke-linecap="butt"/>
<line x1="594.40" y1="380.90" x2="598.40" y2="380.90" stroke="#000" stroke-width="1.6" stroke-linecap="butt"/>
<text x="593.00" y="384.70" text-anchor="end" style="font-size:10.0px;font-weight:bold;" fill="#000">0.0</text>
<line x1="594.40" y1="345.59" x2="598.40" y2="345.59" stroke="#000" stroke-width="1.6" stroke-linecap="butt"/>
<text x="593.00" y="349.39" text-anchor="end" style="font-size:10.0px;font-weight:bold;" fill="#000">0.3</text>
<line x1="594.40" y1="310.27" x2="598.40" y2="310.27" stroke="#000" stroke-width="1.6" stroke-linecap="butt"/>
<text x="593.00" y="314.07" text-anchor="end" style="font-size:10.0px;font-weight:bold;" fill="#000">0.6</text>
<line x1="594.40" y1="274.96" x2="598.40" y2="274.96" stroke="#000" stroke-width="1.6" stroke-linecap="butt"/>
<text x="593.00" y="278.76" text-anchor="end" style="font-size:10.0px;font-weight:bold;" fill="#000">0.9</text>
<line x1="594.40" y1="239.65" x2="598.40" y2="239.65" stroke="#000" stroke-width="1.6" stroke-linecap="butt"/>
<text x="593.00" y="243.45" text-anchor="end" style="font-size:10.0px;font-weight:bold;" fill="#000"> .2</text>
<text x="617.70" y="391.40" text-anchor="end" style="font-size:10.4px;font-weight:bold;" fill="#000" transform="rotate(-40 617.70 391.40)">Guy  </text>
<text x="635.80" y="391.40" text-anchor="end" style="font-size:10.4px;font-weight:bold;" fill="#000" transform="rotate(-40 635.80 391.40)">GFP</text>
<text x="653.70" y="392.10" text-anchor="end" style="font-size:10.4px;font-weight:bold;" fill="#000" transform="rotate(-40 653.70 392.10)"><tspan font-style="italic">MoCel 2A</tspan>- </text>
<text x="675.60" y="391.85" text-anchor="end" style="font-size:10.4px;font-weight:bold;" fill="#000" transform="rotate(-40 675.60 391.85)"><tspan font-style="italic">MoCel 2A</tspan>-3</text>
<text x="573.50" y="308.20" text-anchor="middle" style="font-size:10.3px;font-weight:bold;" fill="#000" transform="rotate(-90 573.50 308.20)">Relative biomass (<tspan font-style="italic">Pot2/OsUbi</tspan>)</text>
<polygon points="377.80,274.40 378.59,276.51 380.84,276.61 379.08,278.02 379.68,280.19 377.80,278.95 375.92,280.19 376.52,278.02 374.76,276.61 377.01,276.51" fill="#000"/>
<polygon points="393.80,255.80 394.59,257.91 396.84,258.01 395.08,259.42 395.68,261.59 393.80,260.35 391.92,261.59 392.52,259.42 390.76,258.01 393.01,257.91" fill="#000"/>
<polygon points="400.30,255.80 401.09,257.91 403.34,258.01 401.58,259.42 402.18,261.59 400.30,260.35 398.42,261.59 399.02,259.42 397.26,258.01 399.51,257.91" fill="#000"/>
<polygon points="646.60,357.40 647.25,359.41 649.36,359.40 647.65,360.64 648.30,362.65 646.60,361.40 644.90,362.65 645.55,360.64 643.84,359.40 645.95,359.41" fill="#000"/>
<polygon points="652.20,357.40 652.85,359.41 654.96,359.40 653.25,360.64 653.90,362.65 652.20,361.40 650.50,362.65 651.15,360.64 649.44,359.40 651.55,359.41" fill="#000"/>
<polygon points="664.60,357.40 665.25,359.41 667.36,359.40 665.65,360.64 666.30,362.65 664.60,361.40 662.90,362.65 663.55,360.64 661.84,359.40 663.95,359.41" fill="#000"/>
<polygon points="670.20,357.40 670.85,359.41 672.96,359.40 671.25,360.64 671.90,362.65 670.20,361.40 668.50,362.65 669.15,360.64 667.44,359.40 669.55,359.41" fill="#000"/>
<text x="381.60" y="367.75" text-anchor="start" style="font-size:9.3px;font-weight:bold;stroke-width:0.1px;" fill="#000" transform="rotate(-90 381.60 367.75)">P = 0.02</text>
<text x="400.70" y="338.20" text-anchor="start" style="font-size:9.2px;font-weight:bold;stroke-width:0.1px;" fill="#000" transform="rotate(-90 400.70 338.20)">P = 0.00 </text>
<text x="654.40" y="352.60" text-anchor="start" style="font-size:9.776000000000002px;font-weight:bold;stroke-width:0.2px;" fill="#000" transform="rotate(-90 654.40 352.60)">P = 9.32</text>
<line x1="647.30" y1="309.30" x2="653.10" y2="315.10" stroke="#000" stroke-width="0.95" stroke-linecap="butt"/>
<line x1="647.30" y1="315.10" x2="653.10" y2="309.30" stroke="#000" stroke-width="0.95" stroke-linecap="butt"/>
<text x="654.40" y="307.60" text-anchor="start" style="font-size:9.118px;font-weight:bold;stroke-width:0.2px;" fill="#000" transform="rotate(-90 654.40 307.60)"> 0</text>
<text x="649.70" y="297.00" text-anchor="start" style="font-size:6.392px;font-weight:bold;stroke-width:0.1px;" fill="#000" transform="rotate(-90 649.70 297.00)">-6</text>
<text x="671.50" y="352.60" text-anchor="start" style="font-size:9.776000000000002px;font-weight:bold;stroke-width:0.2px;" fill="#000" transform="rotate(-90 671.50 352.60)">P =  .03</text>
<line x1="664.40" y1="309.30" x2="670.20" y2="315.10" stroke="#000" stroke-width="0.95" stroke-linecap="butt"/>
<line x1="664.40" y1="315.10" x2="670.20" y2="309.30" stroke="#000" stroke-width="0.95" stroke-linecap="butt"/>
<text x="671.50" y="307.60" text-anchor="start" style="font-size:9.118px;font-weight:bold;stroke-width:0.2px;" fill="#000" transform="rotate(-90 671.50 307.60)"> 0</text>
<text x="666.80" y="297.00" text-anchor="start" style="font-size:6.392px;font-weight:bold;stroke-width:0.1px;" fill="#000" transform="rotate(-90 666.80 297.00)">-5</text>
<path transform="rotate(-40 37.00 389.25) translate(25.30 389.25) scale(0.00513 -0.00513)" d="M478 0V1170L140 959V1180L493 1409H759V0Z" fill="#000" stroke="#000" stroke-width="74.1"/>
<path transform="rotate(-40 37.00 389.25) translate(31.14 389.25) scale(0.00513 -0.00513)" d="M478 0V1170L140 959V1180L493 1409H759V0Z" fill="#000" stroke="#000" stroke-width="74.1"/>
<path transform="rotate(-40 78.80 390.45) translate(50.19 390.45) scale(0.00513 -0.00513)" d="M380 0L604 1152L223 938L270 1180L666 1409H936L661 0Z" fill="#000" stroke="#000" stroke-width="74.1"/>
<path transform="rotate(-40 113.90 390.15) translate(85.29 390.15) scale(0.00513 -0.00513)" d="M380 0L604 1152L223 938L270 1180L666 1409H936L661 0Z" fill="#000" stroke="#000" stroke-width="74.1"/>
<path transform="rotate(-40 260.45 388.95) translate(248.89 388.95) scale(0.00508 -0.00508)" d="M478 0V1170L140 959V1180L493 1409H759V0Z" fill="#000" stroke="#000" stroke-width="74.8"/>
<path transform="rotate(-40 260.45 388.95) translate(254.67 388.95) scale(0.00508 -0.00508)" d="M478 0V1170L140 959V1180L493 1409H759V0Z" fill="#000" stroke="#000" stroke-width="74.8"/>
<path transform="rotate(-40 280.25 391.00) translate(241.53 391.00) scale(0.00508 -0.00508)" d="M380 0L604 1152L223 938L270 1180L666 1409H936L661 0Z" fill="#000" stroke="#000" stroke-width="74.8"/>
<path transform="rotate(-40 280.25 391.00) translate(274.45 391.00) scale(0.00508 -0.00508)" d="M478 0V1170L140 959V1180L493 1409H759V0Z" fill="#000" stroke="#000" stroke-width="74.8"/>
<path transform="rotate(-40 300.95 390.30) translate(262.23 390.30) scale(0.00508 -0.00508)" d="M380 0L604 1152L223 938L270 1180L666 1409H936L661 0Z" fill="#000" stroke="#000" stroke-width="74.8"/>
<path transform="rotate(-40 449.80 391.50) translate(438.00 391.50) scale(0.00518 -0.00518)" d="M478 0V1170L140 959V1180L493 1409H759V0Z" fill="#000" stroke="#000" stroke-width="73.4"/>
<path transform="rotate(-40 449.80 391.50) translate(443.89 391.50) scale(0.00518 -0.00518)" d="M478 0V1170L140 959V1180L493 1409H759V0Z" fill="#000" stroke="#000" stroke-width="73.4"/>
<path transform="rotate(-40 519.30 392.00) translate(490.44 392.00) scale(0.00518 -0.00518)" d="M380 0L604 1152L223 938L270 1180L666 1409H936L661 0Z" fill="#000" stroke="#000" stroke-width="73.4"/>
<path transform="rotate(-40 519.30 392.00) translate(513.39 392.00) scale(0.00518 -0.00518)" d="M478 0V1170L140 959V1180L493 1409H759V0Z" fill="#000" stroke="#000" stroke-width="73.4"/>
<path transform="rotate(-40 553.90 392.30) translate(525.04 392.30) scale(0.00518 -0.00518)" d="M380 0L604 1152L223 938L270 1180L666 1409H936L661 0Z" fill="#000" stroke="#000" stroke-width="73.4"/>
<path transform="translate(17.33 88.12) scale(0.00498 -0.00498)" d="M478 0V1170L140 959V1180L493 1409H759V0Z" fill="#000" stroke="#000" stroke-width="76.3"/>
<path transform="rotate(-45 111.20 151.65) translate(99.14 151.65) scale(0.00530 -0.00530)" d="M478 0V1170L140 959V1180L493 1409H759V0Z" fill="#000" stroke="#000" stroke-width="71.7"/>
<path transform="translate(114.66 25.85) scale(0.00537 -0.00537)" d="M380 0L604 1152L223 938L270 1180L666 1409H936L661 0Z" fill="#000" stroke="#000" stroke-width="70.7"/>
<path transform="translate(197.93 105.94) scale(0.00498 -0.00498)" d="M478 0V1170L140 959V1180L493 1409H759V0Z" fill="#000" stroke="#000" stroke-width="76.3"/>
<path transform="rotate(-45 284.10 156.80) translate(272.04 156.80) scale(0.00530 -0.00530)" d="M478 0V1170L140 959V1180L493 1409H759V0Z" fill="#000" stroke="#000" stroke-width="71.7"/>
<path transform="translate(287.61 24.10) scale(0.00537 -0.00537)" d="M380 0L604 1152L223 938L270 1180L666 1409H936L661 0Z" fill="#000" stroke="#000" stroke-width="70.7"/>
<path transform="rotate(-45 426.10 150.55) translate(406.29 150.55) scale(0.00527 -0.00527)" d="M478 0V1170L140 959V1180L493 1409H759V0Z" fill="#000" stroke="#000" stroke-width="72.1"/>
<path transform="rotate(-45 448.20 149.55) translate(385.59 149.55) scale(0.00527 -0.00527)" d="M478 0V1170L140 959V1180L493 1409H759V0Z" fill="#000" stroke="#000" stroke-width="72.1"/>
<path transform="rotate(-45 448.20 149.55) translate(418.78 149.55) scale(0.00527 -0.00527)" d="M478 0V1170L140 959V1180L493 1409H759V0Z" fill="#000" stroke="#000" stroke-width="72.1"/>
<path transform="rotate(-45 468.85 149.60) translate(406.24 149.60) scale(0.00527 -0.00527)" d="M478 0V1170L140 959V1180L493 1409H759V0Z" fill="#000" stroke="#000" stroke-width="72.1"/>
<path transform="rotate(-45 488.75 148.55) translate(468.94 148.55) scale(0.00527 -0.00527)" d="M478 0V1170L140 959V1180L493 1409H759V0Z" fill="#000" stroke="#000" stroke-width="72.1"/>
<path transform="rotate(-45 508.50 148.90) translate(488.69 148.90) scale(0.00527 -0.00527)" d="M478 0V1170L140 959V1180L493 1409H759V0Z" fill="#000" stroke="#000" stroke-width="72.1"/>
<path transform="translate(535.01 79.52) scale(0.00518 -0.00518)" d="M478 0V1170L140 959V1180L493 1409H759V0Z" fill="#000" stroke="#000" stroke-width="73.4"/>
<path transform="translate(535.01 50.49) scale(0.00518 -0.00518)" d="M478 0V1170L140 959V1180L493 1409H759V0Z" fill="#000" stroke="#000" stroke-width="73.4"/>
<path transform="rotate(-45 592.45 149.70) translate(572.64 149.70) scale(0.00527 -0.00527)" d="M478 0V1170L140 959V1180L493 1409H759V0Z" fill="#000" stroke="#000" stroke-width="72.1"/>
<path transform="rotate(-45 614.70 148.30) translate(552.09 148.30) scale(0.00527 -0.00527)" d="M478 0V1170L140 959V1180L493 1409H759V0Z" fill="#000" stroke="#000" stroke-width="72.1"/>
<path transform="rotate(-45 614.70 148.30) translate(585.28 148.30) scale(0.00527 -0.00527)" d="M478 0V1170L140 959V1180L493 1409H759V0Z" fill="#000" stroke="#000" stroke-width="72.1"/>
<path transform="rotate(-45 634.15 147.60) translate(571.54 147.60) scale(0.00527 -0.00527)" d="M478 0V1170L140 959V1180L493 1409H759V0Z" fill="#000" stroke="#000" stroke-width="72.1"/>
<path transform="rotate(-45 654.45 147.55) translate(634.64 147.55) scale(0.00527 -0.00527)" d="M478 0V1170L140 959V1180L493 1409H759V0Z" fill="#000" stroke="#000" stroke-width="72.1"/>
<path transform="rotate(-45 674.15 147.90) translate(654.34 147.90) scale(0.00527 -0.00527)" d="M478 0V1170L140 959V1180L493 1409H759V0Z" fill="#000" stroke="#000" stroke-width="72.1"/>
<path transform="translate(146.49 291.03) scale(0.00488 -0.00488)" d="M478 0V1170L140 959V1180L493 1409H759V0Z" fill="#000" stroke="#000" stroke-width="77.8"/>
<path transform="translate(146.49 244.50) scale(0.00488 -0.00488)" d="M478 0V1170L140 959V1180L493 1409H759V0Z" fill="#000" stroke="#000" stroke-width="77.8"/>
<path transform="rotate(-40 185.40 391.50) translate(173.84 391.50) scale(0.00508 -0.00508)" d="M478 0V1170L140 959V1180L493 1409H759V0Z" fill="#000" stroke="#000" stroke-width="74.8"/>
<path transform="rotate(-40 185.40 391.50) translate(179.62 391.50) scale(0.00508 -0.00508)" d="M478 0V1170L140 959V1180L493 1409H759V0Z" fill="#000" stroke="#000" stroke-width="74.8"/>
<path transform="rotate(-40 204.05 392.10) translate(175.72 392.10) scale(0.00508 -0.00508)" d="M380 0L604 1152L223 938L270 1180L666 1409H936L661 0Z" fill="#000" stroke="#000" stroke-width="74.8"/>
<path transform="rotate(-40 221.80 392.65) translate(193.47 392.65) scale(0.00508 -0.00508)" d="M380 0L604 1152L223 938L270 1180L666 1409H936L661 0Z" fill="#000" stroke="#000" stroke-width="74.8"/>
<path transform="translate(331.04 355.42) scale(0.00488 -0.00488)" d="M478 0V1170L140 959V1180L493 1409H759V0Z" fill="#000" stroke="#000" stroke-width="77.8"/>
<path transform="rotate(-40 362.20 391.35) translate(350.64 391.35) scale(0.00508 -0.00508)" d="M478 0V1170L140 959V1180L493 1409H759V0Z" fill="#000" stroke="#000" stroke-width="74.8"/>
<path transform="rotate(-40 362.20 391.35) translate(356.42 391.35) scale(0.00508 -0.00508)" d="M478 0V1170L140 959V1180L493 1409H759V0Z" fill="#000" stroke="#000" stroke-width="74.8"/>
<path transform="rotate(-40 382.40 392.10) translate(343.68 392.10) scale(0.00508 -0.00508)" d="M380 0L604 1152L223 938L270 1180L666 1409H936L661 0Z" fill="#000" stroke="#000" stroke-width="74.8"/>
<path transform="rotate(-40 382.40 392.10) translate(376.60 392.10) scale(0.00508 -0.00508)" d="M478 0V1170L140 959V1180L493 1409H759V0Z" fill="#000" stroke="#000" stroke-width="74.8"/>
<path transform="rotate(-40 402.10 392.70) translate(363.38 392.70) scale(0.00508 -0.00508)" d="M380 0L604 1152L223 938L270 1180L666 1409H936L661 0Z" fill="#000" stroke="#000" stroke-width="74.8"/>
<path transform="translate(579.09 243.45) scale(0.00488 -0.00488)" d="M478 0V1170L140 959V1180L493 1409H759V0Z" fill="#000" stroke="#000" stroke-width="77.8"/>
<path transform="rotate(-40 617.70 391.40) translate(606.14 391.40) scale(0.00508 -0.00508)" d="M478 0V1170L140 959V1180L493 1409H759V0Z" fill="#000" stroke="#000" stroke-width="74.8"/>
<path transform="rotate(-40 617.70 391.40) translate(611.92 391.40) scale(0.00508 -0.00508)" d="M478 0V1170L140 959V1180L493 1409H759V0Z" fill="#000" stroke="#000" stroke-width="74.8"/>
<path transform="rotate(-40 653.70 392.10) translate(625.39 392.10) scale(0.00508 -0.00508)" d="M380 0L604 1152L223 938L270 1180L666 1409H936L661 0Z" fill="#000" stroke="#000" stroke-width="74.8"/>
<path transform="rotate(-40 653.70 392.10) translate(647.90 392.10) scale(0.00508 -0.00508)" d="M478 0V1170L140 959V1180L493 1409H759V0Z" fill="#000" stroke="#000" stroke-width="74.8"/>
<path transform="rotate(-40 675.60 391.85) translate(647.29 391.85) scale(0.00508 -0.00508)" d="M380 0L604 1152L223 938L270 1180L666 1409H936L661 0Z" fill="#000" stroke="#000" stroke-width="74.8"/>
<path transform="rotate(-90 400.70 338.20) translate(435.01 338.20) scale(0.00449 -0.00449)" d="M478 0V1170L140 959V1180L493 1409H759V0Z" fill="#000" stroke="#000" stroke-width="22.3"/>
<path transform="rotate(-90 654.40 307.60) translate(654.40 307.60) scale(0.00445 -0.00445)" d="M478 0V1170L140 959V1180L493 1409H759V0Z" fill="#000" stroke="#000" stroke-width="44.9"/>
<path transform="rotate(-90 671.50 352.60) translate(688.95 352.60) scale(0.00477 -0.00477)" d="M478 0V1170L140 959V1180L493 1409H759V0Z" fill="#000" stroke="#000" stroke-width="41.9"/>
<path transform="rotate(-90 671.50 307.60) translate(671.50 307.60) scale(0.00445 -0.00445)" d="M478 0V1170L140 959V1180L493 1409H759V0Z" fill="#000" stroke="#000" stroke-width="44.9"/>
</svg></body></html>
